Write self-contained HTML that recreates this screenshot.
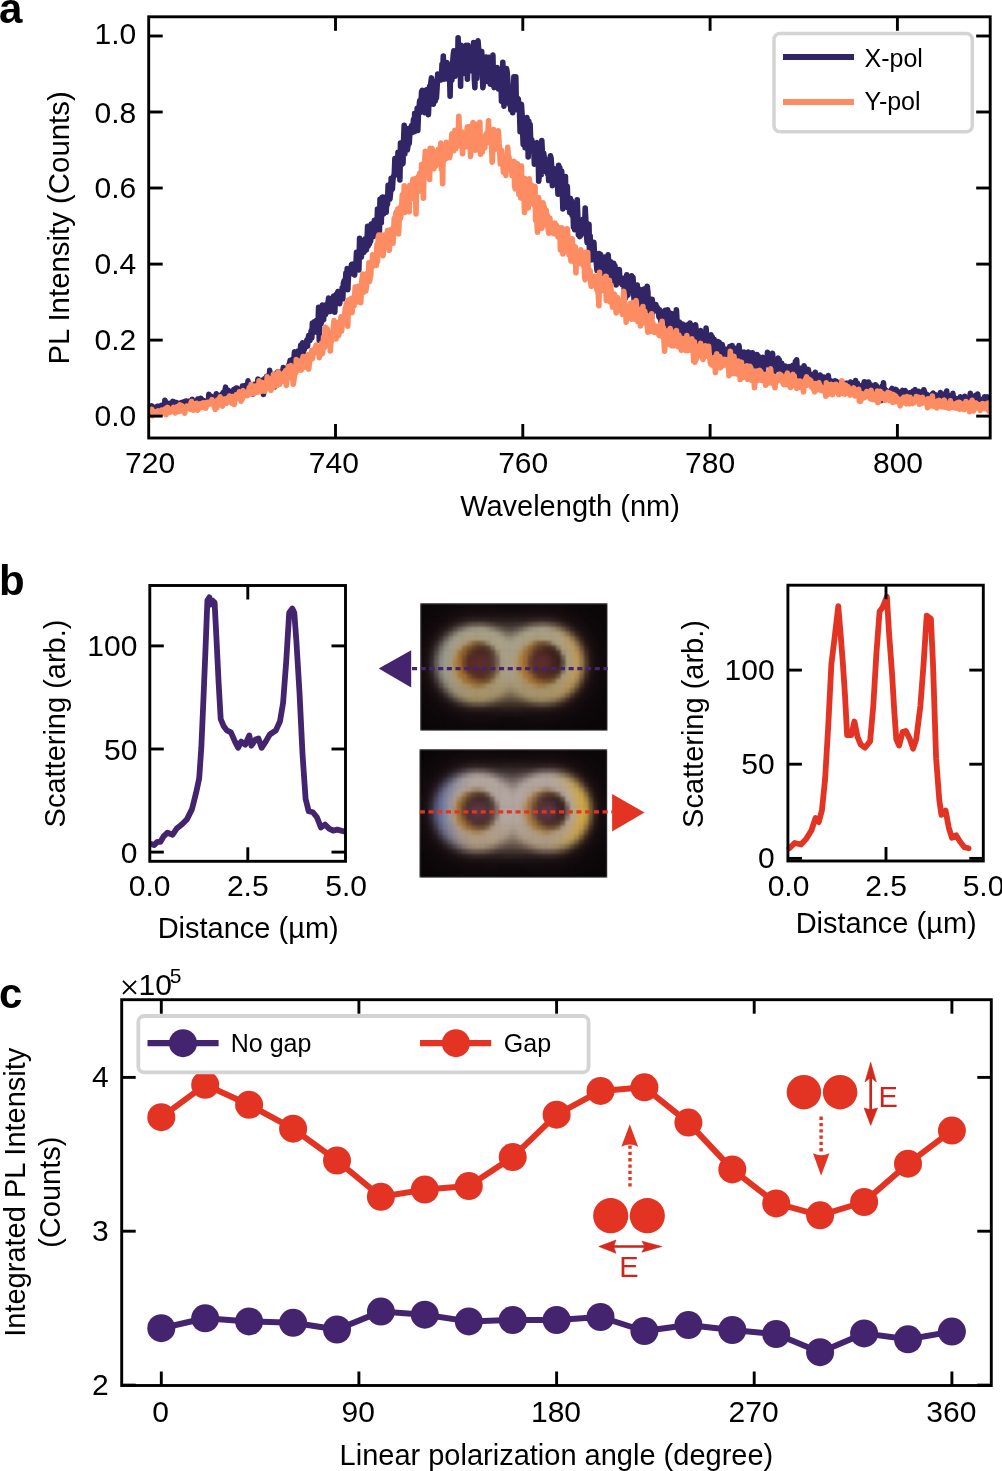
<!DOCTYPE html>
<html><head><meta charset="utf-8"><style>
html,body{margin:0;padding:0;background:#fff;}
svg{display:block;font-family:"Liberation Sans", sans-serif;will-change:transform;}
</style></head><body>
<svg width="1002" height="1471" viewBox="0 0 1002 1471">
<defs>
<clipPath id="clipA"><rect x="148.7" y="16.8" width="841.5" height="421.2"/></clipPath>
<filter id="blur8" x="-50%" y="-50%" width="200%" height="200%"><feGaussianBlur stdDeviation="7"/></filter>
<filter id="blur1" x="-5%" y="-5%" width="110%" height="110%" color-interpolation-filters="sRGB"><feGaussianBlur stdDeviation="1.3"/></filter>
<filter id="blur4" x="-50%" y="-50%" width="200%" height="200%"><feGaussianBlur stdDeviation="4"/></filter>
</defs>
<g clip-path="url(#clipA)">
<path d="M150 409.4 L150.6 410.4 L151.2 409.4 L151.9 405.9 L152.5 410.5 L153.1 409.4 L153.7 407.3 L154.3 409.6 L155 409.1 L155.6 408.8 L156.2 408.2 L156.8 409.2 L157.4 406.3 L158.1 407.4 L158.7 406.6 L159.3 408.9 L159.9 407.5 L160.5 406.7 L161.2 405.5 L161.8 406.5 L162.4 407 L163 406.2 L163.6 409.7 L164.3 408.9 L164.9 400.2 L165.5 402 L166.1 405.9 L166.7 405.2 L167.4 406.6 L168 406.5 L168.6 410.9 L169.2 403.2 L169.8 404.8 L170.5 410.5 L171.1 407.1 L171.7 407.1 L172.3 404.2 L172.9 401.4 L173.6 405.7 L174.2 405.5 L174.8 402.2 L175.4 403.4 L176 404.9 L176.7 402.7 L177.3 404.7 L177.9 405.1 L178.5 404.9 L179.1 403.5 L179.8 406.2 L180.4 406.9 L181 405.4 L181.6 402.5 L182.2 406.3 L182.9 403.2 L183.5 406.6 L184.1 401.7 L184.7 406.6 L185.3 404.2 L186 401.1 L186.6 403.4 L187.2 404.3 L187.8 404.8 L188.4 401.5 L189.1 401.1 L189.7 404.4 L190.3 402.6 L190.9 404.4 L191.5 405.7 L192.2 399.4 L192.8 404.2 L193.4 406.7 L194 402.7 L194.6 401.3 L195.3 405.3 L195.9 403.9 L196.5 405.5 L197.1 402.2 L197.7 399.1 L198.4 402.6 L199 401.7 L199.6 404.8 L200.2 403.2 L200.8 398.2 L201.5 399.3 L202.1 404.7 L202.7 404 L203.3 400.4 L203.9 401.9 L204.6 403 L205.2 402.9 L205.8 403.9 L206.4 402 L207 400.9 L207.7 400.3 L208.3 403.8 L208.9 394.4 L209.5 400.1 L210.1 400.4 L210.8 396.1 L211.4 400.8 L212 397.8 L212.6 402 L213.2 398.9 L213.9 401 L214.5 402.4 L215.1 399.8 L215.7 395.9 L216.3 393.8 L217 403.3 L217.6 397.5 L218.2 395.5 L218.8 397.8 L219.4 396.6 L220.1 399.6 L220.7 396.8 L221.3 396.6 L221.9 394.1 L222.5 397.5 L223.2 392.6 L223.8 397.7 L224.4 400.2 L225 390.4 L225.6 387.2 L226.3 396.8 L226.9 402.8 L227.5 391.2 L228.1 390.2 L228.7 395.9 L229.4 391.1 L230 392 L230.6 392.3 L231.2 395 L231.8 391.8 L232.5 393.8 L233.1 392.1 L233.7 389.7 L234.3 391.3 L234.9 389 L235.6 392 L236.2 388.1 L236.8 388 L237.4 396.4 L238 391.1 L238.7 390.9 L239.3 392.7 L239.9 389.3 L240.5 389.8 L241.1 391.9 L241.8 391.2 L242.4 386.1 L243 392.8 L243.6 387.7 L244.2 385.8 L244.9 386.2 L245.5 387.8 L246.1 394.8 L246.7 384.7 L247.3 389.2 L248 380.9 L248.6 388.3 L249.2 391.3 L249.8 387.1 L250.4 385.5 L251.1 388.4 L251.7 389.9 L252.3 389.6 L252.9 394.1 L253.5 387.5 L254.2 384.4 L254.8 385.9 L255.4 385.9 L256 386.4 L256.6 385.7 L257.3 386.2 L257.9 379.1 L258.5 388.2 L259.1 382.8 L259.7 380.3 L260.4 386.9 L261 389.3 L261.6 385.9 L262.2 384.5 L262.8 380.1 L263.5 394.4 L264.1 386.6 L264.7 378.6 L265.3 379.8 L265.9 382.9 L266.6 376.3 L267.2 382.7 L267.8 380 L268.4 386.4 L269 385.1 L269.7 370.4 L270.3 381 L270.9 374.1 L271.5 384.7 L272.1 380.7 L272.8 381.9 L273.4 375.1 L274 386.5 L274.6 386.9 L275.2 374.1 L275.9 379.6 L276.5 374.9 L277.1 377.2 L277.7 371.7 L278.3 384.2 L279 372 L279.6 374.4 L280.2 377.3 L280.8 371.9 L281.4 373.2 L282.1 371.3 L282.7 372.6 L283.3 367.6 L283.9 370.2 L284.5 370.7 L285.2 369.6 L285.8 370.8 L286.4 368.6 L287 372.7 L287.6 367.3 L288.3 367.6 L288.9 364.6 L289.5 364.6 L290.1 360.6 L290.7 368.2 L291.4 359.8 L292 360.9 L292.6 365.4 L293.2 364.9 L293.8 360.4 L294.5 351.9 L295.1 362.9 L295.7 361.3 L296.3 352.4 L296.9 362.3 L297.6 354.2 L298.2 351.2 L298.8 356.5 L299.4 354.2 L300 355.3 L300.7 345.2 L301.3 361.8 L301.9 348.5 L302.5 342.7 L303.1 353 L303.8 347 L304.4 349.6 L305 345.1 L305.6 345.6 L306.2 346.2 L306.9 339.7 L307.5 346.3 L308.1 338.9 L308.7 335.5 L309.3 339.6 L310 340.5 L310.6 335.5 L311.2 330.7 L311.8 338 L312.4 323.1 L313.1 326.1 L313.7 331.2 L314.3 321.8 L314.9 328.9 L315.5 327.3 L316.2 332 L316.8 320.1 L317.4 320.7 L318 325.5 L318.6 307.4 L319.3 340.4 L319.9 316 L320.5 314.8 L321.1 323.7 L321.7 317 L322.4 305.1 L323 319.3 L323.6 319.7 L324.2 310.5 L324.8 310.6 L325.5 314.6 L326.1 304.7 L326.7 312.5 L327.3 310.1 L327.9 303.5 L328.6 298 L329.2 304.9 L329.8 299.8 L330.4 311.5 L331 305.1 L331.7 308.7 L332.3 303.7 L332.9 303.8 L333.5 296.1 L334.1 305.2 L334.8 312.1 L335.4 297.2 L336 294.6 L336.6 296.8 L337.2 293.8 L337.9 291.5 L338.5 296.5 L339.1 292.7 L339.7 303.7 L340.3 292.8 L341 294.1 L341.6 297.5 L342.2 287.7 L342.8 298.9 L343.4 283.2 L344.1 280.8 L344.7 282.8 L345.3 283.4 L345.9 273 L346.5 281.7 L347.2 268.6 L347.8 289.6 L348.4 277.7 L349 272.4 L349.6 269.2 L350.3 271.8 L350.9 271.8 L351.5 264.5 L352.1 264.2 L352.7 268.5 L353.4 264.8 L354 274.6 L354.6 274.9 L355.2 265.2 L355.8 267.4 L356.5 252.3 L357.1 266.2 L357.7 259.8 L358.3 262.5 L358.9 270 L359.6 238.4 L360.2 257 L360.8 245.1 L361.4 257.2 L362 240.8 L362.7 246 L363.3 250.4 L363.9 252.4 L364.5 246.9 L365.1 238.7 L365.8 239.4 L366.4 249.9 L367 241.4 L367.6 226.4 L368.2 246 L368.9 241.3 L369.5 243.9 L370.1 232.6 L370.7 241.1 L371.3 224.1 L372 236.5 L372.6 226.3 L373.2 234.8 L373.8 236.4 L374.4 220.3 L375.1 224.8 L375.7 224.2 L376.3 232.7 L376.9 227.2 L377.5 209.1 L378.2 222.2 L378.8 223.3 L379.4 233.9 L380 199.2 L380.6 207.7 L381.3 222.6 L381.9 197.4 L382.5 197.2 L383.1 210.9 L383.7 213.9 L384.4 197.2 L385 206.5 L385.6 201.2 L386.2 212.3 L386.8 196.9 L387.5 204.3 L388.1 185.4 L388.7 190.3 L389.3 189.4 L389.9 199.2 L390.6 192.3 L391.2 178.2 L391.8 189.8 L392.4 188.9 L393 178.9 L393.7 175.7 L394.3 174.5 L394.9 158.5 L395.5 174.6 L396.1 173.3 L396.8 160.9 L397.4 174.7 L398 152.4 L398.6 158.6 L399.2 157.6 L399.9 179.9 L400.5 143.1 L401.1 162.5 L401.7 164.5 L402.3 157.2 L403 163.4 L403.6 139.9 L404.2 125.3 L404.8 154 L405.4 132.5 L406.1 139.5 L406.7 129.1 L407.3 150 L407.9 146.4 L408.5 128.5 L409.2 143.5 L409.8 133.8 L410.4 129.5 L411 129.9 L411.6 125.6 L412.3 132.5 L412.9 127.7 L413.5 119.3 L414.1 131.8 L414.7 113.3 L415.4 121.2 L416 121 L416.6 130.7 L417.2 108.2 L417.8 130.5 L418.5 112.4 L419.1 107 L419.7 100.5 L420.3 112.6 L420.9 105.5 L421.6 91.8 L422.2 90.3 L422.8 95.2 L423.4 92.7 L424 110.7 L424.7 112.6 L425.3 106 L425.9 99.4 L426.5 89.7 L427.1 93.9 L427.8 102 L428.4 114.6 L429 100.3 L429.6 86.2 L430.2 88.7 L430.9 82.1 L431.5 77.9 L432.1 83.6 L432.7 86.9 L433.3 104.2 L434 83.7 L434.6 97.4 L435.2 101.2 L435.8 81.7 L436.4 98 L437.1 87.4 L437.7 74.1 L438.3 81 L438.9 77.7 L439.5 74.2 L440.2 73.9 L440.8 77.1 L441.4 79.8 L442 64.4 L442.6 73.7 L443.3 56.1 L443.9 75.6 L444.5 79.1 L445.1 73.4 L445.7 74.3 L446.4 77.2 L447 62.5 L447.6 66.8 L448.2 74.7 L448.8 79.7 L449.5 72.3 L450.1 96.3 L450.7 65.8 L451.3 77.6 L451.9 80.2 L452.6 63.8 L453.2 55.5 L453.8 50.9 L454.4 65.8 L455 76.2 L455.7 66.3 L456.3 64.8 L456.9 58.2 L457.5 68.7 L458.1 37.7 L458.8 64.6 L459.4 62.1 L460 45.9 L460.6 86.3 L461.2 45.4 L461.9 48.8 L462.5 47.2 L463.1 73.5 L463.7 50.6 L464.3 68.2 L465 67.2 L465.6 63.4 L466.2 45.3 L466.8 53.2 L467.4 79.3 L468.1 45.3 L468.7 50.5 L469.3 58.2 L469.9 69.3 L470.5 62.9 L471.2 68.6 L471.8 48 L472.4 71.2 L473 67.1 L473.6 42.6 L474.3 78.7 L474.9 87.6 L475.5 53 L476.1 62.8 L476.7 78.5 L477.4 46.1 L478 40.7 L478.6 49 L479.2 57.8 L479.8 58.1 L480.5 71.9 L481.1 68.5 L481.7 51.6 L482.3 72.6 L482.9 87.7 L483.6 80.3 L484.2 78.3 L484.8 67.6 L485.4 78.8 L486 57.1 L486.7 76.8 L487.3 67.6 L487.9 81.7 L488.5 74.6 L489.1 57.3 L489.8 71.4 L490.4 84.1 L491 58 L491.6 64.8 L492.2 62.9 L492.9 55.1 L493.5 83.2 L494.1 87.6 L494.7 82.4 L495.3 76.7 L496 74 L496.6 77.8 L497.2 67.6 L497.8 86.5 L498.4 88.9 L499.1 88.4 L499.7 72.9 L500.3 80.5 L500.9 78.6 L501.5 101.2 L502.2 84.2 L502.8 62.3 L503.4 88.6 L504 106.1 L504.6 94 L505.3 97.3 L505.9 89.3 L506.5 68.5 L507.1 71.6 L507.7 79.2 L508.4 92.8 L509 98.9 L509.6 104.4 L510.2 94.5 L510.8 109.9 L511.5 97.9 L512.1 94.6 L512.7 112.7 L513.3 94.9 L513.9 76.7 L514.6 95.9 L515.2 109.5 L515.8 76.9 L516.4 107.2 L517 108.7 L517.7 98.3 L518.3 99 L518.9 111 L519.5 111.4 L520.1 131.6 L520.8 123.6 L521.4 104.3 L522 113.2 L522.6 130.7 L523.2 144.3 L523.9 129.8 L524.5 130.3 L525.1 147.6 L525.7 129.3 L526.3 127.7 L527 117.6 L527.6 128.2 L528.2 157 L528.8 121.4 L529.4 137.4 L530.1 124.2 L530.7 141.1 L531.3 150 L531.9 139.8 L532.5 150.8 L533.2 151.9 L533.8 150.3 L534.4 164.1 L535 155.8 L535.6 146.1 L536.3 143.4 L536.9 142.8 L537.5 156.9 L538.1 150 L538.7 181.2 L539.4 173.4 L540 154.1 L540.6 153.9 L541.2 174.7 L541.8 140.6 L542.5 155.6 L543.1 170.3 L543.7 153 L544.3 158.3 L544.9 160.5 L545.6 171.3 L546.2 167.2 L546.8 170.7 L547.4 173.6 L548 169.1 L548.7 180.5 L549.3 163.8 L549.9 158.1 L550.5 155.8 L551.1 158.4 L551.8 169.6 L552.4 185.6 L553 178.5 L553.6 172.1 L554.2 168.7 L554.9 174.8 L555.5 177 L556.1 176.5 L556.7 169.4 L557.3 179.3 L558 194.2 L558.6 165.4 L559.2 184.4 L559.8 167.9 L560.4 190.2 L561.1 182.5 L561.7 171.1 L562.3 192.2 L562.9 208.9 L563.5 194.2 L564.2 204.8 L564.8 194.5 L565.4 176.6 L566 201.7 L566.6 194.6 L567.3 186.3 L567.9 207.7 L568.5 204.5 L569.1 198.5 L569.7 212.4 L570.4 198.4 L571 213.4 L571.6 200.9 L572.2 215.5 L572.8 202.8 L573.5 227.1 L574.1 217.9 L574.7 229.7 L575.3 211.8 L575.9 216.3 L576.6 229.2 L577.2 199.9 L577.8 215.7 L578.4 234.8 L579 231.2 L579.7 236.7 L580.3 226.9 L580.9 235.3 L581.5 225.5 L582.1 221.2 L582.8 219.5 L583.4 230 L584 231 L584.6 231.3 L585.2 208.1 L585.9 221.9 L586.5 234.9 L587.1 242.6 L587.7 236.4 L588.3 235 L589 224.3 L589.6 260.4 L590.2 236.1 L590.8 259.7 L591.4 259.7 L592.1 250.4 L592.7 244.8 L593.3 251.5 L593.9 242.4 L594.5 254.7 L595.2 253.8 L595.8 259 L596.4 263.4 L597 270.5 L597.6 254.9 L598.3 267 L598.9 253.6 L599.5 253.7 L600.1 256.6 L600.7 254.5 L601.4 270.2 L602 270.4 L602.6 273.6 L603.2 264.2 L603.8 266.9 L604.5 260.9 L605.1 257 L605.7 269.6 L606.3 268.7 L606.9 258.7 L607.6 271.9 L608.2 254.8 L608.8 267 L609.4 264.1 L610 265.4 L610.7 261.7 L611.3 277.6 L611.9 275.2 L612.5 280.5 L613.1 273.3 L613.8 263.3 L614.4 270.9 L615 265.7 L615.6 278.6 L616.2 284.9 L616.9 279.2 L617.5 273.2 L618.1 275.7 L618.7 280.7 L619.3 269.5 L620 281.9 L620.6 282.9 L621.2 278.3 L621.8 279.9 L622.4 284.8 L623.1 278.2 L623.7 278.8 L624.3 290.8 L624.9 287.3 L625.5 298.2 L626.2 279.8 L626.8 274.7 L627.4 294.4 L628 295 L628.6 283.5 L629.3 278.8 L629.9 289.3 L630.5 277.8 L631.1 288.1 L631.7 275.7 L632.4 289.8 L633 277.2 L633.6 290.8 L634.2 303.4 L634.8 291.5 L635.5 299.2 L636.1 289.9 L636.7 288.7 L637.3 285 L637.9 303 L638.6 295.9 L639.2 307.9 L639.8 289.3 L640.4 296.3 L641 298.8 L641.7 308.3 L642.3 311.6 L642.9 295.4 L643.5 292.6 L644.1 289.1 L644.8 310.2 L645.4 301.1 L646 297.9 L646.6 302.4 L647.2 286.2 L647.9 292.2 L648.5 310.4 L649.1 307.3 L649.7 306.2 L650.3 299.1 L651 310.1 L651.6 318.4 L652.2 299.2 L652.8 307.8 L653.4 305.4 L654.1 311.1 L654.7 309.3 L655.3 308.8 L655.9 304.5 L656.5 310.6 L657.2 307.3 L657.8 310.9 L658.4 311.9 L659 317.1 L659.6 309.7 L660.3 311.9 L660.9 321.3 L661.5 313.7 L662.1 313.9 L662.7 321.6 L663.4 318.3 L664 317.6 L664.6 318.9 L665.2 310.2 L665.8 321.2 L666.5 326.9 L667.1 322.6 L667.7 309.7 L668.3 321.4 L668.9 314.3 L669.6 318.8 L670.2 321.2 L670.8 313.3 L671.4 329.1 L672 320.7 L672.7 326.2 L673.3 325.4 L673.9 330 L674.5 329.3 L675.1 313.2 L675.8 322.7 L676.4 309.7 L677 320.3 L677.6 327.6 L678.2 329.2 L678.9 331.8 L679.5 322 L680.1 326.6 L680.7 325.6 L681.3 333 L682 335.4 L682.6 324.1 L683.2 349.3 L683.8 327 L684.4 325.2 L685.1 331.4 L685.7 332.7 L686.3 331.8 L686.9 325.1 L687.5 338 L688.2 329.9 L688.8 339 L689.4 338.4 L690 323 L690.6 325 L691.3 325.1 L691.9 332.7 L692.5 331.8 L693.1 333.2 L693.7 327.1 L694.4 334.6 L695 340.5 L695.6 324.8 L696.2 331.7 L696.8 334.5 L697.5 332.6 L698.1 332.4 L698.7 344.1 L699.3 341.6 L699.9 339.4 L700.6 330.6 L701.2 348.2 L701.8 338 L702.4 333.1 L703 335.1 L703.7 334.8 L704.3 350.1 L704.9 339.9 L705.5 339.7 L706.1 328 L706.8 344.7 L707.4 335.4 L708 335.7 L708.6 345.8 L709.2 338.3 L709.9 348.1 L710.5 350.2 L711.1 334.9 L711.7 344.3 L712.3 336.9 L713 345.5 L713.6 351.1 L714.2 339.3 L714.8 356.6 L715.4 345.7 L716.1 341.5 L716.7 347.4 L717.3 352.6 L717.9 341.6 L718.5 349.2 L719.2 342.3 L719.8 356.1 L720.4 351 L721 348.3 L721.6 356.2 L722.3 344.5 L722.9 349.4 L723.5 361.2 L724.1 351.4 L724.7 359.2 L725.4 353.5 L726 349.2 L726.6 351.8 L727.2 353.6 L727.8 351.4 L728.5 349.5 L729.1 349.9 L729.7 346.5 L730.3 354.8 L730.9 356.4 L731.6 358.3 L732.2 345.6 L732.8 358.9 L733.4 354.9 L734 347.9 L734.7 355.7 L735.3 359.5 L735.9 358.1 L736.5 359.2 L737.1 360.4 L737.8 360.3 L738.4 355.7 L739 345.6 L739.6 352.3 L740.2 358 L740.9 354 L741.5 359.9 L742.1 360.5 L742.7 356.9 L743.3 366.1 L744 352 L744.6 361.6 L745.2 354.8 L745.8 353.4 L746.4 360.3 L747.1 354.5 L747.7 361.9 L748.3 352.1 L748.9 358.2 L749.5 354 L750.2 357.2 L750.8 356.6 L751.4 353.1 L752 362 L752.6 352.9 L753.3 354.4 L753.9 363.7 L754.5 364.3 L755.1 363 L755.7 361.6 L756.4 371.2 L757 354.5 L757.6 356.9 L758.2 355.9 L758.8 365.3 L759.5 362.5 L760.1 366.7 L760.7 366.2 L761.3 360.6 L761.9 358 L762.6 357.4 L763.2 372.8 L763.8 367.1 L764.4 365.5 L765 361.3 L765.7 362.1 L766.3 361.6 L766.9 361.9 L767.5 352.3 L768.1 363.5 L768.8 362.2 L769.4 365.6 L770 365.4 L770.6 368.6 L771.2 364.7 L771.9 368.7 L772.5 353.3 L773.1 360.2 L773.7 373.5 L774.3 360.1 L775 364.6 L775.6 369.3 L776.2 362.2 L776.8 369.8 L777.4 360.1 L778.1 358.1 L778.7 360.9 L779.3 359.7 L779.9 367.3 L780.5 366.1 L781.2 369.3 L781.8 363.3 L782.4 379.6 L783 367.9 L783.6 368.3 L784.3 370.8 L784.9 367.8 L785.5 366.2 L786.1 369.6 L786.7 373.6 L787.4 372.6 L788 374 L788.6 367.5 L789.2 366.8 L789.8 379.3 L790.5 369.5 L791.1 372.9 L791.7 374.2 L792.3 377.4 L792.9 365.4 L793.6 369.4 L794.2 369.8 L794.8 370.6 L795.4 361.6 L796 371.8 L796.7 359.9 L797.3 373.9 L797.9 375.1 L798.5 375.6 L799.1 368 L799.8 377.5 L800.4 369.9 L801 368.5 L801.6 369.7 L802.2 370.5 L802.9 375 L803.5 378 L804.1 365.8 L804.7 372.6 L805.3 378.9 L806 376.1 L806.6 377.6 L807.2 369.3 L807.8 379.8 L808.4 369.5 L809.1 377 L809.7 382.1 L810.3 384.4 L810.9 378.9 L811.5 380.6 L812.2 374.6 L812.8 375.3 L813.4 382.3 L814 377.7 L814.6 377.4 L815.3 372.3 L815.9 378.9 L816.5 381.1 L817.1 375.4 L817.7 376.8 L818.4 385.4 L819 379.9 L819.6 378.2 L820.2 375 L820.8 377.3 L821.5 378.9 L822.1 385.6 L822.7 377.9 L823.3 387.7 L823.9 377.1 L824.6 379.6 L825.2 384.5 L825.8 380.5 L826.4 378.4 L827 381.3 L827.7 383.8 L828.3 375.6 L828.9 381.5 L829.5 382.2 L830.1 381.3 L830.8 385.9 L831.4 381.1 L832 382 L832.6 383.8 L833.2 386.6 L833.9 383.1 L834.5 389.8 L835.1 380.8 L835.7 389.2 L836.3 381.3 L837 384 L837.6 386.1 L838.2 392.5 L838.8 388.2 L839.4 383.4 L840.1 389.9 L840.7 384.3 L841.3 382.2 L841.9 386.9 L842.5 385.6 L843.2 388.9 L843.8 383.4 L844.4 386.9 L845 387.9 L845.6 386.6 L846.3 385.5 L846.9 383.1 L847.5 389.1 L848.1 386.3 L848.7 387.6 L849.4 384.6 L850 386 L850.6 382.1 L851.2 386.3 L851.8 388.9 L852.5 386.5 L853.1 389.4 L853.7 387.4 L854.3 391.4 L854.9 385.7 L855.6 380.5 L856.2 388.2 L856.8 386.1 L857.4 383.2 L858 389.2 L858.7 387.9 L859.3 388.7 L859.9 386 L860.5 388 L861.1 388.4 L861.8 394 L862.4 385.2 L863 387.8 L863.6 389.2 L864.2 381.9 L864.9 382.5 L865.5 396.1 L866.1 382.2 L866.7 390.7 L867.3 385.7 L868 386.2 L868.6 382 L869.2 386 L869.8 392.1 L870.4 384.6 L871.1 391.7 L871.7 390.8 L872.3 396.9 L872.9 388.3 L873.5 394.5 L874.2 393.3 L874.8 389.4 L875.4 384.7 L876 395.8 L876.6 386.1 L877.3 389.3 L877.9 394.1 L878.5 395 L879.1 388.5 L879.7 391.4 L880.4 390.8 L881 395.8 L881.6 400.4 L882.2 386 L882.8 395.3 L883.5 382.9 L884.1 392.6 L884.7 389 L885.3 399.4 L885.9 393.5 L886.6 390.6 L887.2 391.5 L887.8 391.4 L888.4 394 L889 392.9 L889.7 395.7 L890.3 398.6 L890.9 395.9 L891.5 389.7 L892.1 388.5 L892.8 391.3 L893.4 397.2 L894 392.8 L894.6 391.7 L895.2 394.4 L895.9 389.4 L896.5 390.3 L897.1 395.7 L897.7 393.1 L898.3 392.6 L899 395.1 L899.6 392.2 L900.2 391.9 L900.8 392.7 L901.4 396.1 L902.1 394.4 L902.7 390.4 L903.3 393.3 L903.9 396.3 L904.5 400.3 L905.2 390.6 L905.8 395.4 L906.4 393.5 L907 397 L907.6 395.8 L908.3 399.2 L908.9 396.1 L909.5 392.8 L910.1 392.8 L910.7 395.9 L911.4 395.9 L912 402.3 L912.6 400.1 L913.2 391 L913.8 395.9 L914.5 390.6 L915.1 389.6 L915.7 397.3 L916.3 396.7 L916.9 391.7 L917.6 400.3 L918.2 392 L918.8 391.5 L919.4 397.3 L920 396 L920.7 394.9 L921.3 395.2 L921.9 396.2 L922.5 395.1 L923.1 395 L923.8 389.7 L924.4 391.5 L925 397.7 L925.6 393.6 L926.2 397.6 L926.9 399.8 L927.5 394.9 L928.1 396.9 L928.7 402.6 L929.3 398.3 L930 401.9 L930.6 401.1 L931.2 398.7 L931.8 396.1 L932.4 393.9 L933.1 393.2 L933.7 398.1 L934.3 398.1 L934.9 396.2 L935.5 399.4 L936.2 395.1 L936.8 400.4 L937.4 397.2 L938 397 L938.6 397.2 L939.3 397 L939.9 404.9 L940.5 392.6 L941.1 398 L941.7 401.3 L942.4 399.8 L943 396.8 L943.6 403 L944.2 394.7 L944.8 394 L945.5 399.7 L946.1 393.8 L946.7 391.1 L947.3 400.9 L947.9 400.6 L948.6 400.6 L949.2 397.1 L949.8 399.1 L950.4 395.8 L951 403.8 L951.7 401.2 L952.3 401.1 L952.9 393.4 L953.5 401.5 L954.1 403.5 L954.8 402.8 L955.4 401.7 L956 399.5 L956.6 398.6 L957.2 401.4 L957.9 400.8 L958.5 400.5 L959.1 399 L959.7 404.7 L960.3 396.7 L961 400 L961.6 398.4 L962.2 403.1 L962.8 404.2 L963.4 403.7 L964.1 402.4 L964.7 396.3 L965.3 406.2 L965.9 401.8 L966.5 400 L967.2 400.4 L967.8 399.4 L968.4 401.6 L969 401.3 L969.6 399.5 L970.3 393.3 L970.9 400.4 L971.5 401.9 L972.1 402.1 L972.7 400.2 L973.4 401.9 L974 403.5 L974.6 399.4 L975.2 404.8 L975.8 395.3 L976.5 397.2 L977.1 398.2 L977.7 394 L978.3 398 L978.9 404.3 L979.6 404.3 L980.2 401.1 L980.8 405.6 L981.4 401.5 L982 399.5 L982.7 401.6 L983.3 400.5 L983.9 403 L984.5 396.8 L985.1 403.7 L985.8 399.7 L986.4 403.3 L987 396.7 L987.6 399.8 L988.2 401.2 L988.9 403.5 L989.5 397.6" fill="none" stroke="#312565" stroke-width="5.6" stroke-linejoin="round" stroke-linecap="round" />
<path d="M150 413.5 L150.6 412.4 L151.2 412.5 L151.9 409.4 L152.5 415.8 L153.1 414.8 L153.7 412.4 L154.3 414.1 L155 413.2 L155.6 411.8 L156.2 414.2 L156.8 412 L157.4 411.9 L158.1 411 L158.7 413 L159.3 412 L159.9 412.9 L160.5 410.9 L161.2 412 L161.8 410.1 L162.4 413 L163 411.8 L163.6 411.9 L164.3 412 L164.9 409.2 L165.5 412.4 L166.1 414.7 L166.7 407.7 L167.4 407.4 L168 407.7 L168.6 412 L169.2 410.6 L169.8 412.3 L170.5 411.5 L171.1 410.4 L171.7 410.5 L172.3 409.5 L172.9 411.5 L173.6 407.4 L174.2 408.7 L174.8 410 L175.4 413 L176 407.8 L176.7 407 L177.3 408 L177.9 411 L178.5 408.5 L179.1 411.6 L179.8 404.9 L180.4 411.1 L181 410.8 L181.6 405.5 L182.2 408.7 L182.9 410.9 L183.5 408.4 L184.1 410.3 L184.7 413.2 L185.3 408.6 L186 407.3 L186.6 406.1 L187.2 409.1 L187.8 407.2 L188.4 407.1 L189.1 407.2 L189.7 408.8 L190.3 404.8 L190.9 403.7 L191.5 401.5 L192.2 409.7 L192.8 407 L193.4 410.2 L194 406.6 L194.6 404.9 L195.3 407.6 L195.9 406.2 L196.5 403.3 L197.1 404.1 L197.7 410.2 L198.4 406.8 L199 406.8 L199.6 405.1 L200.2 404 L200.8 407.7 L201.5 405.2 L202.1 403.5 L202.7 404.9 L203.3 402.9 L203.9 405.5 L204.6 407.7 L205.2 402.7 L205.8 408.2 L206.4 402.9 L207 404.9 L207.7 402.3 L208.3 403.7 L208.9 404.3 L209.5 402.9 L210.1 402.1 L210.8 402.1 L211.4 401.6 L212 399.6 L212.6 402.8 L213.2 404.4 L213.9 405.6 L214.5 404.8 L215.1 409.4 L215.7 403.7 L216.3 401.6 L217 407.6 L217.6 399.7 L218.2 405 L218.8 399.7 L219.4 403.1 L220.1 396.7 L220.7 404.3 L221.3 401.3 L221.9 399 L222.5 406.1 L223.2 403.4 L223.8 401.3 L224.4 399 L225 400.8 L225.6 400.3 L226.3 402.6 L226.9 402.7 L227.5 398.4 L228.1 398.6 L228.7 398.5 L229.4 396 L230 398 L230.6 399.2 L231.2 401.3 L231.8 403 L232.5 396.6 L233.1 400.4 L233.7 397.2 L234.3 404.5 L234.9 398 L235.6 399.4 L236.2 394.9 L236.8 395 L237.4 397.9 L238 395.9 L238.7 397.9 L239.3 391.8 L239.9 398.4 L240.5 393.3 L241.1 401.2 L241.8 394.7 L242.4 398.8 L243 390.6 L243.6 396.2 L244.2 391.7 L244.9 392.7 L245.5 394.1 L246.1 392.7 L246.7 394.4 L247.3 395.7 L248 395.1 L248.6 392.4 L249.2 387.9 L249.8 389.4 L250.4 391.2 L251.1 384.4 L251.7 393.9 L252.3 390.2 L252.9 389.9 L253.5 393.7 L254.2 392.5 L254.8 390.7 L255.4 386.1 L256 390.4 L256.6 390.3 L257.3 385.7 L257.9 392.2 L258.5 390.1 L259.1 380.9 L259.7 388.2 L260.4 382.9 L261 391.3 L261.6 389.9 L262.2 382.6 L262.8 383.2 L263.5 386.5 L264.1 385 L264.7 391.3 L265.3 388.1 L265.9 384 L266.6 387 L267.2 376.9 L267.8 385.5 L268.4 387.3 L269 383.1 L269.7 380.8 L270.3 385.4 L270.9 390.5 L271.5 383.5 L272.1 378.1 L272.8 387.8 L273.4 374.6 L274 383.6 L274.6 379.1 L275.2 384.8 L275.9 377.5 L276.5 385.8 L277.1 381.5 L277.7 373.1 L278.3 371.8 L279 378.1 L279.6 384.3 L280.2 379.3 L280.8 378.8 L281.4 377.3 L282.1 380.9 L282.7 379.2 L283.3 378.5 L283.9 372.9 L284.5 381.6 L285.2 382 L285.8 370.6 L286.4 385.4 L287 378.4 L287.6 373 L288.3 366.6 L288.9 377.1 L289.5 376.4 L290.1 371.1 L290.7 365.6 L291.4 377.8 L292 370 L292.6 370.1 L293.2 384.2 L293.8 380.7 L294.5 375.2 L295.1 368.6 L295.7 373.1 L296.3 359.6 L296.9 369.8 L297.6 365.5 L298.2 362.7 L298.8 360.9 L299.4 370 L300 367.5 L300.7 367.4 L301.3 370.1 L301.9 361.8 L302.5 359.5 L303.1 356.5 L303.8 362.7 L304.4 367.3 L305 362.6 L305.6 365.8 L306.2 356.6 L306.9 359.5 L307.5 357.5 L308.1 354.6 L308.7 369.1 L309.3 363.7 L310 355.3 L310.6 354.7 L311.2 357.6 L311.8 350.2 L312.4 358.9 L313.1 349.7 L313.7 353.7 L314.3 349.8 L314.9 351.9 L315.5 347 L316.2 345.1 L316.8 347.5 L317.4 348.3 L318 349.6 L318.6 350.8 L319.3 357.7 L319.9 353.2 L320.5 346.9 L321.1 351.3 L321.7 343 L322.4 353.7 L323 348.1 L323.6 337 L324.2 347.6 L324.8 347.2 L325.5 327.2 L326.1 337 L326.7 337.8 L327.3 328.9 L327.9 332.9 L328.6 332.8 L329.2 340.3 L329.8 338.4 L330.4 351 L331 333 L331.7 341.2 L332.3 334.3 L332.9 334.7 L333.5 325.7 L334.1 320.6 L334.8 326.5 L335.4 334.7 L336 338.9 L336.6 332.3 L337.2 330.9 L337.9 322.2 L338.5 335.6 L339.1 333.6 L339.7 321.5 L340.3 323.5 L341 316.8 L341.6 331 L342.2 323.6 L342.8 319.5 L343.4 321.7 L344.1 320.9 L344.7 314.6 L345.3 308.3 L345.9 307 L346.5 303 L347.2 316 L347.8 326.2 L348.4 300 L349 310.8 L349.6 311.5 L350.3 301.3 L350.9 308.1 L351.5 298.4 L352.1 312.6 L352.7 299.6 L353.4 303.2 L354 306 L354.6 297.5 L355.2 287.1 L355.8 294.6 L356.5 302.3 L357.1 295.4 L357.7 296.5 L358.3 286.3 L358.9 293.7 L359.6 296.6 L360.2 290.6 L360.8 302.7 L361.4 286.6 L362 279.5 L362.7 274.1 L363.3 292.7 L363.9 282.8 L364.5 289.2 L365.1 283.9 L365.8 291 L366.4 287 L367 273.6 L367.6 276.9 L368.2 281.5 L368.9 262.8 L369.5 281.4 L370.1 278.2 L370.7 275.1 L371.3 264.7 L372 267.2 L372.6 254.9 L373.2 262.6 L373.8 256.3 L374.4 260.3 L375.1 254.6 L375.7 259.6 L376.3 265.5 L376.9 244.9 L377.5 261.4 L378.2 237.4 L378.8 235 L379.4 250.2 L380 250.3 L380.6 252.8 L381.3 235.1 L381.9 246.9 L382.5 247.5 L383.1 255.7 L383.7 243.8 L384.4 247.9 L385 234.7 L385.6 240.2 L386.2 237.1 L386.8 245.4 L387.5 230.5 L388.1 230.7 L388.7 241.2 L389.3 250.2 L389.9 237.5 L390.6 235.7 L391.2 229.2 L391.8 240.1 L392.4 234.4 L393 243.3 L393.7 230.4 L394.3 218.4 L394.9 220.4 L395.5 215.7 L396.1 212.3 L396.8 232.7 L397.4 227.7 L398 208.9 L398.6 233.9 L399.2 219.5 L399.9 207.9 L400.5 218.5 L401.1 213.5 L401.7 206.2 L402.3 194.8 L403 211.1 L403.6 212.2 L404.2 185.7 L404.8 212.4 L405.4 211.8 L406.1 201 L406.7 205.1 L407.3 200.5 L407.9 194.3 L408.5 197.5 L409.2 211.8 L409.8 185.3 L410.4 199.4 L411 197.8 L411.6 188.4 L412.3 189.6 L412.9 179.4 L413.5 183.1 L414.1 189.7 L414.7 191.3 L415.4 178.5 L416 214 L416.6 178.8 L417.2 184 L417.8 179.3 L418.5 176.4 L419.1 191.2 L419.7 173.2 L420.3 189.2 L420.9 186.3 L421.6 164.5 L422.2 183.4 L422.8 166.5 L423.4 198.1 L424 167.4 L424.7 161.4 L425.3 151.3 L425.9 156.6 L426.5 162.8 L427.1 158.2 L427.8 155.3 L428.4 159.9 L429 164 L429.6 179.5 L430.2 148.4 L430.9 159 L431.5 154.6 L432.1 148.6 L432.7 150.4 L433.3 153.3 L434 168.6 L434.6 159.1 L435.2 155.2 L435.8 165.8 L436.4 162 L437.1 156.4 L437.7 161.8 L438.3 149.3 L438.9 163 L439.5 160.9 L440.2 151.6 L440.8 143.1 L441.4 169.5 L442 154.9 L442.6 183.6 L443.3 146.3 L443.9 160.7 L444.5 147.4 L445.1 153.7 L445.7 158.9 L446.4 142.2 L447 148.6 L447.6 150.7 L448.2 149.7 L448.8 153.9 L449.5 157.7 L450.1 155.2 L450.7 149 L451.3 142.3 L451.9 133.9 L452.6 137.3 L453.2 138.9 L453.8 150.6 L454.4 139.6 L455 130.3 L455.7 148.8 L456.3 133.9 L456.9 133.9 L457.5 139.1 L458.1 145.9 L458.8 116.4 L459.4 129.3 L460 142.2 L460.6 136.5 L461.2 131.2 L461.9 134.2 L462.5 153.6 L463.1 134.7 L463.7 146.3 L464.3 147 L465 134.2 L465.6 143.1 L466.2 133.9 L466.8 132.1 L467.4 126.8 L468.1 147 L468.7 134 L469.3 132.4 L469.9 126.5 L470.5 156.4 L471.2 145.6 L471.8 136.7 L472.4 131 L473 122.5 L473.6 141.1 L474.3 141.1 L474.9 124 L475.5 150.2 L476.1 146.3 L476.7 128.7 L477.4 132.9 L478 134.3 L478.6 140.4 L479.2 137.4 L479.8 122.3 L480.5 154.1 L481.1 142.4 L481.7 152.1 L482.3 152.2 L482.9 137.5 L483.6 143.2 L484.2 147.3 L484.8 147.8 L485.4 138.5 L486 134.1 L486.7 141 L487.3 132.7 L487.9 135.4 L488.5 120.8 L489.1 142.4 L489.8 131.5 L490.4 136.5 L491 141.9 L491.6 146 L492.2 162.2 L492.9 145.6 L493.5 129.6 L494.1 145.6 L494.7 138.7 L495.3 149.3 L496 139.1 L496.6 139.5 L497.2 142.3 L497.8 142 L498.4 130.9 L499.1 143.4 L499.7 150.8 L500.3 163.8 L500.9 149.9 L501.5 150.1 L502.2 160.4 L502.8 160.9 L503.4 172.2 L504 163.2 L504.6 158.2 L505.3 172.5 L505.9 175.4 L506.5 156.9 L507.1 164.1 L507.7 147.2 L508.4 161.1 L509 157.1 L509.6 164.7 L510.2 163.1 L510.8 167.2 L511.5 168.8 L512.1 175.5 L512.7 173.9 L513.3 167.3 L513.9 161.2 L514.6 186.2 L515.2 188.8 L515.8 171.9 L516.4 182.4 L517 163.5 L517.7 164 L518.3 177.1 L518.9 194.3 L519.5 171.5 L520.1 174.3 L520.8 198 L521.4 166.1 L522 190.7 L522.6 190.1 L523.2 184.5 L523.9 189 L524.5 212.4 L525.1 178.6 L525.7 186.9 L526.3 188.5 L527 185.2 L527.6 180.1 L528.2 207.9 L528.8 196.1 L529.4 178.9 L530.1 189.5 L530.7 200.4 L531.3 201.3 L531.9 185.4 L532.5 198.5 L533.2 202.6 L533.8 204.6 L534.4 205.5 L535 186.5 L535.6 220.3 L536.3 206.6 L536.9 221.7 L537.5 232.1 L538.1 206.1 L538.7 197.6 L539.4 217.1 L540 208.8 L540.6 207.4 L541.2 203.3 L541.8 228.1 L542.5 210.3 L543.1 202.9 L543.7 212.1 L544.3 206.8 L544.9 219.1 L545.6 214.9 L546.2 210.2 L546.8 225.3 L547.4 215.3 L548 227.8 L548.7 233.1 L549.3 219.9 L549.9 218.2 L550.5 226.1 L551.1 232.6 L551.8 225.7 L552.4 227.5 L553 226.8 L553.6 230.3 L554.2 233.7 L554.9 223.1 L555.5 225.6 L556.1 230.8 L556.7 225.5 L557.3 233 L558 237 L558.6 233.1 L559.2 229 L559.8 228.3 L560.4 250 L561.1 243.5 L561.7 227.7 L562.3 230.8 L562.9 253.9 L563.5 251.7 L564.2 241 L564.8 250.2 L565.4 229.4 L566 242.3 L566.6 249 L567.3 228.7 L567.9 238.2 L568.5 251.6 L569.1 255.1 L569.7 241.9 L570.4 249.7 L571 260.9 L571.6 245.8 L572.2 238.9 L572.8 249.7 L573.5 247.8 L574.1 262 L574.7 253.7 L575.3 246.8 L575.9 272.8 L576.6 250.7 L577.2 259.2 L577.8 261.6 L578.4 263.2 L579 259.3 L579.7 263.4 L580.3 259.2 L580.9 249.7 L581.5 260 L582.1 261.2 L582.8 262.4 L583.4 265.8 L584 261.1 L584.6 276.9 L585.2 279.8 L585.9 252.4 L586.5 270.1 L587.1 265.7 L587.7 252.6 L588.3 276 L589 269.3 L589.6 272 L590.2 270.8 L590.8 284.5 L591.4 286.4 L592.1 280.2 L592.7 284 L593.3 279 L593.9 281.6 L594.5 276 L595.2 282.4 L595.8 277.8 L596.4 286.3 L597 290.3 L597.6 287.3 L598.3 294.2 L598.9 305.6 L599.5 272.2 L600.1 287.8 L600.7 284.3 L601.4 285.7 L602 279.9 L602.6 290.4 L603.2 288.8 L603.8 286.7 L604.5 289.8 L605.1 287.9 L605.7 276.3 L606.3 300.5 L606.9 291.4 L607.6 287.4 L608.2 296.5 L608.8 290.3 L609.4 280.4 L610 301.9 L610.7 284.8 L611.3 295.3 L611.9 298.1 L612.5 307 L613.1 306.4 L613.8 299.9 L614.4 294.1 L615 297 L615.6 307.7 L616.2 312.9 L616.9 305 L617.5 297.6 L618.1 309.3 L618.7 300.4 L619.3 300.7 L620 302 L620.6 308.3 L621.2 306.7 L621.8 311.8 L622.4 314.3 L623.1 309.5 L623.7 291.2 L624.3 295.8 L624.9 308.4 L625.5 307.3 L626.2 322.2 L626.8 308.2 L627.4 307.8 L628 315.3 L628.6 316.4 L629.3 308.3 L629.9 313.2 L630.5 303.2 L631.1 304.8 L631.7 319.2 L632.4 302.6 L633 317.9 L633.6 316.8 L634.2 317.8 L634.8 319.1 L635.5 317.3 L636.1 300.6 L636.7 308.3 L637.3 311.4 L637.9 321.5 L638.6 309.1 L639.2 312.3 L639.8 314.9 L640.4 325.9 L641 309.2 L641.7 310.3 L642.3 323.1 L642.9 306.5 L643.5 322.2 L644.1 317.8 L644.8 311.3 L645.4 318.9 L646 315.7 L646.6 323.3 L647.2 324.9 L647.9 332.2 L648.5 323.4 L649.1 324.5 L649.7 320.8 L650.3 324.6 L651 331.4 L651.6 313.9 L652.2 329.8 L652.8 323 L653.4 327.1 L654.1 329 L654.7 332.5 L655.3 329.2 L655.9 325.9 L656.5 330.5 L657.2 329.1 L657.8 328.2 L658.4 331 L659 335.4 L659.6 331.4 L660.3 331.9 L660.9 323.9 L661.5 331.1 L662.1 321.4 L662.7 336.8 L663.4 327.6 L664 340.9 L664.6 351.1 L665.2 331.9 L665.8 342.2 L666.5 337.2 L667.1 332.1 L667.7 330.8 L668.3 339.2 L668.9 344.3 L669.6 338.7 L670.2 328.5 L670.8 331.5 L671.4 336.5 L672 345.7 L672.7 340 L673.3 340.6 L673.9 345.9 L674.5 338.3 L675.1 339.3 L675.8 339.1 L676.4 330.5 L677 343.3 L677.6 343.3 L678.2 346.7 L678.9 335.1 L679.5 337.4 L680.1 347.3 L680.7 344.3 L681.3 350.3 L682 338.3 L682.6 344.4 L683.2 339.9 L683.8 345.6 L684.4 341.5 L685.1 347.3 L685.7 350.5 L686.3 348.6 L686.9 335.5 L687.5 350.6 L688.2 348.2 L688.8 340.5 L689.4 341.6 L690 346.7 L690.6 350 L691.3 344.8 L691.9 338.9 L692.5 349.2 L693.1 348.9 L693.7 361.2 L694.4 341.8 L695 362.1 L695.6 358.3 L696.2 351 L696.8 358.4 L697.5 350.5 L698.1 355.4 L698.7 346.8 L699.3 351.3 L699.9 346 L700.6 343.4 L701.2 350.5 L701.8 348.8 L702.4 355.5 L703 359.4 L703.7 352.4 L704.3 353.9 L704.9 354.9 L705.5 345.8 L706.1 356.1 L706.8 355.1 L707.4 355.2 L708 350.3 L708.6 346.2 L709.2 355.2 L709.9 358.4 L710.5 363.8 L711.1 363 L711.7 364.9 L712.3 359.8 L713 364 L713.6 357.6 L714.2 361.9 L714.8 363.7 L715.4 372.5 L716.1 360.8 L716.7 353.7 L717.3 366.8 L717.9 356.6 L718.5 360.4 L719.2 359.5 L719.8 356.8 L720.4 367.8 L721 364.5 L721.6 358.9 L722.3 362.4 L722.9 360.3 L723.5 365.5 L724.1 361 L724.7 359.4 L725.4 360.2 L726 361.4 L726.6 365.1 L727.2 359.7 L727.8 363.8 L728.5 366.5 L729.1 375.6 L729.7 368.9 L730.3 351.3 L730.9 363.1 L731.6 363.9 L732.2 367.4 L732.8 373.5 L733.4 369.9 L734 356.2 L734.7 368.4 L735.3 367.8 L735.9 369.4 L736.5 374 L737.1 363.1 L737.8 373.3 L738.4 361.1 L739 369 L739.6 370.8 L740.2 379.5 L740.9 366.4 L741.5 362.3 L742.1 373.1 L742.7 367.4 L743.3 377.5 L744 367.7 L744.6 367.2 L745.2 376.7 L745.8 371.9 L746.4 376.1 L747.1 365.7 L747.7 379.3 L748.3 369.8 L748.9 376.1 L749.5 368.4 L750.2 366.3 L750.8 372.1 L751.4 374.2 L752 380.4 L752.6 375.3 L753.3 377.1 L753.9 377 L754.5 387.6 L755.1 371.1 L755.7 380.1 L756.4 374.4 L757 376.3 L757.6 373.1 L758.2 380.4 L758.8 370.5 L759.5 370.4 L760.1 375.2 L760.7 371.4 L761.3 379.4 L761.9 380.4 L762.6 373.7 L763.2 380.2 L763.8 374.4 L764.4 377.1 L765 377.4 L765.7 385.3 L766.3 377.7 L766.9 374.1 L767.5 374.3 L768.1 383.1 L768.8 371.5 L769.4 376.5 L770 377 L770.6 368.8 L771.2 377 L771.9 383.1 L772.5 380.1 L773.1 375.7 L773.7 382.2 L774.3 381.6 L775 387.8 L775.6 376.8 L776.2 378.4 L776.8 380.2 L777.4 379.6 L778.1 380.6 L778.7 380 L779.3 377.8 L779.9 374.3 L780.5 378.5 L781.2 375.3 L781.8 376.8 L782.4 378.9 L783 383.1 L783.6 384.5 L784.3 377.2 L784.9 382.5 L785.5 384.5 L786.1 381.3 L786.7 375.1 L787.4 373.1 L788 384.7 L788.6 385.2 L789.2 382.8 L789.8 377.6 L790.5 387.5 L791.1 386.6 L791.7 381.7 L792.3 381.1 L792.9 374.4 L793.6 385 L794.2 375.8 L794.8 384.8 L795.4 385 L796 382.6 L796.7 388.4 L797.3 381.1 L797.9 384.7 L798.5 385.6 L799.1 383.5 L799.8 381 L800.4 387.5 L801 384.4 L801.6 382.2 L802.2 382.4 L802.9 383.6 L803.5 392 L804.1 383.8 L804.7 382.6 L805.3 379.7 L806 379.3 L806.6 376.9 L807.2 385.2 L807.8 384.6 L808.4 380.9 L809.1 379.4 L809.7 384 L810.3 383.5 L810.9 380.7 L811.5 387 L812.2 386.6 L812.8 386.1 L813.4 389.3 L814 384.3 L814.6 391.9 L815.3 383.5 L815.9 389.2 L816.5 389.8 L817.1 386.7 L817.7 389.1 L818.4 383.3 L819 382.7 L819.6 387.5 L820.2 385.7 L820.8 390.5 L821.5 388.5 L822.1 390.7 L822.7 389.7 L823.3 389.4 L823.9 389 L824.6 387.5 L825.2 387.2 L825.8 396.1 L826.4 382.7 L827 388.3 L827.7 392.6 L828.3 390.6 L828.9 394.1 L829.5 391.1 L830.1 384.8 L830.8 388.1 L831.4 384.4 L832 392.8 L832.6 394.5 L833.2 388 L833.9 391.4 L834.5 388.2 L835.1 384.7 L835.7 388.2 L836.3 384.3 L837 387.9 L837.6 390.7 L838.2 392.6 L838.8 394.6 L839.4 389.1 L840.1 391.1 L840.7 391.9 L841.3 392.4 L841.9 380.9 L842.5 388.1 L843.2 393.6 L843.8 387.2 L844.4 392 L845 394.1 L845.6 385 L846.3 390.9 L846.9 392.4 L847.5 391.8 L848.1 386.8 L848.7 393.2 L849.4 390.3 L850 395.1 L850.6 393.9 L851.2 390.8 L851.8 393.3 L852.5 390.6 L853.1 390.7 L853.7 387.9 L854.3 392.4 L854.9 396 L855.6 393.8 L856.2 393.5 L856.8 391.7 L857.4 392.1 L858 396.3 L858.7 389.3 L859.3 400.8 L859.9 394.1 L860.5 401.4 L861.1 398.3 L861.8 393.4 L862.4 397.2 L863 395.8 L863.6 396.6 L864.2 397.8 L864.9 393.7 L865.5 393.6 L866.1 394.3 L866.7 391.5 L867.3 395.1 L868 396.7 L868.6 396.9 L869.2 396.8 L869.8 395.1 L870.4 398.9 L871.1 390.3 L871.7 395.4 L872.3 395.7 L872.9 399.5 L873.5 398.9 L874.2 399.4 L874.8 397.1 L875.4 400 L876 394.2 L876.6 397.5 L877.3 391 L877.9 402.5 L878.5 402.2 L879.1 395.7 L879.7 395 L880.4 391.4 L881 393.1 L881.6 398.1 L882.2 397.3 L882.8 393.5 L883.5 396.4 L884.1 396 L884.7 399.4 L885.3 400.2 L885.9 397.5 L886.6 398.5 L887.2 398.2 L887.8 392.2 L888.4 398.9 L889 398.2 L889.7 400.7 L890.3 393.2 L890.9 400.8 L891.5 396.8 L892.1 399.5 L892.8 402.3 L893.4 394.6 L894 395.1 L894.6 401.9 L895.2 395.8 L895.9 396.4 L896.5 400.9 L897.1 398.7 L897.7 401.5 L898.3 400.2 L899 399.4 L899.6 402.3 L900.2 405.8 L900.8 399.4 L901.4 403.9 L902.1 403 L902.7 400.1 L903.3 401.2 L903.9 397.3 L904.5 398.3 L905.2 400.9 L905.8 400 L906.4 403.8 L907 396.6 L907.6 399.5 L908.3 398.6 L908.9 400 L909.5 403.8 L910.1 397.2 L910.7 403 L911.4 399.1 L912 399.9 L912.6 403.6 L913.2 400.1 L913.8 402.8 L914.5 401.3 L915.1 400.6 L915.7 400.2 L916.3 396.5 L916.9 399.3 L917.6 401.8 L918.2 402 L918.8 397.4 L919.4 404.3 L920 403.2 L920.7 398.2 L921.3 398.9 L921.9 403.2 L922.5 397.2 L923.1 400 L923.8 401.9 L924.4 401.7 L925 402 L925.6 403.2 L926.2 400.1 L926.9 401 L927.5 407.8 L928.1 398.8 L928.7 401.3 L929.3 402.9 L930 401 L930.6 405.9 L931.2 403 L931.8 404.8 L932.4 396.1 L933.1 406.1 L933.7 406 L934.3 401.2 L934.9 406.5 L935.5 403.9 L936.2 405.7 L936.8 408 L937.4 403.7 L938 400.9 L938.6 403.5 L939.3 400.4 L939.9 401.7 L940.5 401.8 L941.1 402 L941.7 406.8 L942.4 406.1 L943 401.8 L943.6 406.9 L944.2 400 L944.8 402.6 L945.5 403.9 L946.1 407.3 L946.7 406.2 L947.3 405.6 L947.9 407.8 L948.6 406.4 L949.2 408.1 L949.8 402.9 L950.4 400.8 L951 404 L951.7 407.1 L952.3 405.8 L952.9 407.4 L953.5 407 L954.1 406.6 L954.8 407.4 L955.4 403.8 L956 408.2 L956.6 403.3 L957.2 405.5 L957.9 402.5 L958.5 407.1 L959.1 402.3 L959.7 409.3 L960.3 402.9 L961 406.7 L961.6 405.8 L962.2 404.1 L962.8 409.1 L963.4 405.1 L964.1 409.6 L964.7 403.8 L965.3 404.3 L965.9 401.5 L966.5 407.5 L967.2 408.3 L967.8 406.7 L968.4 405.8 L969 404.1 L969.6 411.7 L970.3 408 L970.9 402 L971.5 405.5 L972.1 400.2 L972.7 409.9 L973.4 410.9 L974 409.7 L974.6 406.2 L975.2 404.9 L975.8 403 L976.5 407.5 L977.1 404.6 L977.7 405.4 L978.3 404.8 L978.9 405.6 L979.6 408.4 L980.2 410.3 L980.8 406.7 L981.4 406.4 L982 403.8 L982.7 403.5 L983.3 403.9 L983.9 408.4 L984.5 406.9 L985.1 408.6 L985.8 407.4 L986.4 405.4 L987 403.5 L987.6 405.5 L988.2 403.1 L988.9 411 L989.5 407" fill="none" stroke="#fd8c62" stroke-width="5.6" stroke-linejoin="round" stroke-linecap="round" />
</g>
<rect x="148.7" y="16.8" width="841.5" height="421.2" fill="none" stroke="#000" stroke-width="2.9"/>
<line x1="335.5" y1="16.8" x2="335.5" y2="30.8" stroke="#000" stroke-width="2.9"/>
<line x1="335.5" y1="438.0" x2="335.5" y2="424.0" stroke="#000" stroke-width="2.9"/>
<line x1="522.8" y1="16.8" x2="522.8" y2="30.8" stroke="#000" stroke-width="2.9"/>
<line x1="522.8" y1="438.0" x2="522.8" y2="424.0" stroke="#000" stroke-width="2.9"/>
<line x1="710.1" y1="16.8" x2="710.1" y2="30.8" stroke="#000" stroke-width="2.9"/>
<line x1="710.1" y1="438.0" x2="710.1" y2="424.0" stroke="#000" stroke-width="2.9"/>
<line x1="897.4" y1="16.8" x2="897.4" y2="30.8" stroke="#000" stroke-width="2.9"/>
<line x1="897.4" y1="438.0" x2="897.4" y2="424.0" stroke="#000" stroke-width="2.9"/>
<line x1="148.7" y1="416.1" x2="162.7" y2="416.1" stroke="#000" stroke-width="2.9"/>
<line x1="990.2" y1="416.1" x2="976.2" y2="416.1" stroke="#000" stroke-width="2.9"/>
<line x1="148.7" y1="340.1" x2="162.7" y2="340.1" stroke="#000" stroke-width="2.9"/>
<line x1="990.2" y1="340.1" x2="976.2" y2="340.1" stroke="#000" stroke-width="2.9"/>
<line x1="148.7" y1="264.1" x2="162.7" y2="264.1" stroke="#000" stroke-width="2.9"/>
<line x1="990.2" y1="264.1" x2="976.2" y2="264.1" stroke="#000" stroke-width="2.9"/>
<line x1="148.7" y1="188" x2="162.7" y2="188" stroke="#000" stroke-width="2.9"/>
<line x1="990.2" y1="188" x2="976.2" y2="188" stroke="#000" stroke-width="2.9"/>
<line x1="148.7" y1="112" x2="162.7" y2="112" stroke="#000" stroke-width="2.9"/>
<line x1="990.2" y1="112" x2="976.2" y2="112" stroke="#000" stroke-width="2.9"/>
<line x1="148.7" y1="36" x2="162.7" y2="36" stroke="#000" stroke-width="2.9"/>
<line x1="990.2" y1="36" x2="976.2" y2="36" stroke="#000" stroke-width="2.9"/>
<text x="150.1" y="473.2" font-size="30" text-anchor="middle" font-weight="normal" fill="#000" >720</text>
<text x="333.8" y="473.2" font-size="30" text-anchor="middle" font-weight="normal" fill="#000" >740</text>
<text x="523.2" y="473.2" font-size="30" text-anchor="middle" font-weight="normal" fill="#000" >760</text>
<text x="710.1" y="473.2" font-size="30" text-anchor="middle" font-weight="normal" fill="#000" >780</text>
<text x="898" y="473.2" font-size="30" text-anchor="middle" font-weight="normal" fill="#000" >800</text>
<text x="136.2" y="426.4" font-size="30" text-anchor="end" font-weight="normal" fill="#000" >0.0</text>
<text x="136.2" y="349.9" font-size="30" text-anchor="end" font-weight="normal" fill="#000" >0.2</text>
<text x="136.2" y="274.4" font-size="30" text-anchor="end" font-weight="normal" fill="#000" >0.4</text>
<text x="136.2" y="198" font-size="30" text-anchor="end" font-weight="normal" fill="#000" >0.6</text>
<text x="136.2" y="122.5" font-size="30" text-anchor="end" font-weight="normal" fill="#000" >0.8</text>
<text x="136.2" y="44.4" font-size="30" text-anchor="end" font-weight="normal" fill="#000" >1.0</text>
<text x="570" y="515.5" font-size="29" text-anchor="middle" font-weight="normal" fill="#000" >Wavelength (nm)</text>
<text x="0" y="0" font-size="29.4" text-anchor="middle" transform="translate(68.8,227.9) rotate(-90)">PL Intensity (Counts)</text>
<rect x="774" y="33.4" width="198.3" height="98.4" rx="6" fill="#fff" fill-opacity="0.85" stroke="#d4d4d4" stroke-width="3.5"/>
<line x1="783" y1="57" x2="854" y2="57" stroke="#312565" stroke-width="6"/>
<line x1="783" y1="101.9" x2="854" y2="101.9" stroke="#fd8c62" stroke-width="6"/>
<text x="864.5" y="67.2" font-size="25" text-anchor="start" font-weight="normal" fill="#000" >X-pol</text>
<text x="864.5" y="109.6" font-size="25" text-anchor="start" font-weight="normal" fill="#000" >Y-pol</text>
<text x="-1" y="22.5" font-size="42" text-anchor="start" font-weight="bold" fill="#000" >a</text>
<text x="-1" y="594.5" font-size="42" text-anchor="start" font-weight="bold" fill="#000" >b</text>
<clipPath id="clipBL"><rect x="149.8" y="585.5" width="195.7" height="275.8"/></clipPath>
<g clip-path="url(#clipBL)">
<path d="M151.1 843.9 L154.2 845 L157.3 841.9 L160.3 841.9 L163.4 836.7 L167.5 832.7 L172.6 834.7 L176.7 828.6 L181.8 824.5 L186.9 819.4 L192 809.1 L196.1 792.8 L199.2 778.4 L201.3 747.8 L203.3 702.7 L205.4 651.6 L207.4 600.5 L209.4 597.4 L210.9 604.5 L212.5 600.5 L214.6 602.5 L216.6 641.4 L218.6 682.3 L220.7 719.1 L223.8 726.3 L226.8 730.4 L230.9 732.4 L235 741.6 L238.1 747.8 L241.2 741.6 L245.2 744.7 L249.3 735.5 L251.4 745.7 L255.5 739.6 L258.5 738.6 L261.6 747.8 L265.7 741.6 L269.8 734.5 L275.9 730.4 L280 721.2 L283.1 702.7 L286.2 661.8 L289.2 612.7 L292.3 608.6 L294.3 612.7 L296.4 641.4 L299.5 692.5 L302.5 753.9 L305.6 798.9 L308.7 811.2 L312.8 812.2 L316.9 817.3 L320.9 827.5 L325 824.5 L329.1 828.6 L333.2 830.6 L337.3 829.6 L343.4 831.2" fill="none" stroke="#44246e" stroke-width="5.8" stroke-linejoin="round" stroke-linecap="round" />
</g>
<rect x="149.8" y="585.5" width="195.7" height="275.79999999999995" fill="none" stroke="#000" stroke-width="2.9"/>
<line x1="247.8" y1="585.5" x2="247.8" y2="599.5" stroke="#000" stroke-width="2.9"/>
<line x1="247.8" y1="861.3" x2="247.8" y2="847.3" stroke="#000" stroke-width="2.9"/>
<line x1="149.8" y1="852.1" x2="163.8" y2="852.1" stroke="#000" stroke-width="2.9"/>
<line x1="345.5" y1="852.1" x2="331.5" y2="852.1" stroke="#000" stroke-width="2.9"/>
<line x1="149.8" y1="749" x2="163.8" y2="749" stroke="#000" stroke-width="2.9"/>
<line x1="345.5" y1="749" x2="331.5" y2="749" stroke="#000" stroke-width="2.9"/>
<line x1="149.8" y1="645.9" x2="163.8" y2="645.9" stroke="#000" stroke-width="2.9"/>
<line x1="345.5" y1="645.9" x2="331.5" y2="645.9" stroke="#000" stroke-width="2.9"/>
<text x="149.6" y="896.2" font-size="30" text-anchor="middle" font-weight="normal" fill="#000" >0.0</text>
<text x="247.8" y="896.2" font-size="30" text-anchor="middle" font-weight="normal" fill="#000" >2.5</text>
<text x="346.1" y="896.2" font-size="30" text-anchor="middle" font-weight="normal" fill="#000" >5.0</text>
<text x="137.4" y="862.6" font-size="30" text-anchor="end" font-weight="normal" fill="#000" >0</text>
<text x="137.4" y="759.5" font-size="30" text-anchor="end" font-weight="normal" fill="#000" >50</text>
<text x="137.4" y="656.4" font-size="30" text-anchor="end" font-weight="normal" fill="#000" >100</text>
<text x="248.2" y="937.8" font-size="29" text-anchor="middle" font-weight="normal" fill="#000" >Distance (µm)</text>
<text x="0" y="0" font-size="29" text-anchor="middle" transform="translate(64.8,723.5) rotate(-90)">Scattering (arb.)</text>
<path d="M789.4 848.3 L794.7 843 L801 844.5 L806.2 838.9 L811.4 830.5 L815.6 817.9 L818.8 822.1 L821.9 810.6 L825.1 779.1 L828.2 726.7 L831.4 663.8 L834.5 638.7 L838.3 606.2 L840.8 636.6 L842.9 663.8 L845 695.3 L847.1 735.1 L851.3 735.1 L854.4 721.5 L857.6 737.2 L860.7 744.5 L864.9 747.7 L870.1 741.4 L873.3 705.8 L876.4 653.4 L879.6 611.4 L882.7 607.2 L886.9 596.8 L889 632.4 L892.1 674.3 L894.2 710 L896.3 739.3 L899.1 745.6 L902.6 732 L905.8 730.9 L910 739.3 L913.1 748.7 L916.2 739.3 L920.4 705.8 L923.6 663.8 L926.7 615.6 L930.9 618.8 L933 663.8 L936.1 758.2 L939.3 800.1 L941.4 814.8 L945.6 810.6 L948.7 827.3 L951.9 837.8 L956.1 835.3 L960.3 842 L964.4 847.2 L968.6 848.3" fill="none" stroke="#e33423" stroke-width="5.8" stroke-linejoin="round" stroke-linecap="round" />
<rect x="787.9" y="585.2" width="195.39999999999998" height="275.79999999999995" fill="none" stroke="#000" stroke-width="2.9"/>
<line x1="886" y1="585.2" x2="886" y2="599.2" stroke="#000" stroke-width="2.9"/>
<line x1="886" y1="861.0" x2="886" y2="847.0" stroke="#000" stroke-width="2.9"/>
<line x1="787.9" y1="858.4" x2="801.9" y2="858.4" stroke="#000" stroke-width="2.9"/>
<line x1="983.3" y1="858.4" x2="969.3" y2="858.4" stroke="#000" stroke-width="2.9"/>
<line x1="787.9" y1="764.2" x2="801.9" y2="764.2" stroke="#000" stroke-width="2.9"/>
<line x1="983.3" y1="764.2" x2="969.3" y2="764.2" stroke="#000" stroke-width="2.9"/>
<line x1="787.9" y1="670.1" x2="801.9" y2="670.1" stroke="#000" stroke-width="2.9"/>
<line x1="983.3" y1="670.1" x2="969.3" y2="670.1" stroke="#000" stroke-width="2.9"/>
<text x="788.5" y="895.8" font-size="30" text-anchor="middle" font-weight="normal" fill="#000" >0.0</text>
<text x="886" y="895.8" font-size="30" text-anchor="middle" font-weight="normal" fill="#000" >2.5</text>
<text x="983.5" y="895.8" font-size="30" text-anchor="middle" font-weight="normal" fill="#000" >5.0</text>
<text x="774.6" y="867.9" font-size="30" text-anchor="end" font-weight="normal" fill="#000" >0</text>
<text x="774.6" y="773.8" font-size="30" text-anchor="end" font-weight="normal" fill="#000" >50</text>
<text x="774.6" y="679.6" font-size="30" text-anchor="end" font-weight="normal" fill="#000" >100</text>
<text x="886.2" y="932.5" font-size="29" text-anchor="middle" font-weight="normal" fill="#000" >Distance (µm)</text>
<text x="0" y="0" font-size="29" text-anchor="middle" transform="translate(702.5,724) rotate(-90)">Scattering (arb.)</text>
<clipPath id="clipT"><rect x="420" y="603" width="187.6" height="127.7"/></clipPath>
<clipPath id="clipB"><rect x="419.3" y="749.1" width="188" height="128.6"/></clipPath>
<g clip-path="url(#clipT)"><g filter="url(#blur1)">
<rect x="420" y="603" width="187.6" height="127.7" fill="#1a0f12"/>
<rect x="420.00" y="603.00" width="5.19" height="5.23" fill="#0a0608"/>
<rect x="424.69" y="603.00" width="5.19" height="5.23" fill="#0a0608"/>
<rect x="429.38" y="603.00" width="5.19" height="5.23" fill="#0b0608"/>
<rect x="434.07" y="603.00" width="5.19" height="5.23" fill="#0b0709"/>
<rect x="438.76" y="603.00" width="5.19" height="5.23" fill="#0c0709"/>
<rect x="443.45" y="603.00" width="5.19" height="5.23" fill="#0c0709"/>
<rect x="448.14" y="603.00" width="5.19" height="5.23" fill="#0d080a"/>
<rect x="452.83" y="603.00" width="5.19" height="5.23" fill="#0e080a"/>
<rect x="457.52" y="603.00" width="5.19" height="5.23" fill="#0f090b"/>
<rect x="462.21" y="603.00" width="5.19" height="5.23" fill="#10090b"/>
<rect x="466.90" y="603.00" width="5.19" height="5.23" fill="#10090b"/>
<rect x="471.59" y="603.00" width="5.19" height="5.23" fill="#110a0c"/>
<rect x="476.28" y="603.00" width="5.19" height="5.23" fill="#110a0c"/>
<rect x="480.97" y="603.00" width="5.19" height="5.23" fill="#110a0c"/>
<rect x="485.66" y="603.00" width="5.19" height="5.23" fill="#10090b"/>
<rect x="490.35" y="603.00" width="5.19" height="5.23" fill="#10090b"/>
<rect x="495.04" y="603.00" width="5.19" height="5.23" fill="#0f090b"/>
<rect x="499.73" y="603.00" width="5.19" height="5.23" fill="#0e080a"/>
<rect x="504.42" y="603.00" width="5.19" height="5.23" fill="#0e080a"/>
<rect x="509.11" y="603.00" width="5.19" height="5.23" fill="#0d080a"/>
<rect x="513.80" y="603.00" width="5.19" height="5.23" fill="#0e080a"/>
<rect x="518.49" y="603.00" width="5.19" height="5.23" fill="#0f090b"/>
<rect x="523.18" y="603.00" width="5.19" height="5.23" fill="#10090b"/>
<rect x="527.87" y="603.00" width="5.19" height="5.23" fill="#10090b"/>
<rect x="532.56" y="603.00" width="5.19" height="5.23" fill="#110a0c"/>
<rect x="537.25" y="603.00" width="5.19" height="5.23" fill="#110a0c"/>
<rect x="541.94" y="603.00" width="5.19" height="5.23" fill="#110a0c"/>
<rect x="546.63" y="603.00" width="5.19" height="5.23" fill="#110a0c"/>
<rect x="551.32" y="603.00" width="5.19" height="5.23" fill="#10090b"/>
<rect x="556.01" y="603.00" width="5.19" height="5.23" fill="#10090b"/>
<rect x="560.70" y="603.00" width="5.19" height="5.23" fill="#0f090b"/>
<rect x="565.39" y="603.00" width="5.19" height="5.23" fill="#0e080a"/>
<rect x="570.08" y="603.00" width="5.19" height="5.23" fill="#0d080a"/>
<rect x="574.77" y="603.00" width="5.19" height="5.23" fill="#0c0709"/>
<rect x="579.46" y="603.00" width="5.19" height="5.23" fill="#0c0709"/>
<rect x="584.15" y="603.00" width="5.19" height="5.23" fill="#0b0709"/>
<rect x="588.84" y="603.00" width="5.19" height="5.23" fill="#0b0608"/>
<rect x="593.53" y="603.00" width="5.19" height="5.23" fill="#0a0608"/>
<rect x="598.22" y="603.00" width="5.19" height="5.23" fill="#0a0608"/>
<rect x="602.91" y="603.00" width="5.19" height="5.23" fill="#0a0608"/>
<rect x="420.00" y="607.73" width="5.19" height="5.23" fill="#0a0608"/>
<rect x="424.69" y="607.73" width="5.19" height="5.23" fill="#0b0608"/>
<rect x="429.38" y="607.73" width="5.19" height="5.23" fill="#0b0709"/>
<rect x="434.07" y="607.73" width="5.19" height="5.23" fill="#0c0709"/>
<rect x="438.76" y="607.73" width="5.19" height="5.23" fill="#0d080a"/>
<rect x="443.45" y="607.73" width="5.19" height="5.23" fill="#0e080a"/>
<rect x="448.14" y="607.73" width="5.19" height="5.23" fill="#10090b"/>
<rect x="452.83" y="607.73" width="5.19" height="5.23" fill="#110a0c"/>
<rect x="457.52" y="607.73" width="5.19" height="5.23" fill="#120a0c"/>
<rect x="462.21" y="607.73" width="5.19" height="5.23" fill="#130b0d"/>
<rect x="466.90" y="607.73" width="5.19" height="5.23" fill="#140c0d"/>
<rect x="471.59" y="607.73" width="5.19" height="5.23" fill="#150c0e"/>
<rect x="476.28" y="607.73" width="5.19" height="5.23" fill="#150c0e"/>
<rect x="480.97" y="607.73" width="5.19" height="5.23" fill="#150c0e"/>
<rect x="485.66" y="607.73" width="5.19" height="5.23" fill="#140c0e"/>
<rect x="490.35" y="607.73" width="5.19" height="5.23" fill="#140c0e"/>
<rect x="495.04" y="607.73" width="5.19" height="5.23" fill="#130b0d"/>
<rect x="499.73" y="607.73" width="5.19" height="5.23" fill="#120b0d"/>
<rect x="504.42" y="607.73" width="5.19" height="5.23" fill="#110b0c"/>
<rect x="509.11" y="607.73" width="5.19" height="5.23" fill="#110b0c"/>
<rect x="513.80" y="607.73" width="5.19" height="5.23" fill="#120b0d"/>
<rect x="518.49" y="607.73" width="5.19" height="5.23" fill="#130c0d"/>
<rect x="523.18" y="607.73" width="5.19" height="5.23" fill="#140c0e"/>
<rect x="527.87" y="607.73" width="5.19" height="5.23" fill="#150c0e"/>
<rect x="532.56" y="607.73" width="5.19" height="5.23" fill="#150c0e"/>
<rect x="537.25" y="607.73" width="5.19" height="5.23" fill="#150c0e"/>
<rect x="541.94" y="607.73" width="5.19" height="5.23" fill="#150c0e"/>
<rect x="546.63" y="607.73" width="5.19" height="5.23" fill="#150c0e"/>
<rect x="551.32" y="607.73" width="5.19" height="5.23" fill="#140b0d"/>
<rect x="556.01" y="607.73" width="5.19" height="5.23" fill="#130b0d"/>
<rect x="560.70" y="607.73" width="5.19" height="5.23" fill="#120a0c"/>
<rect x="565.39" y="607.73" width="5.19" height="5.23" fill="#10090b"/>
<rect x="570.08" y="607.73" width="5.19" height="5.23" fill="#0f090b"/>
<rect x="574.77" y="607.73" width="5.19" height="5.23" fill="#0e080a"/>
<rect x="579.46" y="607.73" width="5.19" height="5.23" fill="#0d0709"/>
<rect x="584.15" y="607.73" width="5.19" height="5.23" fill="#0c0709"/>
<rect x="588.84" y="607.73" width="5.19" height="5.23" fill="#0b0709"/>
<rect x="593.53" y="607.73" width="5.19" height="5.23" fill="#0b0608"/>
<rect x="598.22" y="607.73" width="5.19" height="5.23" fill="#0a0608"/>
<rect x="602.91" y="607.73" width="5.19" height="5.23" fill="#0a0608"/>
<rect x="420.00" y="612.46" width="5.19" height="5.23" fill="#0b0608"/>
<rect x="424.69" y="612.46" width="5.19" height="5.23" fill="#0b0709"/>
<rect x="429.38" y="612.46" width="5.19" height="5.23" fill="#0c0709"/>
<rect x="434.07" y="612.46" width="5.19" height="5.23" fill="#0e080a"/>
<rect x="438.76" y="612.46" width="5.19" height="5.23" fill="#0f090b"/>
<rect x="443.45" y="612.46" width="5.19" height="5.23" fill="#110a0c"/>
<rect x="448.14" y="612.46" width="5.19" height="5.23" fill="#130b0d"/>
<rect x="452.83" y="612.46" width="5.19" height="5.23" fill="#150c0e"/>
<rect x="457.52" y="612.46" width="5.19" height="5.23" fill="#170d0f"/>
<rect x="462.21" y="612.46" width="5.19" height="5.23" fill="#190f11"/>
<rect x="466.90" y="612.46" width="5.19" height="5.23" fill="#1a1011"/>
<rect x="471.59" y="612.46" width="5.19" height="5.23" fill="#1b1012"/>
<rect x="476.28" y="612.46" width="5.19" height="5.23" fill="#1b1012"/>
<rect x="480.97" y="612.46" width="5.19" height="5.23" fill="#1b1012"/>
<rect x="485.66" y="612.46" width="5.19" height="5.23" fill="#1b1012"/>
<rect x="490.35" y="612.46" width="5.19" height="5.23" fill="#1b1012"/>
<rect x="495.04" y="612.46" width="5.19" height="5.23" fill="#1a1112"/>
<rect x="499.73" y="612.46" width="5.19" height="5.23" fill="#1a1112"/>
<rect x="504.42" y="612.46" width="5.19" height="5.23" fill="#191112"/>
<rect x="509.11" y="612.46" width="5.19" height="5.23" fill="#181111"/>
<rect x="513.80" y="612.46" width="5.19" height="5.23" fill="#1a1112"/>
<rect x="518.49" y="612.46" width="5.19" height="5.23" fill="#1b1112"/>
<rect x="523.18" y="612.46" width="5.19" height="5.23" fill="#1b1112"/>
<rect x="527.87" y="612.46" width="5.19" height="5.23" fill="#1c1112"/>
<rect x="532.56" y="612.46" width="5.19" height="5.23" fill="#1c1112"/>
<rect x="537.25" y="612.46" width="5.19" height="5.23" fill="#1d1113"/>
<rect x="541.94" y="612.46" width="5.19" height="5.23" fill="#1d1113"/>
<rect x="546.63" y="612.46" width="5.19" height="5.23" fill="#1c1012"/>
<rect x="551.32" y="612.46" width="5.19" height="5.23" fill="#1a0f11"/>
<rect x="556.01" y="612.46" width="5.19" height="5.23" fill="#180e10"/>
<rect x="560.70" y="612.46" width="5.19" height="5.23" fill="#160d0f"/>
<rect x="565.39" y="612.46" width="5.19" height="5.23" fill="#140b0d"/>
<rect x="570.08" y="612.46" width="5.19" height="5.23" fill="#120a0c"/>
<rect x="574.77" y="612.46" width="5.19" height="5.23" fill="#10090b"/>
<rect x="579.46" y="612.46" width="5.19" height="5.23" fill="#0e080a"/>
<rect x="584.15" y="612.46" width="5.19" height="5.23" fill="#0d080a"/>
<rect x="588.84" y="612.46" width="5.19" height="5.23" fill="#0c0709"/>
<rect x="593.53" y="612.46" width="5.19" height="5.23" fill="#0b0709"/>
<rect x="598.22" y="612.46" width="5.19" height="5.23" fill="#0b0608"/>
<rect x="602.91" y="612.46" width="5.19" height="5.23" fill="#0a0608"/>
<rect x="420.00" y="617.19" width="5.19" height="5.23" fill="#0b0709"/>
<rect x="424.69" y="617.19" width="5.19" height="5.23" fill="#0c0709"/>
<rect x="429.38" y="617.19" width="5.19" height="5.23" fill="#0e080a"/>
<rect x="434.07" y="617.19" width="5.19" height="5.23" fill="#0f090b"/>
<rect x="438.76" y="617.19" width="5.19" height="5.23" fill="#120a0c"/>
<rect x="443.45" y="617.19" width="5.19" height="5.23" fill="#140c0e"/>
<rect x="448.14" y="617.19" width="5.19" height="5.23" fill="#180e10"/>
<rect x="452.83" y="617.19" width="5.19" height="5.23" fill="#1c1113"/>
<rect x="457.52" y="617.19" width="5.19" height="5.23" fill="#211617"/>
<rect x="462.21" y="617.19" width="5.19" height="5.23" fill="#261a1b"/>
<rect x="466.90" y="617.19" width="5.19" height="5.23" fill="#2b1e1e"/>
<rect x="471.59" y="617.19" width="5.19" height="5.23" fill="#2e2120"/>
<rect x="476.28" y="617.19" width="5.19" height="5.23" fill="#2e2120"/>
<rect x="480.97" y="617.19" width="5.19" height="5.23" fill="#2d2020"/>
<rect x="485.66" y="617.19" width="5.19" height="5.23" fill="#2b1e1e"/>
<rect x="490.35" y="617.19" width="5.19" height="5.23" fill="#291d1c"/>
<rect x="495.04" y="617.19" width="5.19" height="5.23" fill="#281c1c"/>
<rect x="499.73" y="617.19" width="5.19" height="5.23" fill="#271c1c"/>
<rect x="504.42" y="617.19" width="5.19" height="5.23" fill="#261c1b"/>
<rect x="509.11" y="617.19" width="5.19" height="5.23" fill="#251c1b"/>
<rect x="513.80" y="617.19" width="5.19" height="5.23" fill="#271d1c"/>
<rect x="518.49" y="617.19" width="5.19" height="5.23" fill="#281d1c"/>
<rect x="523.18" y="617.19" width="5.19" height="5.23" fill="#2a1e1d"/>
<rect x="527.87" y="617.19" width="5.19" height="5.23" fill="#2c201f"/>
<rect x="532.56" y="617.19" width="5.19" height="5.23" fill="#302221"/>
<rect x="537.25" y="617.19" width="5.19" height="5.23" fill="#322423"/>
<rect x="541.94" y="617.19" width="5.19" height="5.23" fill="#322423"/>
<rect x="546.63" y="617.19" width="5.19" height="5.23" fill="#302220"/>
<rect x="551.32" y="617.19" width="5.19" height="5.23" fill="#2b1e1c"/>
<rect x="556.01" y="617.19" width="5.19" height="5.23" fill="#251817"/>
<rect x="560.70" y="617.19" width="5.19" height="5.23" fill="#1f1313"/>
<rect x="565.39" y="617.19" width="5.19" height="5.23" fill="#1a0f10"/>
<rect x="570.08" y="617.19" width="5.19" height="5.23" fill="#160d0e"/>
<rect x="574.77" y="617.19" width="5.19" height="5.23" fill="#130b0d"/>
<rect x="579.46" y="617.19" width="5.19" height="5.23" fill="#110a0c"/>
<rect x="584.15" y="617.19" width="5.19" height="5.23" fill="#0f080a"/>
<rect x="588.84" y="617.19" width="5.19" height="5.23" fill="#0d080a"/>
<rect x="593.53" y="617.19" width="5.19" height="5.23" fill="#0c0709"/>
<rect x="598.22" y="617.19" width="5.19" height="5.23" fill="#0b0709"/>
<rect x="602.91" y="617.19" width="5.19" height="5.23" fill="#0b0608"/>
<rect x="420.00" y="621.92" width="5.19" height="5.23" fill="#0c0709"/>
<rect x="424.69" y="621.92" width="5.19" height="5.23" fill="#0e080a"/>
<rect x="429.38" y="621.92" width="5.19" height="5.23" fill="#0f090b"/>
<rect x="434.07" y="621.92" width="5.19" height="5.23" fill="#120a0c"/>
<rect x="438.76" y="621.92" width="5.19" height="5.23" fill="#150d0f"/>
<rect x="443.45" y="621.92" width="5.19" height="5.23" fill="#1b1012"/>
<rect x="448.14" y="621.92" width="5.19" height="5.23" fill="#221719"/>
<rect x="452.83" y="621.92" width="5.19" height="5.23" fill="#2d2122"/>
<rect x="457.52" y="621.92" width="5.19" height="5.23" fill="#3b2f2d"/>
<rect x="462.21" y="621.92" width="5.19" height="5.23" fill="#493d39"/>
<rect x="466.90" y="621.92" width="5.19" height="5.23" fill="#564a43"/>
<rect x="471.59" y="621.92" width="5.19" height="5.23" fill="#5f534a"/>
<rect x="476.28" y="621.92" width="5.19" height="5.23" fill="#62564b"/>
<rect x="480.97" y="621.92" width="5.19" height="5.23" fill="#5f5249"/>
<rect x="485.66" y="621.92" width="5.19" height="5.23" fill="#574a42"/>
<rect x="490.35" y="621.92" width="5.19" height="5.23" fill="#4c3f39"/>
<rect x="495.04" y="621.92" width="5.19" height="5.23" fill="#433632"/>
<rect x="499.73" y="621.92" width="5.19" height="5.23" fill="#3d312d"/>
<rect x="504.42" y="621.92" width="5.19" height="5.23" fill="#3a2f2b"/>
<rect x="509.11" y="621.92" width="5.19" height="5.23" fill="#392f2b"/>
<rect x="513.80" y="621.92" width="5.19" height="5.23" fill="#3d312d"/>
<rect x="518.49" y="621.92" width="5.19" height="5.23" fill="#423631"/>
<rect x="523.18" y="621.92" width="5.19" height="5.23" fill="#4c3f39"/>
<rect x="527.87" y="621.92" width="5.19" height="5.23" fill="#574b42"/>
<rect x="532.56" y="621.92" width="5.19" height="5.23" fill="#62564c"/>
<rect x="537.25" y="621.92" width="5.19" height="5.23" fill="#685c51"/>
<rect x="541.94" y="621.92" width="5.19" height="5.23" fill="#695d51"/>
<rect x="546.63" y="621.92" width="5.19" height="5.23" fill="#64564a"/>
<rect x="551.32" y="621.92" width="5.19" height="5.23" fill="#594a3e"/>
<rect x="556.01" y="621.92" width="5.19" height="5.23" fill="#4a3a30"/>
<rect x="560.70" y="621.92" width="5.19" height="5.23" fill="#382922"/>
<rect x="565.39" y="621.92" width="5.19" height="5.23" fill="#291b18"/>
<rect x="570.08" y="621.92" width="5.19" height="5.23" fill="#1e1212"/>
<rect x="574.77" y="621.92" width="5.19" height="5.23" fill="#180e0f"/>
<rect x="579.46" y="621.92" width="5.19" height="5.23" fill="#140b0d"/>
<rect x="584.15" y="621.92" width="5.19" height="5.23" fill="#110a0c"/>
<rect x="588.84" y="621.92" width="5.19" height="5.23" fill="#0f080a"/>
<rect x="593.53" y="621.92" width="5.19" height="5.23" fill="#0d080a"/>
<rect x="598.22" y="621.92" width="5.19" height="5.23" fill="#0c0709"/>
<rect x="602.91" y="621.92" width="5.19" height="5.23" fill="#0b0608"/>
<rect x="420.00" y="626.65" width="5.19" height="5.23" fill="#0d080a"/>
<rect x="424.69" y="626.65" width="5.19" height="5.23" fill="#0f090b"/>
<rect x="429.38" y="626.65" width="5.19" height="5.23" fill="#120a0c"/>
<rect x="434.07" y="626.65" width="5.19" height="5.23" fill="#160d0f"/>
<rect x="438.76" y="626.65" width="5.19" height="5.23" fill="#1c1214"/>
<rect x="443.45" y="626.65" width="5.19" height="5.23" fill="#271c1d"/>
<rect x="448.14" y="626.65" width="5.19" height="5.23" fill="#392e2d"/>
<rect x="452.83" y="626.65" width="5.19" height="5.23" fill="#514742"/>
<rect x="457.52" y="626.65" width="5.19" height="5.23" fill="#6b6259"/>
<rect x="462.21" y="626.65" width="5.19" height="5.23" fill="#837a6b"/>
<rect x="466.90" y="626.65" width="5.19" height="5.23" fill="#948b78"/>
<rect x="471.59" y="626.65" width="5.19" height="5.23" fill="#9d947f"/>
<rect x="476.28" y="626.65" width="5.19" height="5.23" fill="#a09781"/>
<rect x="480.97" y="626.65" width="5.19" height="5.23" fill="#9d947e"/>
<rect x="485.66" y="626.65" width="5.19" height="5.23" fill="#958c77"/>
<rect x="490.35" y="626.65" width="5.19" height="5.23" fill="#867c6a"/>
<rect x="495.04" y="626.65" width="5.19" height="5.23" fill="#73685a"/>
<rect x="499.73" y="626.65" width="5.19" height="5.23" fill="#62564c"/>
<rect x="504.42" y="626.65" width="5.19" height="5.23" fill="#574c43"/>
<rect x="509.11" y="626.65" width="5.19" height="5.23" fill="#554a42"/>
<rect x="513.80" y="626.65" width="5.19" height="5.23" fill="#5e5349"/>
<rect x="518.49" y="626.65" width="5.19" height="5.23" fill="#6e6356"/>
<rect x="523.18" y="626.65" width="5.19" height="5.23" fill="#827867"/>
<rect x="527.87" y="626.65" width="5.19" height="5.23" fill="#948a76"/>
<rect x="532.56" y="626.65" width="5.19" height="5.23" fill="#9e9680"/>
<rect x="537.25" y="626.65" width="5.19" height="5.23" fill="#a39a83"/>
<rect x="541.94" y="626.65" width="5.19" height="5.23" fill="#a39a83"/>
<rect x="546.63" y="626.65" width="5.19" height="5.23" fill="#a1967c"/>
<rect x="551.32" y="626.65" width="5.19" height="5.23" fill="#988a6f"/>
<rect x="556.01" y="626.65" width="5.19" height="5.23" fill="#87755b"/>
<rect x="560.70" y="626.65" width="5.19" height="5.23" fill="#6d5a44"/>
<rect x="565.39" y="626.65" width="5.19" height="5.23" fill="#4e3b2d"/>
<rect x="570.08" y="626.65" width="5.19" height="5.23" fill="#32221d"/>
<rect x="574.77" y="626.65" width="5.19" height="5.23" fill="#201413"/>
<rect x="579.46" y="626.65" width="5.19" height="5.23" fill="#180e0f"/>
<rect x="584.15" y="626.65" width="5.19" height="5.23" fill="#130b0d"/>
<rect x="588.84" y="626.65" width="5.19" height="5.23" fill="#10090b"/>
<rect x="593.53" y="626.65" width="5.19" height="5.23" fill="#0e080a"/>
<rect x="598.22" y="626.65" width="5.19" height="5.23" fill="#0c0709"/>
<rect x="602.91" y="626.65" width="5.19" height="5.23" fill="#0b0709"/>
<rect x="420.00" y="631.38" width="5.19" height="5.23" fill="#0e080a"/>
<rect x="424.69" y="631.38" width="5.19" height="5.23" fill="#110a0c"/>
<rect x="429.38" y="631.38" width="5.19" height="5.23" fill="#140c0e"/>
<rect x="434.07" y="631.38" width="5.19" height="5.23" fill="#1b1113"/>
<rect x="438.76" y="631.38" width="5.19" height="5.23" fill="#281d1e"/>
<rect x="443.45" y="631.38" width="5.19" height="5.23" fill="#3f3534"/>
<rect x="448.14" y="631.38" width="5.19" height="5.23" fill="#5f5751"/>
<rect x="452.83" y="631.38" width="5.19" height="5.23" fill="#80796d"/>
<rect x="457.52" y="631.38" width="5.19" height="5.23" fill="#9a9382"/>
<rect x="462.21" y="631.38" width="5.19" height="5.23" fill="#a59e89"/>
<rect x="466.90" y="631.38" width="5.19" height="5.23" fill="#a79f88"/>
<rect x="471.59" y="631.38" width="5.19" height="5.23" fill="#a89f87"/>
<rect x="476.28" y="631.38" width="5.19" height="5.23" fill="#a89f86"/>
<rect x="480.97" y="631.38" width="5.19" height="5.23" fill="#a8a087"/>
<rect x="485.66" y="631.38" width="5.19" height="5.23" fill="#a8a088"/>
<rect x="490.35" y="631.38" width="5.19" height="5.23" fill="#a8a088"/>
<rect x="495.04" y="631.38" width="5.19" height="5.23" fill="#9f9780"/>
<rect x="499.73" y="631.38" width="5.19" height="5.23" fill="#8d8370"/>
<rect x="504.42" y="631.38" width="5.19" height="5.23" fill="#7b7162"/>
<rect x="509.11" y="631.38" width="5.19" height="5.23" fill="#786e5f"/>
<rect x="513.80" y="631.38" width="5.19" height="5.23" fill="#867c6b"/>
<rect x="518.49" y="631.38" width="5.19" height="5.23" fill="#9a917c"/>
<rect x="523.18" y="631.38" width="5.19" height="5.23" fill="#a79f87"/>
<rect x="527.87" y="631.38" width="5.19" height="5.23" fill="#a8a087"/>
<rect x="532.56" y="631.38" width="5.19" height="5.23" fill="#a89f86"/>
<rect x="537.25" y="631.38" width="5.19" height="5.23" fill="#a89f86"/>
<rect x="541.94" y="631.38" width="5.19" height="5.23" fill="#a99f86"/>
<rect x="546.63" y="631.38" width="5.19" height="5.23" fill="#aa9f84"/>
<rect x="551.32" y="631.38" width="5.19" height="5.23" fill="#ac9f80"/>
<rect x="556.01" y="631.38" width="5.19" height="5.23" fill="#ad9d79"/>
<rect x="560.70" y="631.38" width="5.19" height="5.23" fill="#a28d67"/>
<rect x="565.39" y="631.38" width="5.19" height="5.23" fill="#846e4d"/>
<rect x="570.08" y="631.38" width="5.19" height="5.23" fill="#5b4632"/>
<rect x="574.77" y="631.38" width="5.19" height="5.23" fill="#35251d"/>
<rect x="579.46" y="631.38" width="5.19" height="5.23" fill="#201313"/>
<rect x="584.15" y="631.38" width="5.19" height="5.23" fill="#170d0f"/>
<rect x="588.84" y="631.38" width="5.19" height="5.23" fill="#120a0c"/>
<rect x="593.53" y="631.38" width="5.19" height="5.23" fill="#0f090b"/>
<rect x="598.22" y="631.38" width="5.19" height="5.23" fill="#0d080a"/>
<rect x="602.91" y="631.38" width="5.19" height="5.23" fill="#0c0709"/>
<rect x="420.00" y="636.11" width="5.19" height="5.23" fill="#0f090b"/>
<rect x="424.69" y="636.11" width="5.19" height="5.23" fill="#130b0d"/>
<rect x="429.38" y="636.11" width="5.19" height="5.23" fill="#180f11"/>
<rect x="434.07" y="636.11" width="5.19" height="5.23" fill="#24191b"/>
<rect x="438.76" y="636.11" width="5.19" height="5.23" fill="#3c3232"/>
<rect x="443.45" y="636.11" width="5.19" height="5.23" fill="#615954"/>
<rect x="448.14" y="636.11" width="5.19" height="5.23" fill="#868075"/>
<rect x="452.83" y="636.11" width="5.19" height="5.23" fill="#9e9a88"/>
<rect x="457.52" y="636.11" width="5.19" height="5.23" fill="#a49d88"/>
<rect x="462.21" y="636.11" width="5.19" height="5.23" fill="#a79d84"/>
<rect x="466.90" y="636.11" width="5.19" height="5.23" fill="#a99c80"/>
<rect x="471.59" y="636.11" width="5.19" height="5.23" fill="#aa9c7d"/>
<rect x="476.28" y="636.11" width="5.19" height="5.23" fill="#aa9c7d"/>
<rect x="480.97" y="636.11" width="5.19" height="5.23" fill="#a99d80"/>
<rect x="485.66" y="636.11" width="5.19" height="5.23" fill="#a99e84"/>
<rect x="490.35" y="636.11" width="5.19" height="5.23" fill="#a89f87"/>
<rect x="495.04" y="636.11" width="5.19" height="5.23" fill="#a8a088"/>
<rect x="499.73" y="636.11" width="5.19" height="5.23" fill="#a69e86"/>
<rect x="504.42" y="636.11" width="5.19" height="5.23" fill="#9a917c"/>
<rect x="509.11" y="636.11" width="5.19" height="5.23" fill="#978e79"/>
<rect x="513.80" y="636.11" width="5.19" height="5.23" fill="#a29a83"/>
<rect x="518.49" y="636.11" width="5.19" height="5.23" fill="#a8a087"/>
<rect x="523.18" y="636.11" width="5.19" height="5.23" fill="#a99f85"/>
<rect x="527.87" y="636.11" width="5.19" height="5.23" fill="#aa9d80"/>
<rect x="532.56" y="636.11" width="5.19" height="5.23" fill="#aa9b7c"/>
<rect x="537.25" y="636.11" width="5.19" height="5.23" fill="#aa9b7a"/>
<rect x="541.94" y="636.11" width="5.19" height="5.23" fill="#aa9c7c"/>
<rect x="546.63" y="636.11" width="5.19" height="5.23" fill="#aa9d80"/>
<rect x="551.32" y="636.11" width="5.19" height="5.23" fill="#aa9e81"/>
<rect x="556.01" y="636.11" width="5.19" height="5.23" fill="#ad9e7d"/>
<rect x="560.70" y="636.11" width="5.19" height="5.23" fill="#b19e75"/>
<rect x="565.39" y="636.11" width="5.19" height="5.23" fill="#ac9366"/>
<rect x="570.08" y="636.11" width="5.19" height="5.23" fill="#8c724c"/>
<rect x="574.77" y="636.11" width="5.19" height="5.23" fill="#59442f"/>
<rect x="579.46" y="636.11" width="5.19" height="5.23" fill="#2f201a"/>
<rect x="584.15" y="636.11" width="5.19" height="5.23" fill="#1c1011"/>
<rect x="588.84" y="636.11" width="5.19" height="5.23" fill="#150c0e"/>
<rect x="593.53" y="636.11" width="5.19" height="5.23" fill="#110a0c"/>
<rect x="598.22" y="636.11" width="5.19" height="5.23" fill="#0e080a"/>
<rect x="602.91" y="636.11" width="5.19" height="5.23" fill="#0c0709"/>
<rect x="420.00" y="640.84" width="5.19" height="5.23" fill="#110a0c"/>
<rect x="424.69" y="640.84" width="5.19" height="5.23" fill="#150c0e"/>
<rect x="429.38" y="640.84" width="5.19" height="5.23" fill="#1e1315"/>
<rect x="434.07" y="640.84" width="5.19" height="5.23" fill="#322728"/>
<rect x="438.76" y="640.84" width="5.19" height="5.23" fill="#574f4b"/>
<rect x="443.45" y="640.84" width="5.19" height="5.23" fill="#807b72"/>
<rect x="448.14" y="640.84" width="5.19" height="5.23" fill="#9c9889"/>
<rect x="452.83" y="640.84" width="5.19" height="5.23" fill="#a39c88"/>
<rect x="457.52" y="640.84" width="5.19" height="5.23" fill="#a79b80"/>
<rect x="462.21" y="640.84" width="5.19" height="5.23" fill="#ab9773"/>
<rect x="466.90" y="640.84" width="5.19" height="5.23" fill="#9b8058"/>
<rect x="471.59" y="640.84" width="5.19" height="5.23" fill="#846642"/>
<rect x="476.28" y="640.84" width="5.19" height="5.23" fill="#775b3d"/>
<rect x="480.97" y="640.84" width="5.19" height="5.23" fill="#7b6449"/>
<rect x="485.66" y="640.84" width="5.19" height="5.23" fill="#968569"/>
<rect x="490.35" y="640.84" width="5.19" height="5.23" fill="#a99d82"/>
<rect x="495.04" y="640.84" width="5.19" height="5.23" fill="#a89f86"/>
<rect x="499.73" y="640.84" width="5.19" height="5.23" fill="#a8a088"/>
<rect x="504.42" y="640.84" width="5.19" height="5.23" fill="#a79f87"/>
<rect x="509.11" y="640.84" width="5.19" height="5.23" fill="#a59d86"/>
<rect x="513.80" y="640.84" width="5.19" height="5.23" fill="#a8a087"/>
<rect x="518.49" y="640.84" width="5.19" height="5.23" fill="#a99e83"/>
<rect x="523.18" y="640.84" width="5.19" height="5.23" fill="#ab9a78"/>
<rect x="527.87" y="640.84" width="5.19" height="5.23" fill="#a68c63"/>
<rect x="532.56" y="640.84" width="5.19" height="5.23" fill="#8c6d46"/>
<rect x="537.25" y="640.84" width="5.19" height="5.23" fill="#775837"/>
<rect x="541.94" y="640.84" width="5.19" height="5.23" fill="#6f5338"/>
<rect x="546.63" y="640.84" width="5.19" height="5.23" fill="#79634a"/>
<rect x="551.32" y="640.84" width="5.19" height="5.23" fill="#9d8d70"/>
<rect x="556.01" y="640.84" width="5.19" height="5.23" fill="#ab9e7f"/>
<rect x="560.70" y="640.84" width="5.19" height="5.23" fill="#ae9e7a"/>
<rect x="565.39" y="640.84" width="5.19" height="5.23" fill="#b49d6e"/>
<rect x="570.08" y="640.84" width="5.19" height="5.23" fill="#ad905d"/>
<rect x="574.77" y="640.84" width="5.19" height="5.23" fill="#826843"/>
<rect x="579.46" y="640.84" width="5.19" height="5.23" fill="#483526"/>
<rect x="584.15" y="640.84" width="5.19" height="5.23" fill="#241715"/>
<rect x="588.84" y="640.84" width="5.19" height="5.23" fill="#180e0f"/>
<rect x="593.53" y="640.84" width="5.19" height="5.23" fill="#120b0c"/>
<rect x="598.22" y="640.84" width="5.19" height="5.23" fill="#0f090b"/>
<rect x="602.91" y="640.84" width="5.19" height="5.23" fill="#0d080a"/>
<rect x="420.00" y="645.57" width="5.19" height="5.23" fill="#120a0c"/>
<rect x="424.69" y="645.57" width="5.19" height="5.23" fill="#180e10"/>
<rect x="429.38" y="645.57" width="5.19" height="5.23" fill="#241a1b"/>
<rect x="434.07" y="645.57" width="5.19" height="5.23" fill="#423938"/>
<rect x="438.76" y="645.57" width="5.19" height="5.23" fill="#6f6963"/>
<rect x="443.45" y="645.57" width="5.19" height="5.23" fill="#939084"/>
<rect x="448.14" y="645.57" width="5.19" height="5.23" fill="#a09b8a"/>
<rect x="452.83" y="645.57" width="5.19" height="5.23" fill="#a69b80"/>
<rect x="457.52" y="645.57" width="5.19" height="5.23" fill="#ac936a"/>
<rect x="462.21" y="645.57" width="5.19" height="5.23" fill="#906a3c"/>
<rect x="466.90" y="645.57" width="5.19" height="5.23" fill="#7b532a"/>
<rect x="471.59" y="645.57" width="5.19" height="5.23" fill="#654024"/>
<rect x="476.28" y="645.57" width="5.19" height="5.23" fill="#563521"/>
<rect x="480.97" y="645.57" width="5.19" height="5.23" fill="#513322"/>
<rect x="485.66" y="645.57" width="5.19" height="5.23" fill="#59402f"/>
<rect x="490.35" y="645.57" width="5.19" height="5.23" fill="#7f6d57"/>
<rect x="495.04" y="645.57" width="5.19" height="5.23" fill="#a89d83"/>
<rect x="499.73" y="645.57" width="5.19" height="5.23" fill="#a8a087"/>
<rect x="504.42" y="645.57" width="5.19" height="5.23" fill="#a8a088"/>
<rect x="509.11" y="645.57" width="5.19" height="5.23" fill="#a8a088"/>
<rect x="513.80" y="645.57" width="5.19" height="5.23" fill="#a99f84"/>
<rect x="518.49" y="645.57" width="5.19" height="5.23" fill="#ac9975"/>
<rect x="523.18" y="645.57" width="5.19" height="5.23" fill="#a48353"/>
<rect x="527.87" y="645.57" width="5.19" height="5.23" fill="#8e6535"/>
<rect x="532.56" y="645.57" width="5.19" height="5.23" fill="#734c29"/>
<rect x="537.25" y="645.57" width="5.19" height="5.23" fill="#5c3922"/>
<rect x="541.94" y="645.57" width="5.19" height="5.23" fill="#503020"/>
<rect x="546.63" y="645.57" width="5.19" height="5.23" fill="#492d1f"/>
<rect x="551.32" y="645.57" width="5.19" height="5.23" fill="#51392b"/>
<rect x="556.01" y="645.57" width="5.19" height="5.23" fill="#887860"/>
<rect x="560.70" y="645.57" width="5.19" height="5.23" fill="#ac9e7e"/>
<rect x="565.39" y="645.57" width="5.19" height="5.23" fill="#b29d73"/>
<rect x="570.08" y="645.57" width="5.19" height="5.23" fill="#b89b64"/>
<rect x="574.77" y="645.57" width="5.19" height="5.23" fill="#a28351"/>
<rect x="579.46" y="645.57" width="5.19" height="5.23" fill="#664e34"/>
<rect x="584.15" y="645.57" width="5.19" height="5.23" fill="#31211b"/>
<rect x="588.84" y="645.57" width="5.19" height="5.23" fill="#1b1011"/>
<rect x="593.53" y="645.57" width="5.19" height="5.23" fill="#140b0d"/>
<rect x="598.22" y="645.57" width="5.19" height="5.23" fill="#10090b"/>
<rect x="602.91" y="645.57" width="5.19" height="5.23" fill="#0e080a"/>
<rect x="420.00" y="650.30" width="5.19" height="5.23" fill="#130b0d"/>
<rect x="424.69" y="650.30" width="5.19" height="5.23" fill="#1a1012"/>
<rect x="429.38" y="650.30" width="5.19" height="5.23" fill="#2c2223"/>
<rect x="434.07" y="650.30" width="5.19" height="5.23" fill="#524b48"/>
<rect x="438.76" y="650.30" width="5.19" height="5.23" fill="#807c74"/>
<rect x="443.45" y="650.30" width="5.19" height="5.23" fill="#9b998b"/>
<rect x="448.14" y="650.30" width="5.19" height="5.23" fill="#a29b86"/>
<rect x="452.83" y="650.30" width="5.19" height="5.23" fill="#ab9671"/>
<rect x="457.52" y="650.30" width="5.19" height="5.23" fill="#9a723e"/>
<rect x="462.21" y="650.30" width="5.19" height="5.23" fill="#885b2a"/>
<rect x="466.90" y="650.30" width="5.19" height="5.23" fill="#653d24"/>
<rect x="471.59" y="650.30" width="5.19" height="5.23" fill="#522d23"/>
<rect x="476.28" y="650.30" width="5.19" height="5.23" fill="#4d2822"/>
<rect x="480.97" y="650.30" width="5.19" height="5.23" fill="#4a2823"/>
<rect x="485.66" y="650.30" width="5.19" height="5.23" fill="#4d3128"/>
<rect x="490.35" y="650.30" width="5.19" height="5.23" fill="#5d4739"/>
<rect x="495.04" y="650.30" width="5.19" height="5.23" fill="#8f8069"/>
<rect x="499.73" y="650.30" width="5.19" height="5.23" fill="#a89f85"/>
<rect x="504.42" y="650.30" width="5.19" height="5.23" fill="#a8a088"/>
<rect x="509.11" y="650.30" width="5.19" height="5.23" fill="#a89f87"/>
<rect x="513.80" y="650.30" width="5.19" height="5.23" fill="#aa9c7d"/>
<rect x="518.49" y="650.30" width="5.19" height="5.23" fill="#ad8d5d"/>
<rect x="523.18" y="650.30" width="5.19" height="5.23" fill="#9e7138"/>
<rect x="527.87" y="650.30" width="5.19" height="5.23" fill="#80552f"/>
<rect x="532.56" y="650.30" width="5.19" height="5.23" fill="#5d3727"/>
<rect x="537.25" y="650.30" width="5.19" height="5.23" fill="#502a24"/>
<rect x="541.94" y="650.30" width="5.19" height="5.23" fill="#4b2722"/>
<rect x="546.63" y="650.30" width="5.19" height="5.23" fill="#44241f"/>
<rect x="551.32" y="650.30" width="5.19" height="5.23" fill="#3d231c"/>
<rect x="556.01" y="650.30" width="5.19" height="5.23" fill="#4a352a"/>
<rect x="560.70" y="650.30" width="5.19" height="5.23" fill="#9c8e73"/>
<rect x="565.39" y="650.30" width="5.19" height="5.23" fill="#af9e79"/>
<rect x="570.08" y="650.30" width="5.19" height="5.23" fill="#b79c67"/>
<rect x="574.77" y="650.30" width="5.19" height="5.23" fill="#b29157"/>
<rect x="579.46" y="650.30" width="5.19" height="5.23" fill="#80643f"/>
<rect x="584.15" y="650.30" width="5.19" height="5.23" fill="#3e2c21"/>
<rect x="588.84" y="650.30" width="5.19" height="5.23" fill="#1f1312"/>
<rect x="593.53" y="650.30" width="5.19" height="5.23" fill="#150c0e"/>
<rect x="598.22" y="650.30" width="5.19" height="5.23" fill="#110a0c"/>
<rect x="602.91" y="650.30" width="5.19" height="5.23" fill="#0e080a"/>
<rect x="420.00" y="655.03" width="5.19" height="5.23" fill="#140c0e"/>
<rect x="424.69" y="655.03" width="5.19" height="5.23" fill="#1c1214"/>
<rect x="429.38" y="655.03" width="5.19" height="5.23" fill="#322829"/>
<rect x="434.07" y="655.03" width="5.19" height="5.23" fill="#5e5754"/>
<rect x="438.76" y="655.03" width="5.19" height="5.23" fill="#89877e"/>
<rect x="443.45" y="655.03" width="5.19" height="5.23" fill="#9d9a8b"/>
<rect x="448.14" y="655.03" width="5.19" height="5.23" fill="#a59a81"/>
<rect x="452.83" y="655.03" width="5.19" height="5.23" fill="#ab8d5e"/>
<rect x="457.52" y="655.03" width="5.19" height="5.23" fill="#9b6a2f"/>
<rect x="462.21" y="655.03" width="5.19" height="5.23" fill="#784c28"/>
<rect x="466.90" y="655.03" width="5.19" height="5.23" fill="#562e24"/>
<rect x="471.59" y="655.03" width="5.19" height="5.23" fill="#552a27"/>
<rect x="476.28" y="655.03" width="5.19" height="5.23" fill="#572b28"/>
<rect x="480.97" y="655.03" width="5.19" height="5.23" fill="#552b28"/>
<rect x="485.66" y="655.03" width="5.19" height="5.23" fill="#502e2a"/>
<rect x="490.35" y="655.03" width="5.19" height="5.23" fill="#583f35"/>
<rect x="495.04" y="655.03" width="5.19" height="5.23" fill="#7b6956"/>
<rect x="499.73" y="655.03" width="5.19" height="5.23" fill="#a89d83"/>
<rect x="504.42" y="655.03" width="5.19" height="5.23" fill="#a8a087"/>
<rect x="509.11" y="655.03" width="5.19" height="5.23" fill="#a99f85"/>
<rect x="513.80" y="655.03" width="5.19" height="5.23" fill="#ac9873"/>
<rect x="518.49" y="655.03" width="5.19" height="5.23" fill="#ab8147"/>
<rect x="523.18" y="655.03" width="5.19" height="5.23" fill="#9c6b34"/>
<rect x="527.87" y="655.03" width="5.19" height="5.23" fill="#6d452f"/>
<rect x="532.56" y="655.03" width="5.19" height="5.23" fill="#582f29"/>
<rect x="537.25" y="655.03" width="5.19" height="5.23" fill="#582b28"/>
<rect x="541.94" y="655.03" width="5.19" height="5.23" fill="#572b28"/>
<rect x="546.63" y="655.03" width="5.19" height="5.23" fill="#4f2725"/>
<rect x="551.32" y="655.03" width="5.19" height="5.23" fill="#40211e"/>
<rect x="556.01" y="655.03" width="5.19" height="5.23" fill="#3a231d"/>
<rect x="560.70" y="655.03" width="5.19" height="5.23" fill="#73614f"/>
<rect x="565.39" y="655.03" width="5.19" height="5.23" fill="#ad9e7c"/>
<rect x="570.08" y="655.03" width="5.19" height="5.23" fill="#b69c6b"/>
<rect x="574.77" y="655.03" width="5.19" height="5.23" fill="#b9975a"/>
<rect x="579.46" y="655.03" width="5.19" height="5.23" fill="#907245"/>
<rect x="584.15" y="655.03" width="5.19" height="5.23" fill="#4a3626"/>
<rect x="588.84" y="655.03" width="5.19" height="5.23" fill="#221514"/>
<rect x="593.53" y="655.03" width="5.19" height="5.23" fill="#160d0e"/>
<rect x="598.22" y="655.03" width="5.19" height="5.23" fill="#110a0c"/>
<rect x="602.91" y="655.03" width="5.19" height="5.23" fill="#0e080a"/>
<rect x="420.00" y="659.76" width="5.19" height="5.23" fill="#140c0e"/>
<rect x="424.69" y="659.76" width="5.19" height="5.23" fill="#1d1315"/>
<rect x="429.38" y="659.76" width="5.19" height="5.23" fill="#362c2c"/>
<rect x="434.07" y="659.76" width="5.19" height="5.23" fill="#645e5a"/>
<rect x="438.76" y="659.76" width="5.19" height="5.23" fill="#8d8b81"/>
<rect x="443.45" y="659.76" width="5.19" height="5.23" fill="#9d9a8b"/>
<rect x="448.14" y="659.76" width="5.19" height="5.23" fill="#a6997d"/>
<rect x="452.83" y="659.76" width="5.19" height="5.23" fill="#a7824e"/>
<rect x="457.52" y="659.76" width="5.19" height="5.23" fill="#9f6b2e"/>
<rect x="462.21" y="659.76" width="5.19" height="5.23" fill="#6d4227"/>
<rect x="466.90" y="659.76" width="5.19" height="5.23" fill="#552b26"/>
<rect x="471.59" y="659.76" width="5.19" height="5.23" fill="#5b2c29"/>
<rect x="476.28" y="659.76" width="5.19" height="5.23" fill="#5d2d2a"/>
<rect x="480.97" y="659.76" width="5.19" height="5.23" fill="#5b2d2a"/>
<rect x="485.66" y="659.76" width="5.19" height="5.23" fill="#552f2b"/>
<rect x="490.35" y="659.76" width="5.19" height="5.23" fill="#583d34"/>
<rect x="495.04" y="659.76" width="5.19" height="5.23" fill="#766351"/>
<rect x="499.73" y="659.76" width="5.19" height="5.23" fill="#a5997f"/>
<rect x="504.42" y="659.76" width="5.19" height="5.23" fill="#a89f87"/>
<rect x="509.11" y="659.76" width="5.19" height="5.23" fill="#a99e84"/>
<rect x="513.80" y="659.76" width="5.19" height="5.23" fill="#ad966d"/>
<rect x="518.49" y="659.76" width="5.19" height="5.23" fill="#ad7e3f"/>
<rect x="523.18" y="659.76" width="5.19" height="5.23" fill="#986734"/>
<rect x="527.87" y="659.76" width="5.19" height="5.23" fill="#663e2f"/>
<rect x="532.56" y="659.76" width="5.19" height="5.23" fill="#5b2f2b"/>
<rect x="537.25" y="659.76" width="5.19" height="5.23" fill="#5d2d2a"/>
<rect x="541.94" y="659.76" width="5.19" height="5.23" fill="#5c2d2a"/>
<rect x="546.63" y="659.76" width="5.19" height="5.23" fill="#562a28"/>
<rect x="551.32" y="659.76" width="5.19" height="5.23" fill="#452321"/>
<rect x="556.01" y="659.76" width="5.19" height="5.23" fill="#3a211c"/>
<rect x="560.70" y="659.76" width="5.19" height="5.23" fill="#604d3e"/>
<rect x="565.39" y="659.76" width="5.19" height="5.23" fill="#ac9d7c"/>
<rect x="570.08" y="659.76" width="5.19" height="5.23" fill="#b59c6c"/>
<rect x="574.77" y="659.76" width="5.19" height="5.23" fill="#bb985b"/>
<rect x="579.46" y="659.76" width="5.19" height="5.23" fill="#977848"/>
<rect x="584.15" y="659.76" width="5.19" height="5.23" fill="#503b29"/>
<rect x="588.84" y="659.76" width="5.19" height="5.23" fill="#241715"/>
<rect x="593.53" y="659.76" width="5.19" height="5.23" fill="#170d0f"/>
<rect x="598.22" y="659.76" width="5.19" height="5.23" fill="#120a0c"/>
<rect x="602.91" y="659.76" width="5.19" height="5.23" fill="#0f080a"/>
<rect x="420.00" y="664.49" width="5.19" height="5.23" fill="#140c0e"/>
<rect x="424.69" y="664.49" width="5.19" height="5.23" fill="#1d1315"/>
<rect x="429.38" y="664.49" width="5.19" height="5.23" fill="#352b2c"/>
<rect x="434.07" y="664.49" width="5.19" height="5.23" fill="#635d59"/>
<rect x="438.76" y="664.49" width="5.19" height="5.23" fill="#8c8a81"/>
<rect x="443.45" y="664.49" width="5.19" height="5.23" fill="#9d9a8b"/>
<rect x="448.14" y="664.49" width="5.19" height="5.23" fill="#a6997d"/>
<rect x="452.83" y="664.49" width="5.19" height="5.23" fill="#a8834f"/>
<rect x="457.52" y="664.49" width="5.19" height="5.23" fill="#a36e2e"/>
<rect x="462.21" y="664.49" width="5.19" height="5.23" fill="#714627"/>
<rect x="466.90" y="664.49" width="5.19" height="5.23" fill="#552c26"/>
<rect x="471.59" y="664.49" width="5.19" height="5.23" fill="#5a2c29"/>
<rect x="476.28" y="664.49" width="5.19" height="5.23" fill="#5c2d2a"/>
<rect x="480.97" y="664.49" width="5.19" height="5.23" fill="#5b2d2a"/>
<rect x="485.66" y="664.49" width="5.19" height="5.23" fill="#562f2b"/>
<rect x="490.35" y="664.49" width="5.19" height="5.23" fill="#5b3e34"/>
<rect x="495.04" y="664.49" width="5.19" height="5.23" fill="#796450"/>
<rect x="499.73" y="664.49" width="5.19" height="5.23" fill="#a6997e"/>
<rect x="504.42" y="664.49" width="5.19" height="5.23" fill="#a89f86"/>
<rect x="509.11" y="664.49" width="5.19" height="5.23" fill="#a99f84"/>
<rect x="513.80" y="664.49" width="5.19" height="5.23" fill="#ad966e"/>
<rect x="518.49" y="664.49" width="5.19" height="5.23" fill="#ae7e3f"/>
<rect x="523.18" y="664.49" width="5.19" height="5.23" fill="#9c6a34"/>
<rect x="527.87" y="664.49" width="5.19" height="5.23" fill="#69412f"/>
<rect x="532.56" y="664.49" width="5.19" height="5.23" fill="#5a2f2a"/>
<rect x="537.25" y="664.49" width="5.19" height="5.23" fill="#5c2d2a"/>
<rect x="541.94" y="664.49" width="5.19" height="5.23" fill="#5c2d2a"/>
<rect x="546.63" y="664.49" width="5.19" height="5.23" fill="#542927"/>
<rect x="551.32" y="664.49" width="5.19" height="5.23" fill="#462421"/>
<rect x="556.01" y="664.49" width="5.19" height="5.23" fill="#3f251d"/>
<rect x="560.70" y="664.49" width="5.19" height="5.23" fill="#685442"/>
<rect x="565.39" y="664.49" width="5.19" height="5.23" fill="#ad9d7b"/>
<rect x="570.08" y="664.49" width="5.19" height="5.23" fill="#b59c6c"/>
<rect x="574.77" y="664.49" width="5.19" height="5.23" fill="#ba985b"/>
<rect x="579.46" y="664.49" width="5.19" height="5.23" fill="#957647"/>
<rect x="584.15" y="664.49" width="5.19" height="5.23" fill="#4e3a28"/>
<rect x="588.84" y="664.49" width="5.19" height="5.23" fill="#241615"/>
<rect x="593.53" y="664.49" width="5.19" height="5.23" fill="#170d0f"/>
<rect x="598.22" y="664.49" width="5.19" height="5.23" fill="#120a0c"/>
<rect x="602.91" y="664.49" width="5.19" height="5.23" fill="#0f080a"/>
<rect x="420.00" y="669.21" width="5.19" height="5.23" fill="#140c0e"/>
<rect x="424.69" y="669.21" width="5.19" height="5.23" fill="#1c1214"/>
<rect x="429.38" y="669.21" width="5.19" height="5.23" fill="#312728"/>
<rect x="434.07" y="669.21" width="5.19" height="5.23" fill="#5c5552"/>
<rect x="438.76" y="669.21" width="5.19" height="5.23" fill="#88857c"/>
<rect x="443.45" y="669.21" width="5.19" height="5.23" fill="#9d9a8b"/>
<rect x="448.14" y="669.21" width="5.19" height="5.23" fill="#a49a81"/>
<rect x="452.83" y="669.21" width="5.19" height="5.23" fill="#ad8f5f"/>
<rect x="457.52" y="669.21" width="5.19" height="5.23" fill="#a57130"/>
<rect x="462.21" y="669.21" width="5.19" height="5.23" fill="#88572a"/>
<rect x="466.90" y="669.21" width="5.19" height="5.23" fill="#5c3325"/>
<rect x="471.59" y="669.21" width="5.19" height="5.23" fill="#552b26"/>
<rect x="476.28" y="669.21" width="5.19" height="5.23" fill="#562a27"/>
<rect x="480.97" y="669.21" width="5.19" height="5.23" fill="#542b27"/>
<rect x="485.66" y="669.21" width="5.19" height="5.23" fill="#53312a"/>
<rect x="490.35" y="669.21" width="5.19" height="5.23" fill="#614535"/>
<rect x="495.04" y="669.21" width="5.19" height="5.23" fill="#826d55"/>
<rect x="499.73" y="669.21" width="5.19" height="5.23" fill="#a99c80"/>
<rect x="504.42" y="669.21" width="5.19" height="5.23" fill="#a89f87"/>
<rect x="509.11" y="669.21" width="5.19" height="5.23" fill="#a99f86"/>
<rect x="513.80" y="669.21" width="5.19" height="5.23" fill="#ac9975"/>
<rect x="518.49" y="669.21" width="5.19" height="5.23" fill="#ad844a"/>
<rect x="523.18" y="669.21" width="5.19" height="5.23" fill="#a77233"/>
<rect x="527.87" y="669.21" width="5.19" height="5.23" fill="#7b502f"/>
<rect x="532.56" y="669.21" width="5.19" height="5.23" fill="#5b3229"/>
<rect x="537.25" y="669.21" width="5.19" height="5.23" fill="#552b27"/>
<rect x="541.94" y="669.21" width="5.19" height="5.23" fill="#542a26"/>
<rect x="546.63" y="669.21" width="5.19" height="5.23" fill="#4d2723"/>
<rect x="551.32" y="669.21" width="5.19" height="5.23" fill="#47281f"/>
<rect x="556.01" y="669.21" width="5.19" height="5.23" fill="#4b3022"/>
<rect x="560.70" y="669.21" width="5.19" height="5.23" fill="#86735a"/>
<rect x="565.39" y="669.21" width="5.19" height="5.23" fill="#ae9d79"/>
<rect x="570.08" y="669.21" width="5.19" height="5.23" fill="#b69c69"/>
<rect x="574.77" y="669.21" width="5.19" height="5.23" fill="#b79559"/>
<rect x="579.46" y="669.21" width="5.19" height="5.23" fill="#8a6d43"/>
<rect x="584.15" y="669.21" width="5.19" height="5.23" fill="#463224"/>
<rect x="588.84" y="669.21" width="5.19" height="5.23" fill="#211413"/>
<rect x="593.53" y="669.21" width="5.19" height="5.23" fill="#160d0e"/>
<rect x="598.22" y="669.21" width="5.19" height="5.23" fill="#110a0c"/>
<rect x="602.91" y="669.21" width="5.19" height="5.23" fill="#0e080a"/>
<rect x="420.00" y="673.94" width="5.19" height="5.23" fill="#130b0d"/>
<rect x="424.69" y="673.94" width="5.19" height="5.23" fill="#1a1012"/>
<rect x="429.38" y="673.94" width="5.19" height="5.23" fill="#2b2021"/>
<rect x="434.07" y="673.94" width="5.19" height="5.23" fill="#504845"/>
<rect x="438.76" y="673.94" width="5.19" height="5.23" fill="#7e7a71"/>
<rect x="443.45" y="673.94" width="5.19" height="5.23" fill="#9a9687"/>
<rect x="448.14" y="673.94" width="5.19" height="5.23" fill="#a19983"/>
<rect x="452.83" y="673.94" width="5.19" height="5.23" fill="#aa956e"/>
<rect x="457.52" y="673.94" width="5.19" height="5.23" fill="#a47940"/>
<rect x="462.21" y="673.94" width="5.19" height="5.23" fill="#9f6b2e"/>
<rect x="466.90" y="673.94" width="5.19" height="5.23" fill="#7d4f28"/>
<rect x="471.59" y="673.94" width="5.19" height="5.23" fill="#603825"/>
<rect x="476.28" y="673.94" width="5.19" height="5.23" fill="#563023"/>
<rect x="480.97" y="673.94" width="5.19" height="5.23" fill="#553124"/>
<rect x="485.66" y="673.94" width="5.19" height="5.23" fill="#5f3e2a"/>
<rect x="490.35" y="673.94" width="5.19" height="5.23" fill="#71553a"/>
<rect x="495.04" y="673.94" width="5.19" height="5.23" fill="#9a8565"/>
<rect x="499.73" y="673.94" width="5.19" height="5.23" fill="#a89c7e"/>
<rect x="504.42" y="673.94" width="5.19" height="5.23" fill="#a89d82"/>
<rect x="509.11" y="673.94" width="5.19" height="5.23" fill="#a89d82"/>
<rect x="513.80" y="673.94" width="5.19" height="5.23" fill="#a99a7a"/>
<rect x="518.49" y="673.94" width="5.19" height="5.23" fill="#ae9160"/>
<rect x="523.18" y="673.94" width="5.19" height="5.23" fill="#a87839"/>
<rect x="527.87" y="673.94" width="5.19" height="5.23" fill="#9a6830"/>
<rect x="532.56" y="673.94" width="5.19" height="5.23" fill="#754a2a"/>
<rect x="537.25" y="673.94" width="5.19" height="5.23" fill="#5d3624"/>
<rect x="541.94" y="673.94" width="5.19" height="5.23" fill="#563123"/>
<rect x="546.63" y="673.94" width="5.19" height="5.23" fill="#553221"/>
<rect x="551.32" y="673.94" width="5.19" height="5.23" fill="#573722"/>
<rect x="556.01" y="673.94" width="5.19" height="5.23" fill="#6d5339"/>
<rect x="560.70" y="673.94" width="5.19" height="5.23" fill="#aa9874"/>
<rect x="565.39" y="673.94" width="5.19" height="5.23" fill="#b09b72"/>
<rect x="570.08" y="673.94" width="5.19" height="5.23" fill="#b89a63"/>
<rect x="574.77" y="673.94" width="5.19" height="5.23" fill="#ad8c54"/>
<rect x="579.46" y="673.94" width="5.19" height="5.23" fill="#775d3b"/>
<rect x="584.15" y="673.94" width="5.19" height="5.23" fill="#39281e"/>
<rect x="588.84" y="673.94" width="5.19" height="5.23" fill="#1d1212"/>
<rect x="593.53" y="673.94" width="5.19" height="5.23" fill="#150c0e"/>
<rect x="598.22" y="673.94" width="5.19" height="5.23" fill="#110a0c"/>
<rect x="602.91" y="673.94" width="5.19" height="5.23" fill="#0e080a"/>
<rect x="420.00" y="678.67" width="5.19" height="5.23" fill="#120a0c"/>
<rect x="424.69" y="678.67" width="5.19" height="5.23" fill="#170e10"/>
<rect x="429.38" y="678.67" width="5.19" height="5.23" fill="#23191a"/>
<rect x="434.07" y="678.67" width="5.19" height="5.23" fill="#403735"/>
<rect x="438.76" y="678.67" width="5.19" height="5.23" fill="#6d665f"/>
<rect x="443.45" y="678.67" width="5.19" height="5.23" fill="#918c7d"/>
<rect x="448.14" y="678.67" width="5.19" height="5.23" fill="#9f9882"/>
<rect x="452.83" y="678.67" width="5.19" height="5.23" fill="#a59778"/>
<rect x="457.52" y="678.67" width="5.19" height="5.23" fill="#ac9163"/>
<rect x="462.21" y="678.67" width="5.19" height="5.23" fill="#a1773e"/>
<rect x="466.90" y="678.67" width="5.19" height="5.23" fill="#98682f"/>
<rect x="471.59" y="678.67" width="5.19" height="5.23" fill="#885a2a"/>
<rect x="476.28" y="678.67" width="5.19" height="5.23" fill="#784e27"/>
<rect x="480.97" y="678.67" width="5.19" height="5.23" fill="#724c28"/>
<rect x="485.66" y="678.67" width="5.19" height="5.23" fill="#795734"/>
<rect x="490.35" y="678.67" width="5.19" height="5.23" fill="#957b57"/>
<rect x="495.04" y="678.67" width="5.19" height="5.23" fill="#a99774"/>
<rect x="499.73" y="678.67" width="5.19" height="5.23" fill="#a79a7b"/>
<rect x="504.42" y="678.67" width="5.19" height="5.23" fill="#a79a7c"/>
<rect x="509.11" y="678.67" width="5.19" height="5.23" fill="#a79a7c"/>
<rect x="513.80" y="678.67" width="5.19" height="5.23" fill="#a79a7a"/>
<rect x="518.49" y="678.67" width="5.19" height="5.23" fill="#aa9670"/>
<rect x="523.18" y="678.67" width="5.19" height="5.23" fill="#ad8c59"/>
<rect x="527.87" y="678.67" width="5.19" height="5.23" fill="#a2753a"/>
<rect x="532.56" y="678.67" width="5.19" height="5.23" fill="#96662f"/>
<rect x="537.25" y="678.67" width="5.19" height="5.23" fill="#84572a"/>
<rect x="541.94" y="678.67" width="5.19" height="5.23" fill="#774e28"/>
<rect x="546.63" y="678.67" width="5.19" height="5.23" fill="#724d2a"/>
<rect x="551.32" y="678.67" width="5.19" height="5.23" fill="#7e603e"/>
<rect x="556.01" y="678.67" width="5.19" height="5.23" fill="#a69069"/>
<rect x="560.70" y="678.67" width="5.19" height="5.23" fill="#ac9871"/>
<rect x="565.39" y="678.67" width="5.19" height="5.23" fill="#b29968"/>
<rect x="570.08" y="678.67" width="5.19" height="5.23" fill="#b5965d"/>
<rect x="574.77" y="678.67" width="5.19" height="5.23" fill="#997b4b"/>
<rect x="579.46" y="678.67" width="5.19" height="5.23" fill="#5c462f"/>
<rect x="584.15" y="678.67" width="5.19" height="5.23" fill="#2c1d18"/>
<rect x="588.84" y="678.67" width="5.19" height="5.23" fill="#1a0f10"/>
<rect x="593.53" y="678.67" width="5.19" height="5.23" fill="#130b0d"/>
<rect x="598.22" y="678.67" width="5.19" height="5.23" fill="#10090b"/>
<rect x="602.91" y="678.67" width="5.19" height="5.23" fill="#0d080a"/>
<rect x="420.00" y="683.40" width="5.19" height="5.23" fill="#10090b"/>
<rect x="424.69" y="683.40" width="5.19" height="5.23" fill="#150c0e"/>
<rect x="429.38" y="683.40" width="5.19" height="5.23" fill="#1d1214"/>
<rect x="434.07" y="683.40" width="5.19" height="5.23" fill="#302525"/>
<rect x="438.76" y="683.40" width="5.19" height="5.23" fill="#554b46"/>
<rect x="443.45" y="683.40" width="5.19" height="5.23" fill="#7e776a"/>
<rect x="448.14" y="683.40" width="5.19" height="5.23" fill="#99917d"/>
<rect x="452.83" y="683.40" width="5.19" height="5.23" fill="#a1967b"/>
<rect x="457.52" y="683.40" width="5.19" height="5.23" fill="#a59573"/>
<rect x="462.21" y="683.40" width="5.19" height="5.23" fill="#aa9165"/>
<rect x="466.90" y="683.40" width="5.19" height="5.23" fill="#a98855"/>
<rect x="471.59" y="683.40" width="5.19" height="5.23" fill="#9e7946"/>
<rect x="476.28" y="683.40" width="5.19" height="5.23" fill="#977343"/>
<rect x="480.97" y="683.40" width="5.19" height="5.23" fill="#9a7a4d"/>
<rect x="485.66" y="683.40" width="5.19" height="5.23" fill="#a68d61"/>
<rect x="490.35" y="683.40" width="5.19" height="5.23" fill="#a8956e"/>
<rect x="495.04" y="683.40" width="5.19" height="5.23" fill="#a79774"/>
<rect x="499.73" y="683.40" width="5.19" height="5.23" fill="#a69876"/>
<rect x="504.42" y="683.40" width="5.19" height="5.23" fill="#a49675"/>
<rect x="509.11" y="683.40" width="5.19" height="5.23" fill="#a29373"/>
<rect x="513.80" y="683.40" width="5.19" height="5.23" fill="#a69776"/>
<rect x="518.49" y="683.40" width="5.19" height="5.23" fill="#a79774"/>
<rect x="523.18" y="683.40" width="5.19" height="5.23" fill="#a9946d"/>
<rect x="527.87" y="683.40" width="5.19" height="5.23" fill="#ac9061"/>
<rect x="532.56" y="683.40" width="5.19" height="5.23" fill="#a88754"/>
<rect x="537.25" y="683.40" width="5.19" height="5.23" fill="#9f7b4a"/>
<rect x="541.94" y="683.40" width="5.19" height="5.23" fill="#9c7b4c"/>
<rect x="546.63" y="683.40" width="5.19" height="5.23" fill="#a3875b"/>
<rect x="551.32" y="683.40" width="5.19" height="5.23" fill="#aa9369"/>
<rect x="556.01" y="683.40" width="5.19" height="5.23" fill="#aa966d"/>
<rect x="560.70" y="683.40" width="5.19" height="5.23" fill="#ae9769"/>
<rect x="565.39" y="683.40" width="5.19" height="5.23" fill="#b39761"/>
<rect x="570.08" y="683.40" width="5.19" height="5.23" fill="#a48653"/>
<rect x="574.77" y="683.40" width="5.19" height="5.23" fill="#765d3b"/>
<rect x="579.46" y="683.40" width="5.19" height="5.23" fill="#3f2d21"/>
<rect x="584.15" y="683.40" width="5.19" height="5.23" fill="#211413"/>
<rect x="588.84" y="683.40" width="5.19" height="5.23" fill="#160d0e"/>
<rect x="593.53" y="683.40" width="5.19" height="5.23" fill="#120a0c"/>
<rect x="598.22" y="683.40" width="5.19" height="5.23" fill="#0f090b"/>
<rect x="602.91" y="683.40" width="5.19" height="5.23" fill="#0d0709"/>
<rect x="420.00" y="688.13" width="5.19" height="5.23" fill="#0f090b"/>
<rect x="424.69" y="688.13" width="5.19" height="5.23" fill="#120b0d"/>
<rect x="429.38" y="688.13" width="5.19" height="5.23" fill="#170e10"/>
<rect x="434.07" y="688.13" width="5.19" height="5.23" fill="#221819"/>
<rect x="438.76" y="688.13" width="5.19" height="5.23" fill="#3a2f2e"/>
<rect x="443.45" y="688.13" width="5.19" height="5.23" fill="#60564e"/>
<rect x="448.14" y="688.13" width="5.19" height="5.23" fill="#847b6a"/>
<rect x="452.83" y="688.13" width="5.19" height="5.23" fill="#9b9076"/>
<rect x="457.52" y="688.13" width="5.19" height="5.23" fill="#a29475"/>
<rect x="462.21" y="688.13" width="5.19" height="5.23" fill="#a49470"/>
<rect x="466.90" y="688.13" width="5.19" height="5.23" fill="#a7936b"/>
<rect x="471.59" y="688.13" width="5.19" height="5.23" fill="#a89268"/>
<rect x="476.28" y="688.13" width="5.19" height="5.23" fill="#a89267"/>
<rect x="480.97" y="688.13" width="5.19" height="5.23" fill="#a89269"/>
<rect x="485.66" y="688.13" width="5.19" height="5.23" fill="#a7946c"/>
<rect x="490.35" y="688.13" width="5.19" height="5.23" fill="#a6946f"/>
<rect x="495.04" y="688.13" width="5.19" height="5.23" fill="#a69570"/>
<rect x="499.73" y="688.13" width="5.19" height="5.23" fill="#a2926e"/>
<rect x="504.42" y="688.13" width="5.19" height="5.23" fill="#978767"/>
<rect x="509.11" y="688.13" width="5.19" height="5.23" fill="#938365"/>
<rect x="513.80" y="688.13" width="5.19" height="5.23" fill="#9c8b6a"/>
<rect x="518.49" y="688.13" width="5.19" height="5.23" fill="#a59470"/>
<rect x="523.18" y="688.13" width="5.19" height="5.23" fill="#a6946f"/>
<rect x="527.87" y="688.13" width="5.19" height="5.23" fill="#a7946d"/>
<rect x="532.56" y="688.13" width="5.19" height="5.23" fill="#a8936a"/>
<rect x="537.25" y="688.13" width="5.19" height="5.23" fill="#a89268"/>
<rect x="541.94" y="688.13" width="5.19" height="5.23" fill="#a89269"/>
<rect x="546.63" y="688.13" width="5.19" height="5.23" fill="#a8936a"/>
<rect x="551.32" y="688.13" width="5.19" height="5.23" fill="#a9946b"/>
<rect x="556.01" y="688.13" width="5.19" height="5.23" fill="#ac9567"/>
<rect x="560.70" y="688.13" width="5.19" height="5.23" fill="#af9462"/>
<rect x="565.39" y="688.13" width="5.19" height="5.23" fill="#a38655"/>
<rect x="570.08" y="688.13" width="5.19" height="5.23" fill="#7f6541"/>
<rect x="574.77" y="688.13" width="5.19" height="5.23" fill="#4c3828"/>
<rect x="579.46" y="688.13" width="5.19" height="5.23" fill="#281a17"/>
<rect x="584.15" y="688.13" width="5.19" height="5.23" fill="#1a0f10"/>
<rect x="588.84" y="688.13" width="5.19" height="5.23" fill="#140b0d"/>
<rect x="593.53" y="688.13" width="5.19" height="5.23" fill="#10090b"/>
<rect x="598.22" y="688.13" width="5.19" height="5.23" fill="#0e080a"/>
<rect x="602.91" y="688.13" width="5.19" height="5.23" fill="#0c0709"/>
<rect x="420.00" y="692.86" width="5.19" height="5.23" fill="#0e080a"/>
<rect x="424.69" y="692.86" width="5.19" height="5.23" fill="#10090b"/>
<rect x="429.38" y="692.86" width="5.19" height="5.23" fill="#140c0e"/>
<rect x="434.07" y="692.86" width="5.19" height="5.23" fill="#1a1012"/>
<rect x="438.76" y="692.86" width="5.19" height="5.23" fill="#261b1c"/>
<rect x="443.45" y="692.86" width="5.19" height="5.23" fill="#3d322f"/>
<rect x="448.14" y="692.86" width="5.19" height="5.23" fill="#5e5349"/>
<rect x="452.83" y="692.86" width="5.19" height="5.23" fill="#7f7360"/>
<rect x="457.52" y="692.86" width="5.19" height="5.23" fill="#96886c"/>
<rect x="462.21" y="692.86" width="5.19" height="5.23" fill="#a1916e"/>
<rect x="466.90" y="692.86" width="5.19" height="5.23" fill="#a4926c"/>
<rect x="471.59" y="692.86" width="5.19" height="5.23" fill="#a5926a"/>
<rect x="476.28" y="692.86" width="5.19" height="5.23" fill="#a5926a"/>
<rect x="480.97" y="692.86" width="5.19" height="5.23" fill="#a5926a"/>
<rect x="485.66" y="692.86" width="5.19" height="5.23" fill="#a5926a"/>
<rect x="490.35" y="692.86" width="5.19" height="5.23" fill="#a3916a"/>
<rect x="495.04" y="692.86" width="5.19" height="5.23" fill="#9b8965"/>
<rect x="499.73" y="692.86" width="5.19" height="5.23" fill="#8c7b5c"/>
<rect x="504.42" y="692.86" width="5.19" height="5.23" fill="#7e6d53"/>
<rect x="509.11" y="692.86" width="5.19" height="5.23" fill="#796850"/>
<rect x="513.80" y="692.86" width="5.19" height="5.23" fill="#827156"/>
<rect x="518.49" y="692.86" width="5.19" height="5.23" fill="#918060"/>
<rect x="523.18" y="692.86" width="5.19" height="5.23" fill="#9e8c67"/>
<rect x="527.87" y="692.86" width="5.19" height="5.23" fill="#a4916a"/>
<rect x="532.56" y="692.86" width="5.19" height="5.23" fill="#a5926a"/>
<rect x="537.25" y="692.86" width="5.19" height="5.23" fill="#a5926a"/>
<rect x="541.94" y="692.86" width="5.19" height="5.23" fill="#a59269"/>
<rect x="546.63" y="692.86" width="5.19" height="5.23" fill="#a79268"/>
<rect x="551.32" y="692.86" width="5.19" height="5.23" fill="#a99265"/>
<rect x="556.01" y="692.86" width="5.19" height="5.23" fill="#a58c5e"/>
<rect x="560.70" y="692.86" width="5.19" height="5.23" fill="#967c52"/>
<rect x="565.39" y="692.86" width="5.19" height="5.23" fill="#765e3f"/>
<rect x="570.08" y="692.86" width="5.19" height="5.23" fill="#4d3929"/>
<rect x="574.77" y="692.86" width="5.19" height="5.23" fill="#2c1d19"/>
<rect x="579.46" y="692.86" width="5.19" height="5.23" fill="#1c1111"/>
<rect x="584.15" y="692.86" width="5.19" height="5.23" fill="#150c0e"/>
<rect x="588.84" y="692.86" width="5.19" height="5.23" fill="#110a0c"/>
<rect x="593.53" y="692.86" width="5.19" height="5.23" fill="#0f090b"/>
<rect x="598.22" y="692.86" width="5.19" height="5.23" fill="#0d080a"/>
<rect x="602.91" y="692.86" width="5.19" height="5.23" fill="#0c0709"/>
<rect x="420.00" y="697.59" width="5.19" height="5.23" fill="#0d080a"/>
<rect x="424.69" y="697.59" width="5.19" height="5.23" fill="#0f080a"/>
<rect x="429.38" y="697.59" width="5.19" height="5.23" fill="#110a0c"/>
<rect x="434.07" y="697.59" width="5.19" height="5.23" fill="#150c0e"/>
<rect x="438.76" y="697.59" width="5.19" height="5.23" fill="#1a1012"/>
<rect x="443.45" y="697.59" width="5.19" height="5.23" fill="#251a1b"/>
<rect x="448.14" y="697.59" width="5.19" height="5.23" fill="#372b29"/>
<rect x="452.83" y="697.59" width="5.19" height="5.23" fill="#51443c"/>
<rect x="457.52" y="697.59" width="5.19" height="5.23" fill="#6c5e4d"/>
<rect x="462.21" y="697.59" width="5.19" height="5.23" fill="#827259"/>
<rect x="466.90" y="697.59" width="5.19" height="5.23" fill="#907f5f"/>
<rect x="471.59" y="697.59" width="5.19" height="5.23" fill="#988560"/>
<rect x="476.28" y="697.59" width="5.19" height="5.23" fill="#9a8660"/>
<rect x="480.97" y="697.59" width="5.19" height="5.23" fill="#98845f"/>
<rect x="485.66" y="697.59" width="5.19" height="5.23" fill="#927e5c"/>
<rect x="490.35" y="697.59" width="5.19" height="5.23" fill="#857355"/>
<rect x="495.04" y="697.59" width="5.19" height="5.23" fill="#76644c"/>
<rect x="499.73" y="697.59" width="5.19" height="5.23" fill="#675643"/>
<rect x="504.42" y="697.59" width="5.19" height="5.23" fill="#5e4e3d"/>
<rect x="509.11" y="697.59" width="5.19" height="5.23" fill="#5a4c3b"/>
<rect x="513.80" y="697.59" width="5.19" height="5.23" fill="#5f503e"/>
<rect x="518.49" y="697.59" width="5.19" height="5.23" fill="#6a5945"/>
<rect x="523.18" y="697.59" width="5.19" height="5.23" fill="#79674e"/>
<rect x="527.87" y="697.59" width="5.19" height="5.23" fill="#877556"/>
<rect x="532.56" y="697.59" width="5.19" height="5.23" fill="#917e5c"/>
<rect x="537.25" y="697.59" width="5.19" height="5.23" fill="#96825e"/>
<rect x="541.94" y="697.59" width="5.19" height="5.23" fill="#96825e"/>
<rect x="546.63" y="697.59" width="5.19" height="5.23" fill="#937e5a"/>
<rect x="551.32" y="697.59" width="5.19" height="5.23" fill="#8a7552"/>
<rect x="556.01" y="697.59" width="5.19" height="5.23" fill="#796345"/>
<rect x="560.70" y="697.59" width="5.19" height="5.23" fill="#5e4a35"/>
<rect x="565.39" y="697.59" width="5.19" height="5.23" fill="#412f24"/>
<rect x="570.08" y="697.59" width="5.19" height="5.23" fill="#291b18"/>
<rect x="574.77" y="697.59" width="5.19" height="5.23" fill="#1c1111"/>
<rect x="579.46" y="697.59" width="5.19" height="5.23" fill="#160d0e"/>
<rect x="584.15" y="697.59" width="5.19" height="5.23" fill="#120a0c"/>
<rect x="588.84" y="697.59" width="5.19" height="5.23" fill="#10090b"/>
<rect x="593.53" y="697.59" width="5.19" height="5.23" fill="#0e080a"/>
<rect x="598.22" y="697.59" width="5.19" height="5.23" fill="#0c0709"/>
<rect x="602.91" y="697.59" width="5.19" height="5.23" fill="#0b0709"/>
<rect x="420.00" y="702.32" width="5.19" height="5.23" fill="#0c0709"/>
<rect x="424.69" y="702.32" width="5.19" height="5.23" fill="#0d080a"/>
<rect x="429.38" y="702.32" width="5.19" height="5.23" fill="#0f090b"/>
<rect x="434.07" y="702.32" width="5.19" height="5.23" fill="#110a0c"/>
<rect x="438.76" y="702.32" width="5.19" height="5.23" fill="#150c0e"/>
<rect x="443.45" y="702.32" width="5.19" height="5.23" fill="#190f11"/>
<rect x="448.14" y="702.32" width="5.19" height="5.23" fill="#201516"/>
<rect x="452.83" y="702.32" width="5.19" height="5.23" fill="#2b1f1e"/>
<rect x="457.52" y="702.32" width="5.19" height="5.23" fill="#392c28"/>
<rect x="462.21" y="702.32" width="5.19" height="5.23" fill="#493a32"/>
<rect x="466.90" y="702.32" width="5.19" height="5.23" fill="#56473a"/>
<rect x="471.59" y="702.32" width="5.19" height="5.23" fill="#604f3e"/>
<rect x="476.28" y="702.32" width="5.19" height="5.23" fill="#62513f"/>
<rect x="480.97" y="702.32" width="5.19" height="5.23" fill="#5f4f3d"/>
<rect x="485.66" y="702.32" width="5.19" height="5.23" fill="#584739"/>
<rect x="490.35" y="702.32" width="5.19" height="5.23" fill="#4e3f33"/>
<rect x="495.04" y="702.32" width="5.19" height="5.23" fill="#46372d"/>
<rect x="499.73" y="702.32" width="5.19" height="5.23" fill="#42342b"/>
<rect x="504.42" y="702.32" width="5.19" height="5.23" fill="#3f3229"/>
<rect x="509.11" y="702.32" width="5.19" height="5.23" fill="#3e3229"/>
<rect x="513.80" y="702.32" width="5.19" height="5.23" fill="#3f3229"/>
<rect x="518.49" y="702.32" width="5.19" height="5.23" fill="#41332a"/>
<rect x="523.18" y="702.32" width="5.19" height="5.23" fill="#46372d"/>
<rect x="527.87" y="702.32" width="5.19" height="5.23" fill="#4e3e32"/>
<rect x="532.56" y="702.32" width="5.19" height="5.23" fill="#564537"/>
<rect x="537.25" y="702.32" width="5.19" height="5.23" fill="#5b4a3a"/>
<rect x="541.94" y="702.32" width="5.19" height="5.23" fill="#5b4a3a"/>
<rect x="546.63" y="702.32" width="5.19" height="5.23" fill="#564536"/>
<rect x="551.32" y="702.32" width="5.19" height="5.23" fill="#4c3b2e"/>
<rect x="556.01" y="702.32" width="5.19" height="5.23" fill="#3d2d24"/>
<rect x="560.70" y="702.32" width="5.19" height="5.23" fill="#2e1f1b"/>
<rect x="565.39" y="702.32" width="5.19" height="5.23" fill="#221514"/>
<rect x="570.08" y="702.32" width="5.19" height="5.23" fill="#1a0f10"/>
<rect x="574.77" y="702.32" width="5.19" height="5.23" fill="#150c0e"/>
<rect x="579.46" y="702.32" width="5.19" height="5.23" fill="#120a0c"/>
<rect x="584.15" y="702.32" width="5.19" height="5.23" fill="#10090b"/>
<rect x="588.84" y="702.32" width="5.19" height="5.23" fill="#0e080a"/>
<rect x="593.53" y="702.32" width="5.19" height="5.23" fill="#0c0709"/>
<rect x="598.22" y="702.32" width="5.19" height="5.23" fill="#0b0709"/>
<rect x="602.91" y="702.32" width="5.19" height="5.23" fill="#0b0608"/>
<rect x="420.00" y="707.05" width="5.19" height="5.23" fill="#0b0709"/>
<rect x="424.69" y="707.05" width="5.19" height="5.23" fill="#0c0709"/>
<rect x="429.38" y="707.05" width="5.19" height="5.23" fill="#0d080a"/>
<rect x="434.07" y="707.05" width="5.19" height="5.23" fill="#0f090b"/>
<rect x="438.76" y="707.05" width="5.19" height="5.23" fill="#110a0c"/>
<rect x="443.45" y="707.05" width="5.19" height="5.23" fill="#140b0d"/>
<rect x="448.14" y="707.05" width="5.19" height="5.23" fill="#170d0f"/>
<rect x="452.83" y="707.05" width="5.19" height="5.23" fill="#1a1012"/>
<rect x="457.52" y="707.05" width="5.19" height="5.23" fill="#1f1415"/>
<rect x="462.21" y="707.05" width="5.19" height="5.23" fill="#241818"/>
<rect x="466.90" y="707.05" width="5.19" height="5.23" fill="#291c1b"/>
<rect x="471.59" y="707.05" width="5.19" height="5.23" fill="#2c1e1c"/>
<rect x="476.28" y="707.05" width="5.19" height="5.23" fill="#2d1f1d"/>
<rect x="480.97" y="707.05" width="5.19" height="5.23" fill="#2c1e1c"/>
<rect x="485.66" y="707.05" width="5.19" height="5.23" fill="#2a1d1b"/>
<rect x="490.35" y="707.05" width="5.19" height="5.23" fill="#291c1a"/>
<rect x="495.04" y="707.05" width="5.19" height="5.23" fill="#281c1a"/>
<rect x="499.73" y="707.05" width="5.19" height="5.23" fill="#291d1b"/>
<rect x="504.42" y="707.05" width="5.19" height="5.23" fill="#281e1b"/>
<rect x="509.11" y="707.05" width="5.19" height="5.23" fill="#271d1a"/>
<rect x="513.80" y="707.05" width="5.19" height="5.23" fill="#281d1a"/>
<rect x="518.49" y="707.05" width="5.19" height="5.23" fill="#281c1a"/>
<rect x="523.18" y="707.05" width="5.19" height="5.23" fill="#271b19"/>
<rect x="527.87" y="707.05" width="5.19" height="5.23" fill="#281b19"/>
<rect x="532.56" y="707.05" width="5.19" height="5.23" fill="#291b1a"/>
<rect x="537.25" y="707.05" width="5.19" height="5.23" fill="#291c1a"/>
<rect x="541.94" y="707.05" width="5.19" height="5.23" fill="#291c1a"/>
<rect x="546.63" y="707.05" width="5.19" height="5.23" fill="#281a19"/>
<rect x="551.32" y="707.05" width="5.19" height="5.23" fill="#241716"/>
<rect x="556.01" y="707.05" width="5.19" height="5.23" fill="#1f1313"/>
<rect x="560.70" y="707.05" width="5.19" height="5.23" fill="#1b1011"/>
<rect x="565.39" y="707.05" width="5.19" height="5.23" fill="#170d0f"/>
<rect x="570.08" y="707.05" width="5.19" height="5.23" fill="#140b0d"/>
<rect x="574.77" y="707.05" width="5.19" height="5.23" fill="#120a0c"/>
<rect x="579.46" y="707.05" width="5.19" height="5.23" fill="#10090b"/>
<rect x="584.15" y="707.05" width="5.19" height="5.23" fill="#0e080a"/>
<rect x="588.84" y="707.05" width="5.19" height="5.23" fill="#0d0709"/>
<rect x="593.53" y="707.05" width="5.19" height="5.23" fill="#0c0709"/>
<rect x="598.22" y="707.05" width="5.19" height="5.23" fill="#0b0608"/>
<rect x="602.91" y="707.05" width="5.19" height="5.23" fill="#0a0608"/>
<rect x="420.00" y="711.78" width="5.19" height="5.23" fill="#0b0608"/>
<rect x="424.69" y="711.78" width="5.19" height="5.23" fill="#0b0709"/>
<rect x="429.38" y="711.78" width="5.19" height="5.23" fill="#0c0709"/>
<rect x="434.07" y="711.78" width="5.19" height="5.23" fill="#0d080a"/>
<rect x="438.76" y="711.78" width="5.19" height="5.23" fill="#0f080a"/>
<rect x="443.45" y="711.78" width="5.19" height="5.23" fill="#10090b"/>
<rect x="448.14" y="711.78" width="5.19" height="5.23" fill="#120a0c"/>
<rect x="452.83" y="711.78" width="5.19" height="5.23" fill="#140b0d"/>
<rect x="457.52" y="711.78" width="5.19" height="5.23" fill="#160d0f"/>
<rect x="462.21" y="711.78" width="5.19" height="5.23" fill="#180e10"/>
<rect x="466.90" y="711.78" width="5.19" height="5.23" fill="#190f10"/>
<rect x="471.59" y="711.78" width="5.19" height="5.23" fill="#1a0f11"/>
<rect x="476.28" y="711.78" width="5.19" height="5.23" fill="#1a0f11"/>
<rect x="480.97" y="711.78" width="5.19" height="5.23" fill="#1a0f11"/>
<rect x="485.66" y="711.78" width="5.19" height="5.23" fill="#1a1011"/>
<rect x="490.35" y="711.78" width="5.19" height="5.23" fill="#1a1011"/>
<rect x="495.04" y="711.78" width="5.19" height="5.23" fill="#1a1111"/>
<rect x="499.73" y="711.78" width="5.19" height="5.23" fill="#1a1111"/>
<rect x="504.42" y="711.78" width="5.19" height="5.23" fill="#191111"/>
<rect x="509.11" y="711.78" width="5.19" height="5.23" fill="#181010"/>
<rect x="513.80" y="711.78" width="5.19" height="5.23" fill="#191111"/>
<rect x="518.49" y="711.78" width="5.19" height="5.23" fill="#1a1111"/>
<rect x="523.18" y="711.78" width="5.19" height="5.23" fill="#1a1011"/>
<rect x="527.87" y="711.78" width="5.19" height="5.23" fill="#190f11"/>
<rect x="532.56" y="711.78" width="5.19" height="5.23" fill="#190f10"/>
<rect x="537.25" y="711.78" width="5.19" height="5.23" fill="#190f10"/>
<rect x="541.94" y="711.78" width="5.19" height="5.23" fill="#190f10"/>
<rect x="546.63" y="711.78" width="5.19" height="5.23" fill="#190e10"/>
<rect x="551.32" y="711.78" width="5.19" height="5.23" fill="#170d0f"/>
<rect x="556.01" y="711.78" width="5.19" height="5.23" fill="#160d0e"/>
<rect x="560.70" y="711.78" width="5.19" height="5.23" fill="#140b0d"/>
<rect x="565.39" y="711.78" width="5.19" height="5.23" fill="#120b0c"/>
<rect x="570.08" y="711.78" width="5.19" height="5.23" fill="#110a0c"/>
<rect x="574.77" y="711.78" width="5.19" height="5.23" fill="#0f090b"/>
<rect x="579.46" y="711.78" width="5.19" height="5.23" fill="#0e080a"/>
<rect x="584.15" y="711.78" width="5.19" height="5.23" fill="#0c0709"/>
<rect x="588.84" y="711.78" width="5.19" height="5.23" fill="#0c0709"/>
<rect x="593.53" y="711.78" width="5.19" height="5.23" fill="#0b0709"/>
<rect x="598.22" y="711.78" width="5.19" height="5.23" fill="#0b0608"/>
<rect x="602.91" y="711.78" width="5.19" height="5.23" fill="#0a0608"/>
<rect x="420.00" y="716.51" width="5.19" height="5.23" fill="#0a0608"/>
<rect x="424.69" y="716.51" width="5.19" height="5.23" fill="#0b0608"/>
<rect x="429.38" y="716.51" width="5.19" height="5.23" fill="#0b0709"/>
<rect x="434.07" y="716.51" width="5.19" height="5.23" fill="#0c0709"/>
<rect x="438.76" y="716.51" width="5.19" height="5.23" fill="#0d0709"/>
<rect x="443.45" y="716.51" width="5.19" height="5.23" fill="#0e080a"/>
<rect x="448.14" y="716.51" width="5.19" height="5.23" fill="#0f090b"/>
<rect x="452.83" y="716.51" width="5.19" height="5.23" fill="#10090b"/>
<rect x="457.52" y="716.51" width="5.19" height="5.23" fill="#110a0c"/>
<rect x="462.21" y="716.51" width="5.19" height="5.23" fill="#120b0d"/>
<rect x="466.90" y="716.51" width="5.19" height="5.23" fill="#130b0d"/>
<rect x="471.59" y="716.51" width="5.19" height="5.23" fill="#140b0d"/>
<rect x="476.28" y="716.51" width="5.19" height="5.23" fill="#140b0d"/>
<rect x="480.97" y="716.51" width="5.19" height="5.23" fill="#140b0d"/>
<rect x="485.66" y="716.51" width="5.19" height="5.23" fill="#140b0d"/>
<rect x="490.35" y="716.51" width="5.19" height="5.23" fill="#130b0d"/>
<rect x="495.04" y="716.51" width="5.19" height="5.23" fill="#130b0d"/>
<rect x="499.73" y="716.51" width="5.19" height="5.23" fill="#120b0c"/>
<rect x="504.42" y="716.51" width="5.19" height="5.23" fill="#110a0c"/>
<rect x="509.11" y="716.51" width="5.19" height="5.23" fill="#100a0c"/>
<rect x="513.80" y="716.51" width="5.19" height="5.23" fill="#110b0c"/>
<rect x="518.49" y="716.51" width="5.19" height="5.23" fill="#120b0c"/>
<rect x="523.18" y="716.51" width="5.19" height="5.23" fill="#130b0d"/>
<rect x="527.87" y="716.51" width="5.19" height="5.23" fill="#130b0d"/>
<rect x="532.56" y="716.51" width="5.19" height="5.23" fill="#130b0d"/>
<rect x="537.25" y="716.51" width="5.19" height="5.23" fill="#130b0d"/>
<rect x="541.94" y="716.51" width="5.19" height="5.23" fill="#130b0d"/>
<rect x="546.63" y="716.51" width="5.19" height="5.23" fill="#130b0d"/>
<rect x="551.32" y="716.51" width="5.19" height="5.23" fill="#120a0c"/>
<rect x="556.01" y="716.51" width="5.19" height="5.23" fill="#120a0c"/>
<rect x="560.70" y="716.51" width="5.19" height="5.23" fill="#10090b"/>
<rect x="565.39" y="716.51" width="5.19" height="5.23" fill="#0f090b"/>
<rect x="570.08" y="716.51" width="5.19" height="5.23" fill="#0e080a"/>
<rect x="574.77" y="716.51" width="5.19" height="5.23" fill="#0d080a"/>
<rect x="579.46" y="716.51" width="5.19" height="5.23" fill="#0c0709"/>
<rect x="584.15" y="716.51" width="5.19" height="5.23" fill="#0b0709"/>
<rect x="588.84" y="716.51" width="5.19" height="5.23" fill="#0b0608"/>
<rect x="593.53" y="716.51" width="5.19" height="5.23" fill="#0b0608"/>
<rect x="598.22" y="716.51" width="5.19" height="5.23" fill="#0a0608"/>
<rect x="602.91" y="716.51" width="5.19" height="5.23" fill="#0a0608"/>
<rect x="420.00" y="721.24" width="5.19" height="5.23" fill="#0a0608"/>
<rect x="424.69" y="721.24" width="5.19" height="5.23" fill="#0a0608"/>
<rect x="429.38" y="721.24" width="5.19" height="5.23" fill="#0b0608"/>
<rect x="434.07" y="721.24" width="5.19" height="5.23" fill="#0b0709"/>
<rect x="438.76" y="721.24" width="5.19" height="5.23" fill="#0c0709"/>
<rect x="443.45" y="721.24" width="5.19" height="5.23" fill="#0c0709"/>
<rect x="448.14" y="721.24" width="5.19" height="5.23" fill="#0d080a"/>
<rect x="452.83" y="721.24" width="5.19" height="5.23" fill="#0e080a"/>
<rect x="457.52" y="721.24" width="5.19" height="5.23" fill="#0e080a"/>
<rect x="462.21" y="721.24" width="5.19" height="5.23" fill="#0f090b"/>
<rect x="466.90" y="721.24" width="5.19" height="5.23" fill="#10090b"/>
<rect x="471.59" y="721.24" width="5.19" height="5.23" fill="#10090b"/>
<rect x="476.28" y="721.24" width="5.19" height="5.23" fill="#10090b"/>
<rect x="480.97" y="721.24" width="5.19" height="5.23" fill="#10090b"/>
<rect x="485.66" y="721.24" width="5.19" height="5.23" fill="#10090b"/>
<rect x="490.35" y="721.24" width="5.19" height="5.23" fill="#0f090b"/>
<rect x="495.04" y="721.24" width="5.19" height="5.23" fill="#0f090a"/>
<rect x="499.73" y="721.24" width="5.19" height="5.23" fill="#0e080a"/>
<rect x="504.42" y="721.24" width="5.19" height="5.23" fill="#0d080a"/>
<rect x="509.11" y="721.24" width="5.19" height="5.23" fill="#0d0809"/>
<rect x="513.80" y="721.24" width="5.19" height="5.23" fill="#0d080a"/>
<rect x="518.49" y="721.24" width="5.19" height="5.23" fill="#0e080a"/>
<rect x="523.18" y="721.24" width="5.19" height="5.23" fill="#0f090b"/>
<rect x="527.87" y="721.24" width="5.19" height="5.23" fill="#0f090b"/>
<rect x="532.56" y="721.24" width="5.19" height="5.23" fill="#10090b"/>
<rect x="537.25" y="721.24" width="5.19" height="5.23" fill="#10090b"/>
<rect x="541.94" y="721.24" width="5.19" height="5.23" fill="#10090b"/>
<rect x="546.63" y="721.24" width="5.19" height="5.23" fill="#0f090b"/>
<rect x="551.32" y="721.24" width="5.19" height="5.23" fill="#0f090b"/>
<rect x="556.01" y="721.24" width="5.19" height="5.23" fill="#0e080a"/>
<rect x="560.70" y="721.24" width="5.19" height="5.23" fill="#0e080a"/>
<rect x="565.39" y="721.24" width="5.19" height="5.23" fill="#0d080a"/>
<rect x="570.08" y="721.24" width="5.19" height="5.23" fill="#0c0709"/>
<rect x="574.77" y="721.24" width="5.19" height="5.23" fill="#0c0709"/>
<rect x="579.46" y="721.24" width="5.19" height="5.23" fill="#0b0709"/>
<rect x="584.15" y="721.24" width="5.19" height="5.23" fill="#0b0608"/>
<rect x="588.84" y="721.24" width="5.19" height="5.23" fill="#0a0608"/>
<rect x="593.53" y="721.24" width="5.19" height="5.23" fill="#0a0608"/>
<rect x="598.22" y="721.24" width="5.19" height="5.23" fill="#0a0608"/>
<rect x="602.91" y="721.24" width="5.19" height="5.23" fill="#0a0608"/>
<rect x="420.00" y="725.97" width="5.19" height="5.23" fill="#0a0608"/>
<rect x="424.69" y="725.97" width="5.19" height="5.23" fill="#0a0608"/>
<rect x="429.38" y="725.97" width="5.19" height="5.23" fill="#0a0608"/>
<rect x="434.07" y="725.97" width="5.19" height="5.23" fill="#0b0608"/>
<rect x="438.76" y="725.97" width="5.19" height="5.23" fill="#0b0608"/>
<rect x="443.45" y="725.97" width="5.19" height="5.23" fill="#0b0709"/>
<rect x="448.14" y="725.97" width="5.19" height="5.23" fill="#0c0709"/>
<rect x="452.83" y="725.97" width="5.19" height="5.23" fill="#0c0709"/>
<rect x="457.52" y="725.97" width="5.19" height="5.23" fill="#0c0709"/>
<rect x="462.21" y="725.97" width="5.19" height="5.23" fill="#0d080a"/>
<rect x="466.90" y="725.97" width="5.19" height="5.23" fill="#0d080a"/>
<rect x="471.59" y="725.97" width="5.19" height="5.23" fill="#0d080a"/>
<rect x="476.28" y="725.97" width="5.19" height="5.23" fill="#0d080a"/>
<rect x="480.97" y="725.97" width="5.19" height="5.23" fill="#0d080a"/>
<rect x="485.66" y="725.97" width="5.19" height="5.23" fill="#0d080a"/>
<rect x="490.35" y="725.97" width="5.19" height="5.23" fill="#0d080a"/>
<rect x="495.04" y="725.97" width="5.19" height="5.23" fill="#0c0709"/>
<rect x="499.73" y="725.97" width="5.19" height="5.23" fill="#0c0709"/>
<rect x="504.42" y="725.97" width="5.19" height="5.23" fill="#0c0709"/>
<rect x="509.11" y="725.97" width="5.19" height="5.23" fill="#0b0709"/>
<rect x="513.80" y="725.97" width="5.19" height="5.23" fill="#0c0709"/>
<rect x="518.49" y="725.97" width="5.19" height="5.23" fill="#0c0709"/>
<rect x="523.18" y="725.97" width="5.19" height="5.23" fill="#0c0709"/>
<rect x="527.87" y="725.97" width="5.19" height="5.23" fill="#0d080a"/>
<rect x="532.56" y="725.97" width="5.19" height="5.23" fill="#0d080a"/>
<rect x="537.25" y="725.97" width="5.19" height="5.23" fill="#0d080a"/>
<rect x="541.94" y="725.97" width="5.19" height="5.23" fill="#0d080a"/>
<rect x="546.63" y="725.97" width="5.19" height="5.23" fill="#0d080a"/>
<rect x="551.32" y="725.97" width="5.19" height="5.23" fill="#0d0709"/>
<rect x="556.01" y="725.97" width="5.19" height="5.23" fill="#0c0709"/>
<rect x="560.70" y="725.97" width="5.19" height="5.23" fill="#0c0709"/>
<rect x="565.39" y="725.97" width="5.19" height="5.23" fill="#0c0709"/>
<rect x="570.08" y="725.97" width="5.19" height="5.23" fill="#0b0709"/>
<rect x="574.77" y="725.97" width="5.19" height="5.23" fill="#0b0608"/>
<rect x="579.46" y="725.97" width="5.19" height="5.23" fill="#0b0608"/>
<rect x="584.15" y="725.97" width="5.19" height="5.23" fill="#0a0608"/>
<rect x="588.84" y="725.97" width="5.19" height="5.23" fill="#0a0608"/>
<rect x="593.53" y="725.97" width="5.19" height="5.23" fill="#0a0608"/>
<rect x="598.22" y="725.97" width="5.19" height="5.23" fill="#0a0608"/>
<rect x="602.91" y="725.97" width="5.19" height="5.23" fill="#0a0608"/>
</g></g>
<g clip-path="url(#clipB)"><g filter="url(#blur1)">
<rect x="419.3" y="749.1" width="188" height="128.6" fill="#1a0f12"/>
<rect x="419.30" y="749.10" width="5.20" height="5.26" fill="#0a0608"/>
<rect x="424.00" y="749.10" width="5.20" height="5.26" fill="#0a0608"/>
<rect x="428.70" y="749.10" width="5.20" height="5.26" fill="#0b0608"/>
<rect x="433.40" y="749.10" width="5.20" height="5.26" fill="#0b0709"/>
<rect x="438.10" y="749.10" width="5.20" height="5.26" fill="#0c0709"/>
<rect x="442.80" y="749.10" width="5.20" height="5.26" fill="#0c0709"/>
<rect x="447.50" y="749.10" width="5.20" height="5.26" fill="#0d080a"/>
<rect x="452.20" y="749.10" width="5.20" height="5.26" fill="#0e080a"/>
<rect x="456.90" y="749.10" width="5.20" height="5.26" fill="#0f080a"/>
<rect x="461.60" y="749.10" width="5.20" height="5.26" fill="#0f090b"/>
<rect x="466.30" y="749.10" width="5.20" height="5.26" fill="#10090b"/>
<rect x="471.00" y="749.10" width="5.20" height="5.26" fill="#10090b"/>
<rect x="475.70" y="749.10" width="5.20" height="5.26" fill="#10090b"/>
<rect x="480.40" y="749.10" width="5.20" height="5.26" fill="#10090b"/>
<rect x="485.10" y="749.10" width="5.20" height="5.26" fill="#10090b"/>
<rect x="489.80" y="749.10" width="5.20" height="5.26" fill="#0f090b"/>
<rect x="494.50" y="749.10" width="5.20" height="5.26" fill="#0f090b"/>
<rect x="499.20" y="749.10" width="5.20" height="5.26" fill="#0e080a"/>
<rect x="503.90" y="749.10" width="5.20" height="5.26" fill="#0d080a"/>
<rect x="508.60" y="749.10" width="5.20" height="5.26" fill="#0d080a"/>
<rect x="513.30" y="749.10" width="5.20" height="5.26" fill="#0d080a"/>
<rect x="518.00" y="749.10" width="5.20" height="5.26" fill="#0e080a"/>
<rect x="522.70" y="749.10" width="5.20" height="5.26" fill="#0e080a"/>
<rect x="527.40" y="749.10" width="5.20" height="5.26" fill="#0f090b"/>
<rect x="532.10" y="749.10" width="5.20" height="5.26" fill="#0f090b"/>
<rect x="536.80" y="749.10" width="5.20" height="5.26" fill="#10090b"/>
<rect x="541.50" y="749.10" width="5.20" height="5.26" fill="#10090b"/>
<rect x="546.20" y="749.10" width="5.20" height="5.26" fill="#10090b"/>
<rect x="550.90" y="749.10" width="5.20" height="5.26" fill="#10090b"/>
<rect x="555.60" y="749.10" width="5.20" height="5.26" fill="#10090b"/>
<rect x="560.30" y="749.10" width="5.20" height="5.26" fill="#0f090b"/>
<rect x="565.00" y="749.10" width="5.20" height="5.26" fill="#0e080a"/>
<rect x="569.70" y="749.10" width="5.20" height="5.26" fill="#0d080a"/>
<rect x="574.40" y="749.10" width="5.20" height="5.26" fill="#0d0709"/>
<rect x="579.10" y="749.10" width="5.20" height="5.26" fill="#0c0709"/>
<rect x="583.80" y="749.10" width="5.20" height="5.26" fill="#0b0709"/>
<rect x="588.50" y="749.10" width="5.20" height="5.26" fill="#0b0608"/>
<rect x="593.20" y="749.10" width="5.20" height="5.26" fill="#0b0608"/>
<rect x="597.90" y="749.10" width="5.20" height="5.26" fill="#0a0608"/>
<rect x="602.60" y="749.10" width="5.20" height="5.26" fill="#0a0608"/>
<rect x="419.30" y="753.86" width="5.20" height="5.26" fill="#0a0608"/>
<rect x="424.00" y="753.86" width="5.20" height="5.26" fill="#0b0608"/>
<rect x="428.70" y="753.86" width="5.20" height="5.26" fill="#0b0709"/>
<rect x="433.40" y="753.86" width="5.20" height="5.26" fill="#0c0709"/>
<rect x="438.10" y="753.86" width="5.20" height="5.26" fill="#0d080a"/>
<rect x="442.80" y="753.86" width="5.20" height="5.26" fill="#0e080a"/>
<rect x="447.50" y="753.86" width="5.20" height="5.26" fill="#0f090b"/>
<rect x="452.20" y="753.86" width="5.20" height="5.26" fill="#10090b"/>
<rect x="456.90" y="753.86" width="5.20" height="5.26" fill="#120a0c"/>
<rect x="461.60" y="753.86" width="5.20" height="5.26" fill="#130b0d"/>
<rect x="466.30" y="753.86" width="5.20" height="5.26" fill="#130b0d"/>
<rect x="471.00" y="753.86" width="5.20" height="5.26" fill="#140b0d"/>
<rect x="475.70" y="753.86" width="5.20" height="5.26" fill="#140b0d"/>
<rect x="480.40" y="753.86" width="5.20" height="5.26" fill="#140b0d"/>
<rect x="485.10" y="753.86" width="5.20" height="5.26" fill="#140b0d"/>
<rect x="489.80" y="753.86" width="5.20" height="5.26" fill="#130b0d"/>
<rect x="494.50" y="753.86" width="5.20" height="5.26" fill="#130b0d"/>
<rect x="499.20" y="753.86" width="5.20" height="5.26" fill="#120b0d"/>
<rect x="503.90" y="753.86" width="5.20" height="5.26" fill="#110b0d"/>
<rect x="508.60" y="753.86" width="5.20" height="5.26" fill="#100a0c"/>
<rect x="513.30" y="753.86" width="5.20" height="5.26" fill="#100a0c"/>
<rect x="518.00" y="753.86" width="5.20" height="5.26" fill="#110b0d"/>
<rect x="522.70" y="753.86" width="5.20" height="5.26" fill="#120b0d"/>
<rect x="527.40" y="753.86" width="5.20" height="5.26" fill="#130b0d"/>
<rect x="532.10" y="753.86" width="5.20" height="5.26" fill="#130b0d"/>
<rect x="536.80" y="753.86" width="5.20" height="5.26" fill="#140b0d"/>
<rect x="541.50" y="753.86" width="5.20" height="5.26" fill="#140b0d"/>
<rect x="546.20" y="753.86" width="5.20" height="5.26" fill="#140b0d"/>
<rect x="550.90" y="753.86" width="5.20" height="5.26" fill="#140b0d"/>
<rect x="555.60" y="753.86" width="5.20" height="5.26" fill="#130b0d"/>
<rect x="560.30" y="753.86" width="5.20" height="5.26" fill="#120a0c"/>
<rect x="565.00" y="753.86" width="5.20" height="5.26" fill="#110a0c"/>
<rect x="569.70" y="753.86" width="5.20" height="5.26" fill="#10090b"/>
<rect x="574.40" y="753.86" width="5.20" height="5.26" fill="#0f080a"/>
<rect x="579.10" y="753.86" width="5.20" height="5.26" fill="#0e080a"/>
<rect x="583.80" y="753.86" width="5.20" height="5.26" fill="#0d0709"/>
<rect x="588.50" y="753.86" width="5.20" height="5.26" fill="#0c0709"/>
<rect x="593.20" y="753.86" width="5.20" height="5.26" fill="#0b0709"/>
<rect x="597.90" y="753.86" width="5.20" height="5.26" fill="#0b0608"/>
<rect x="602.60" y="753.86" width="5.20" height="5.26" fill="#0a0608"/>
<rect x="419.30" y="758.63" width="5.20" height="5.26" fill="#0b0608"/>
<rect x="424.00" y="758.63" width="5.20" height="5.26" fill="#0b0709"/>
<rect x="428.70" y="758.63" width="5.20" height="5.26" fill="#0c0709"/>
<rect x="433.40" y="758.63" width="5.20" height="5.26" fill="#0d080a"/>
<rect x="438.10" y="758.63" width="5.20" height="5.26" fill="#0f090b"/>
<rect x="442.80" y="758.63" width="5.20" height="5.26" fill="#10090b"/>
<rect x="447.50" y="758.63" width="5.20" height="5.26" fill="#120a0d"/>
<rect x="452.20" y="758.63" width="5.20" height="5.26" fill="#140c0e"/>
<rect x="456.90" y="758.63" width="5.20" height="5.26" fill="#160d0f"/>
<rect x="461.60" y="758.63" width="5.20" height="5.26" fill="#180e10"/>
<rect x="466.30" y="758.63" width="5.20" height="5.26" fill="#1a0f11"/>
<rect x="471.00" y="758.63" width="5.20" height="5.26" fill="#1b1012"/>
<rect x="475.70" y="758.63" width="5.20" height="5.26" fill="#1b1012"/>
<rect x="480.40" y="758.63" width="5.20" height="5.26" fill="#1b1012"/>
<rect x="485.10" y="758.63" width="5.20" height="5.26" fill="#1a1012"/>
<rect x="489.80" y="758.63" width="5.20" height="5.26" fill="#1a1012"/>
<rect x="494.50" y="758.63" width="5.20" height="5.26" fill="#1a1112"/>
<rect x="499.20" y="758.63" width="5.20" height="5.26" fill="#191113"/>
<rect x="503.90" y="758.63" width="5.20" height="5.26" fill="#191113"/>
<rect x="508.60" y="758.63" width="5.20" height="5.26" fill="#181112"/>
<rect x="513.30" y="758.63" width="5.20" height="5.26" fill="#181112"/>
<rect x="518.00" y="758.63" width="5.20" height="5.26" fill="#191113"/>
<rect x="522.70" y="758.63" width="5.20" height="5.26" fill="#1a1112"/>
<rect x="527.40" y="758.63" width="5.20" height="5.26" fill="#1a1012"/>
<rect x="532.10" y="758.63" width="5.20" height="5.26" fill="#1a1012"/>
<rect x="536.80" y="758.63" width="5.20" height="5.26" fill="#1b1012"/>
<rect x="541.50" y="758.63" width="5.20" height="5.26" fill="#1b1012"/>
<rect x="546.20" y="758.63" width="5.20" height="5.26" fill="#1b1012"/>
<rect x="550.90" y="758.63" width="5.20" height="5.26" fill="#1b1011"/>
<rect x="555.60" y="758.63" width="5.20" height="5.26" fill="#190f11"/>
<rect x="560.30" y="758.63" width="5.20" height="5.26" fill="#180e0f"/>
<rect x="565.00" y="758.63" width="5.20" height="5.26" fill="#150c0e"/>
<rect x="569.70" y="758.63" width="5.20" height="5.26" fill="#130b0d"/>
<rect x="574.40" y="758.63" width="5.20" height="5.26" fill="#110a0c"/>
<rect x="579.10" y="758.63" width="5.20" height="5.26" fill="#10090b"/>
<rect x="583.80" y="758.63" width="5.20" height="5.26" fill="#0e080a"/>
<rect x="588.50" y="758.63" width="5.20" height="5.26" fill="#0d080a"/>
<rect x="593.20" y="758.63" width="5.20" height="5.26" fill="#0c0709"/>
<rect x="597.90" y="758.63" width="5.20" height="5.26" fill="#0b0709"/>
<rect x="602.60" y="758.63" width="5.20" height="5.26" fill="#0b0608"/>
<rect x="419.30" y="763.39" width="5.20" height="5.26" fill="#0b0709"/>
<rect x="424.00" y="763.39" width="5.20" height="5.26" fill="#0c0709"/>
<rect x="428.70" y="763.39" width="5.20" height="5.26" fill="#0e080a"/>
<rect x="433.40" y="763.39" width="5.20" height="5.26" fill="#0f090b"/>
<rect x="438.10" y="763.39" width="5.20" height="5.26" fill="#110a0c"/>
<rect x="442.80" y="763.39" width="5.20" height="5.26" fill="#140b0e"/>
<rect x="447.50" y="763.39" width="5.20" height="5.26" fill="#170e10"/>
<rect x="452.20" y="763.39" width="5.20" height="5.26" fill="#1b1114"/>
<rect x="456.90" y="763.39" width="5.20" height="5.26" fill="#1f1518"/>
<rect x="461.60" y="763.39" width="5.20" height="5.26" fill="#25191c"/>
<rect x="466.30" y="763.39" width="5.20" height="5.26" fill="#2a1e20"/>
<rect x="471.00" y="763.39" width="5.20" height="5.26" fill="#2d2122"/>
<rect x="475.70" y="763.39" width="5.20" height="5.26" fill="#2e2122"/>
<rect x="480.40" y="763.39" width="5.20" height="5.26" fill="#2d2021"/>
<rect x="485.10" y="763.39" width="5.20" height="5.26" fill="#2b1e20"/>
<rect x="489.80" y="763.39" width="5.20" height="5.26" fill="#291d1e"/>
<rect x="494.50" y="763.39" width="5.20" height="5.26" fill="#271c1d"/>
<rect x="499.20" y="763.39" width="5.20" height="5.26" fill="#271c1d"/>
<rect x="503.90" y="763.39" width="5.20" height="5.26" fill="#261d1e"/>
<rect x="508.60" y="763.39" width="5.20" height="5.26" fill="#251d1e"/>
<rect x="513.30" y="763.39" width="5.20" height="5.26" fill="#261d1e"/>
<rect x="518.00" y="763.39" width="5.20" height="5.26" fill="#271d1e"/>
<rect x="522.70" y="763.39" width="5.20" height="5.26" fill="#271c1d"/>
<rect x="527.40" y="763.39" width="5.20" height="5.26" fill="#281c1d"/>
<rect x="532.10" y="763.39" width="5.20" height="5.26" fill="#2a1d1e"/>
<rect x="536.80" y="763.39" width="5.20" height="5.26" fill="#2c1f20"/>
<rect x="541.50" y="763.39" width="5.20" height="5.26" fill="#2e2122"/>
<rect x="546.20" y="763.39" width="5.20" height="5.26" fill="#2f2122"/>
<rect x="550.90" y="763.39" width="5.20" height="5.26" fill="#2e2020"/>
<rect x="555.60" y="763.39" width="5.20" height="5.26" fill="#2a1d1c"/>
<rect x="560.30" y="763.39" width="5.20" height="5.26" fill="#251818"/>
<rect x="565.00" y="763.39" width="5.20" height="5.26" fill="#1f1313"/>
<rect x="569.70" y="763.39" width="5.20" height="5.26" fill="#1a0f10"/>
<rect x="574.40" y="763.39" width="5.20" height="5.26" fill="#160c0e"/>
<rect x="579.10" y="763.39" width="5.20" height="5.26" fill="#130b0d"/>
<rect x="583.80" y="763.39" width="5.20" height="5.26" fill="#10090b"/>
<rect x="588.50" y="763.39" width="5.20" height="5.26" fill="#0f080a"/>
<rect x="593.20" y="763.39" width="5.20" height="5.26" fill="#0d080a"/>
<rect x="597.90" y="763.39" width="5.20" height="5.26" fill="#0c0709"/>
<rect x="602.60" y="763.39" width="5.20" height="5.26" fill="#0b0709"/>
<rect x="419.30" y="768.15" width="5.20" height="5.26" fill="#0c0709"/>
<rect x="424.00" y="768.15" width="5.20" height="5.26" fill="#0d080a"/>
<rect x="428.70" y="768.15" width="5.20" height="5.26" fill="#0f090b"/>
<rect x="433.40" y="768.15" width="5.20" height="5.26" fill="#120a0c"/>
<rect x="438.10" y="768.15" width="5.20" height="5.26" fill="#150c0f"/>
<rect x="442.80" y="768.15" width="5.20" height="5.26" fill="#191013"/>
<rect x="447.50" y="768.15" width="5.20" height="5.26" fill="#20161a"/>
<rect x="452.20" y="768.15" width="5.20" height="5.26" fill="#2a2025"/>
<rect x="456.90" y="768.15" width="5.20" height="5.26" fill="#382d32"/>
<rect x="461.60" y="768.15" width="5.20" height="5.26" fill="#473b40"/>
<rect x="466.30" y="768.15" width="5.20" height="5.26" fill="#55484a"/>
<rect x="471.00" y="768.15" width="5.20" height="5.26" fill="#5f5151"/>
<rect x="475.70" y="768.15" width="5.20" height="5.26" fill="#625452"/>
<rect x="480.40" y="768.15" width="5.20" height="5.26" fill="#5e504f"/>
<rect x="485.10" y="768.15" width="5.20" height="5.26" fill="#564847"/>
<rect x="489.80" y="768.15" width="5.20" height="5.26" fill="#4c3e3e"/>
<rect x="494.50" y="768.15" width="5.20" height="5.26" fill="#433636"/>
<rect x="499.20" y="768.15" width="5.20" height="5.26" fill="#3d3131"/>
<rect x="503.90" y="768.15" width="5.20" height="5.26" fill="#3b3030"/>
<rect x="508.60" y="768.15" width="5.20" height="5.26" fill="#392f2f"/>
<rect x="513.30" y="768.15" width="5.20" height="5.26" fill="#3a2f2f"/>
<rect x="518.00" y="768.15" width="5.20" height="5.26" fill="#3c3030"/>
<rect x="522.70" y="768.15" width="5.20" height="5.26" fill="#3f3232"/>
<rect x="527.40" y="768.15" width="5.20" height="5.26" fill="#463838"/>
<rect x="532.10" y="768.15" width="5.20" height="5.26" fill="#504241"/>
<rect x="536.80" y="768.15" width="5.20" height="5.26" fill="#5a4c4b"/>
<rect x="541.50" y="768.15" width="5.20" height="5.26" fill="#605251"/>
<rect x="546.20" y="768.15" width="5.20" height="5.26" fill="#625452"/>
<rect x="550.90" y="768.15" width="5.20" height="5.26" fill="#60514c"/>
<rect x="555.60" y="768.15" width="5.20" height="5.26" fill="#584840"/>
<rect x="560.30" y="768.15" width="5.20" height="5.26" fill="#4b3b32"/>
<rect x="565.00" y="768.15" width="5.20" height="5.26" fill="#3b2c24"/>
<rect x="569.70" y="768.15" width="5.20" height="5.26" fill="#2b1d1a"/>
<rect x="574.40" y="768.15" width="5.20" height="5.26" fill="#1f1313"/>
<rect x="579.10" y="768.15" width="5.20" height="5.26" fill="#180e0f"/>
<rect x="583.80" y="768.15" width="5.20" height="5.26" fill="#130b0d"/>
<rect x="588.50" y="768.15" width="5.20" height="5.26" fill="#110a0c"/>
<rect x="593.20" y="768.15" width="5.20" height="5.26" fill="#0e080a"/>
<rect x="597.90" y="768.15" width="5.20" height="5.26" fill="#0d080a"/>
<rect x="602.60" y="768.15" width="5.20" height="5.26" fill="#0c0709"/>
<rect x="419.30" y="772.91" width="5.20" height="5.26" fill="#0d080a"/>
<rect x="424.00" y="772.91" width="5.20" height="5.26" fill="#0f090b"/>
<rect x="428.70" y="772.91" width="5.20" height="5.26" fill="#110a0c"/>
<rect x="433.40" y="772.91" width="5.20" height="5.26" fill="#150c0f"/>
<rect x="438.10" y="772.91" width="5.20" height="5.26" fill="#1a1115"/>
<rect x="442.80" y="772.91" width="5.20" height="5.26" fill="#241a20"/>
<rect x="447.50" y="772.91" width="5.20" height="5.26" fill="#342b34"/>
<rect x="452.20" y="772.91" width="5.20" height="5.26" fill="#4b424c"/>
<rect x="456.90" y="772.91" width="5.20" height="5.26" fill="#645c65"/>
<rect x="461.60" y="772.91" width="5.20" height="5.26" fill="#7e7479"/>
<rect x="466.30" y="772.91" width="5.20" height="5.26" fill="#928888"/>
<rect x="471.00" y="772.91" width="5.20" height="5.26" fill="#9f9390"/>
<rect x="475.70" y="772.91" width="5.20" height="5.26" fill="#a49792"/>
<rect x="480.40" y="772.91" width="5.20" height="5.26" fill="#a0938e"/>
<rect x="485.10" y="772.91" width="5.20" height="5.26" fill="#968985"/>
<rect x="489.80" y="772.91" width="5.20" height="5.26" fill="#867975"/>
<rect x="494.50" y="772.91" width="5.20" height="5.26" fill="#736563"/>
<rect x="499.20" y="772.91" width="5.20" height="5.26" fill="#625553"/>
<rect x="503.90" y="772.91" width="5.20" height="5.26" fill="#584b4a"/>
<rect x="508.60" y="772.91" width="5.20" height="5.26" fill="#534746"/>
<rect x="513.30" y="772.91" width="5.20" height="5.26" fill="#544847"/>
<rect x="518.00" y="772.91" width="5.20" height="5.26" fill="#5b4e4d"/>
<rect x="522.70" y="772.91" width="5.20" height="5.26" fill="#685a58"/>
<rect x="527.40" y="772.91" width="5.20" height="5.26" fill="#7a6d6a"/>
<rect x="532.10" y="772.91" width="5.20" height="5.26" fill="#8d807c"/>
<rect x="536.80" y="772.91" width="5.20" height="5.26" fill="#9b8e89"/>
<rect x="541.50" y="772.91" width="5.20" height="5.26" fill="#a29690"/>
<rect x="546.20" y="772.91" width="5.20" height="5.26" fill="#a49791"/>
<rect x="550.90" y="772.91" width="5.20" height="5.26" fill="#a29388"/>
<rect x="555.60" y="772.91" width="5.20" height="5.26" fill="#9a8976"/>
<rect x="560.30" y="772.91" width="5.20" height="5.26" fill="#8c7860"/>
<rect x="565.00" y="772.91" width="5.20" height="5.26" fill="#756148"/>
<rect x="569.70" y="772.91" width="5.20" height="5.26" fill="#564432"/>
<rect x="574.40" y="772.91" width="5.20" height="5.26" fill="#382820"/>
<rect x="579.10" y="772.91" width="5.20" height="5.26" fill="#231615"/>
<rect x="583.80" y="772.91" width="5.20" height="5.26" fill="#180e0f"/>
<rect x="588.50" y="772.91" width="5.20" height="5.26" fill="#130b0d"/>
<rect x="593.20" y="772.91" width="5.20" height="5.26" fill="#10090b"/>
<rect x="597.90" y="772.91" width="5.20" height="5.26" fill="#0e080a"/>
<rect x="602.60" y="772.91" width="5.20" height="5.26" fill="#0c0709"/>
<rect x="419.30" y="777.68" width="5.20" height="5.26" fill="#0e080a"/>
<rect x="424.00" y="777.68" width="5.20" height="5.26" fill="#110a0c"/>
<rect x="428.70" y="777.68" width="5.20" height="5.26" fill="#140c0e"/>
<rect x="433.40" y="777.68" width="5.20" height="5.26" fill="#1a1014"/>
<rect x="438.10" y="777.68" width="5.20" height="5.26" fill="#251b22"/>
<rect x="442.80" y="777.68" width="5.20" height="5.26" fill="#39313d"/>
<rect x="447.50" y="777.68" width="5.20" height="5.26" fill="#554f5f"/>
<rect x="452.20" y="777.68" width="5.20" height="5.26" fill="#736f7d"/>
<rect x="456.90" y="777.68" width="5.20" height="5.26" fill="#908a94"/>
<rect x="461.60" y="777.68" width="5.20" height="5.26" fill="#a39b9f"/>
<rect x="466.30" y="777.68" width="5.20" height="5.26" fill="#aba19f"/>
<rect x="471.00" y="777.68" width="5.20" height="5.26" fill="#b0a49f"/>
<rect x="475.70" y="777.68" width="5.20" height="5.26" fill="#b2a6a0"/>
<rect x="480.40" y="777.68" width="5.20" height="5.26" fill="#b2a6a0"/>
<rect x="485.10" y="777.68" width="5.20" height="5.26" fill="#b2a6a0"/>
<rect x="489.80" y="777.68" width="5.20" height="5.26" fill="#b0a49e"/>
<rect x="494.50" y="777.68" width="5.20" height="5.26" fill="#a39791"/>
<rect x="499.20" y="777.68" width="5.20" height="5.26" fill="#8e817d"/>
<rect x="503.90" y="777.68" width="5.20" height="5.26" fill="#7b6e6b"/>
<rect x="508.60" y="777.68" width="5.20" height="5.26" fill="#706461"/>
<rect x="513.30" y="777.68" width="5.20" height="5.26" fill="#736664"/>
<rect x="518.00" y="777.68" width="5.20" height="5.26" fill="#827471"/>
<rect x="522.70" y="777.68" width="5.20" height="5.26" fill="#978a85"/>
<rect x="527.40" y="777.68" width="5.20" height="5.26" fill="#a99d97"/>
<rect x="532.10" y="777.68" width="5.20" height="5.26" fill="#b2a6a0"/>
<rect x="536.80" y="777.68" width="5.20" height="5.26" fill="#b2a6a0"/>
<rect x="541.50" y="777.68" width="5.20" height="5.26" fill="#b2a6a0"/>
<rect x="546.20" y="777.68" width="5.20" height="5.26" fill="#b2a69f"/>
<rect x="550.90" y="777.68" width="5.20" height="5.26" fill="#b4a69a"/>
<rect x="555.60" y="777.68" width="5.20" height="5.26" fill="#b7a691"/>
<rect x="560.30" y="777.68" width="5.20" height="5.26" fill="#b8a482"/>
<rect x="565.00" y="777.68" width="5.20" height="5.26" fill="#ad966b"/>
<rect x="569.70" y="777.68" width="5.20" height="5.26" fill="#947b51"/>
<rect x="574.40" y="777.68" width="5.20" height="5.26" fill="#6a5538"/>
<rect x="579.10" y="777.68" width="5.20" height="5.26" fill="#3e2e22"/>
<rect x="583.80" y="777.68" width="5.20" height="5.26" fill="#231614"/>
<rect x="588.50" y="777.68" width="5.20" height="5.26" fill="#170e0f"/>
<rect x="593.20" y="777.68" width="5.20" height="5.26" fill="#130b0d"/>
<rect x="597.90" y="777.68" width="5.20" height="5.26" fill="#10090b"/>
<rect x="602.60" y="777.68" width="5.20" height="5.26" fill="#0d080a"/>
<rect x="419.30" y="782.44" width="5.20" height="5.26" fill="#0f090b"/>
<rect x="424.00" y="782.44" width="5.20" height="5.26" fill="#130b0d"/>
<rect x="428.70" y="782.44" width="5.20" height="5.26" fill="#180e12"/>
<rect x="433.40" y="782.44" width="5.20" height="5.26" fill="#22181f"/>
<rect x="438.10" y="782.44" width="5.20" height="5.26" fill="#362f3c"/>
<rect x="442.80" y="782.44" width="5.20" height="5.26" fill="#545064"/>
<rect x="447.50" y="782.44" width="5.20" height="5.26" fill="#737287"/>
<rect x="452.20" y="782.44" width="5.20" height="5.26" fill="#8f8c9c"/>
<rect x="456.90" y="782.44" width="5.20" height="5.26" fill="#9e989f"/>
<rect x="461.60" y="782.44" width="5.20" height="5.26" fill="#a89f9e"/>
<rect x="466.30" y="782.44" width="5.20" height="5.26" fill="#aea29b"/>
<rect x="471.00" y="782.44" width="5.20" height="5.26" fill="#b1a39a"/>
<rect x="475.70" y="782.44" width="5.20" height="5.26" fill="#b2a49a"/>
<rect x="480.40" y="782.44" width="5.20" height="5.26" fill="#b2a59c"/>
<rect x="485.10" y="782.44" width="5.20" height="5.26" fill="#b2a59e"/>
<rect x="489.80" y="782.44" width="5.20" height="5.26" fill="#b2a69f"/>
<rect x="494.50" y="782.44" width="5.20" height="5.26" fill="#b2a6a0"/>
<rect x="499.20" y="782.44" width="5.20" height="5.26" fill="#ada09b"/>
<rect x="503.90" y="782.44" width="5.20" height="5.26" fill="#9b8f8a"/>
<rect x="508.60" y="782.44" width="5.20" height="5.26" fill="#8e817d"/>
<rect x="513.30" y="782.44" width="5.20" height="5.26" fill="#918580"/>
<rect x="518.00" y="782.44" width="5.20" height="5.26" fill="#a29691"/>
<rect x="522.70" y="782.44" width="5.20" height="5.26" fill="#b1a59f"/>
<rect x="527.40" y="782.44" width="5.20" height="5.26" fill="#b2a69f"/>
<rect x="532.10" y="782.44" width="5.20" height="5.26" fill="#b2a59e"/>
<rect x="536.80" y="782.44" width="5.20" height="5.26" fill="#b2a49b"/>
<rect x="541.50" y="782.44" width="5.20" height="5.26" fill="#b2a499"/>
<rect x="546.20" y="782.44" width="5.20" height="5.26" fill="#b2a49a"/>
<rect x="550.90" y="782.44" width="5.20" height="5.26" fill="#b3a59a"/>
<rect x="555.60" y="782.44" width="5.20" height="5.26" fill="#b5a696"/>
<rect x="560.30" y="782.44" width="5.20" height="5.26" fill="#b9a78b"/>
<rect x="565.00" y="782.44" width="5.20" height="5.26" fill="#bea77a"/>
<rect x="569.70" y="782.44" width="5.20" height="5.26" fill="#bca064"/>
<rect x="574.40" y="782.44" width="5.20" height="5.26" fill="#a2864e"/>
<rect x="579.10" y="782.44" width="5.20" height="5.26" fill="#6d5736"/>
<rect x="583.80" y="782.44" width="5.20" height="5.26" fill="#39291f"/>
<rect x="588.50" y="782.44" width="5.20" height="5.26" fill="#1f1312"/>
<rect x="593.20" y="782.44" width="5.20" height="5.26" fill="#150c0e"/>
<rect x="597.90" y="782.44" width="5.20" height="5.26" fill="#110a0c"/>
<rect x="602.60" y="782.44" width="5.20" height="5.26" fill="#0e080a"/>
<rect x="419.30" y="787.20" width="5.20" height="5.26" fill="#110a0c"/>
<rect x="424.00" y="787.20" width="5.20" height="5.26" fill="#150c0f"/>
<rect x="428.70" y="787.20" width="5.20" height="5.26" fill="#1c1318"/>
<rect x="433.40" y="787.20" width="5.20" height="5.26" fill="#2d2530"/>
<rect x="438.10" y="787.20" width="5.20" height="5.26" fill="#4b475c"/>
<rect x="442.80" y="787.20" width="5.20" height="5.26" fill="#696a85"/>
<rect x="447.50" y="787.20" width="5.20" height="5.26" fill="#85859c"/>
<rect x="452.20" y="787.20" width="5.20" height="5.26" fill="#97939e"/>
<rect x="456.90" y="787.20" width="5.20" height="5.26" fill="#a69c9b"/>
<rect x="461.60" y="787.20" width="5.20" height="5.26" fill="#ae9e91"/>
<rect x="466.30" y="787.20" width="5.20" height="5.26" fill="#af9a84"/>
<rect x="471.00" y="787.20" width="5.20" height="5.26" fill="#a28a72"/>
<rect x="475.70" y="787.20" width="5.20" height="5.26" fill="#9a846f"/>
<rect x="480.40" y="787.20" width="5.20" height="5.26" fill="#a49080"/>
<rect x="485.10" y="787.20" width="5.20" height="5.26" fill="#b2a296"/>
<rect x="489.80" y="787.20" width="5.20" height="5.26" fill="#b2a59c"/>
<rect x="494.50" y="787.20" width="5.20" height="5.26" fill="#b2a69f"/>
<rect x="499.20" y="787.20" width="5.20" height="5.26" fill="#b2a6a0"/>
<rect x="503.90" y="787.20" width="5.20" height="5.26" fill="#aea29c"/>
<rect x="508.60" y="787.20" width="5.20" height="5.26" fill="#a49792"/>
<rect x="513.30" y="787.20" width="5.20" height="5.26" fill="#a79a95"/>
<rect x="518.00" y="787.20" width="5.20" height="5.26" fill="#b1a59f"/>
<rect x="522.70" y="787.20" width="5.20" height="5.26" fill="#b2a69f"/>
<rect x="527.40" y="787.20" width="5.20" height="5.26" fill="#b2a49a"/>
<rect x="532.10" y="787.20" width="5.20" height="5.26" fill="#b2a08f"/>
<rect x="536.80" y="787.20" width="5.20" height="5.26" fill="#af9982"/>
<rect x="541.50" y="787.20" width="5.20" height="5.26" fill="#a08971"/>
<rect x="546.20" y="787.20" width="5.20" height="5.26" fill="#9b8570"/>
<rect x="550.90" y="787.20" width="5.20" height="5.26" fill="#a69382"/>
<rect x="555.60" y="787.20" width="5.20" height="5.26" fill="#b3a395"/>
<rect x="560.30" y="787.20" width="5.20" height="5.26" fill="#b5a594"/>
<rect x="565.00" y="787.20" width="5.20" height="5.26" fill="#bba785"/>
<rect x="569.70" y="787.20" width="5.20" height="5.26" fill="#c3a86c"/>
<rect x="574.40" y="787.20" width="5.20" height="5.26" fill="#c1a156"/>
<rect x="579.10" y="787.20" width="5.20" height="5.26" fill="#9f8246"/>
<rect x="583.80" y="787.20" width="5.20" height="5.26" fill="#5e492e"/>
<rect x="588.50" y="787.20" width="5.20" height="5.26" fill="#2c1e18"/>
<rect x="593.20" y="787.20" width="5.20" height="5.26" fill="#190f10"/>
<rect x="597.90" y="787.20" width="5.20" height="5.26" fill="#130b0d"/>
<rect x="602.60" y="787.20" width="5.20" height="5.26" fill="#10090b"/>
<rect x="419.30" y="791.97" width="5.20" height="5.26" fill="#120a0d"/>
<rect x="424.00" y="791.97" width="5.20" height="5.26" fill="#170e11"/>
<rect x="428.70" y="791.97" width="5.20" height="5.26" fill="#221920"/>
<rect x="433.40" y="791.97" width="5.20" height="5.26" fill="#3b3646"/>
<rect x="438.10" y="791.97" width="5.20" height="5.26" fill="#5b5c77"/>
<rect x="442.80" y="791.97" width="5.20" height="5.26" fill="#757997"/>
<rect x="447.50" y="791.97" width="5.20" height="5.26" fill="#8c8b9e"/>
<rect x="452.20" y="791.97" width="5.20" height="5.26" fill="#a1989a"/>
<rect x="456.90" y="791.97" width="5.20" height="5.26" fill="#ad9a89"/>
<rect x="461.60" y="791.97" width="5.20" height="5.26" fill="#9e815f"/>
<rect x="466.30" y="791.97" width="5.20" height="5.26" fill="#805f3c"/>
<rect x="471.00" y="791.97" width="5.20" height="5.26" fill="#68492f"/>
<rect x="475.70" y="791.97" width="5.20" height="5.26" fill="#593d2b"/>
<rect x="480.40" y="791.97" width="5.20" height="5.26" fill="#594132"/>
<rect x="485.10" y="791.97" width="5.20" height="5.26" fill="#735e51"/>
<rect x="489.80" y="791.97" width="5.20" height="5.26" fill="#a5958a"/>
<rect x="494.50" y="791.97" width="5.20" height="5.26" fill="#b2a59d"/>
<rect x="499.20" y="791.97" width="5.20" height="5.26" fill="#b2a6a0"/>
<rect x="503.90" y="791.97" width="5.20" height="5.26" fill="#b2a6a0"/>
<rect x="508.60" y="791.97" width="5.20" height="5.26" fill="#aea29c"/>
<rect x="513.30" y="791.97" width="5.20" height="5.26" fill="#b0a49e"/>
<rect x="518.00" y="791.97" width="5.20" height="5.26" fill="#b2a69f"/>
<rect x="522.70" y="791.97" width="5.20" height="5.26" fill="#b2a499"/>
<rect x="527.40" y="791.97" width="5.20" height="5.26" fill="#b29c85"/>
<rect x="532.10" y="791.97" width="5.20" height="5.26" fill="#9e805c"/>
<rect x="536.80" y="791.97" width="5.20" height="5.26" fill="#815f3d"/>
<rect x="541.50" y="791.97" width="5.20" height="5.26" fill="#66482f"/>
<rect x="546.20" y="791.97" width="5.20" height="5.26" fill="#583d2b"/>
<rect x="550.90" y="791.97" width="5.20" height="5.26" fill="#573f31"/>
<rect x="555.60" y="791.97" width="5.20" height="5.26" fill="#715d50"/>
<rect x="560.30" y="791.97" width="5.20" height="5.26" fill="#a9998b"/>
<rect x="565.00" y="791.97" width="5.20" height="5.26" fill="#b6a690"/>
<rect x="569.70" y="791.97" width="5.20" height="5.26" fill="#bfa779"/>
<rect x="574.40" y="791.97" width="5.20" height="5.26" fill="#c9a85a"/>
<rect x="579.10" y="791.97" width="5.20" height="5.26" fill="#be9c4a"/>
<rect x="583.80" y="791.97" width="5.20" height="5.26" fill="#866c3b"/>
<rect x="588.50" y="791.97" width="5.20" height="5.26" fill="#402f21"/>
<rect x="593.20" y="791.97" width="5.20" height="5.26" fill="#1f1312"/>
<rect x="597.90" y="791.97" width="5.20" height="5.26" fill="#150c0e"/>
<rect x="602.60" y="791.97" width="5.20" height="5.26" fill="#110a0c"/>
<rect x="419.30" y="796.73" width="5.20" height="5.26" fill="#130b0d"/>
<rect x="424.00" y="796.73" width="5.20" height="5.26" fill="#1a1014"/>
<rect x="428.70" y="796.73" width="5.20" height="5.26" fill="#29212b"/>
<rect x="433.40" y="796.73" width="5.20" height="5.26" fill="#47455a"/>
<rect x="438.10" y="796.73" width="5.20" height="5.26" fill="#646889"/>
<rect x="442.80" y="796.73" width="5.20" height="5.26" fill="#7c809d"/>
<rect x="447.50" y="796.73" width="5.20" height="5.26" fill="#94909c"/>
<rect x="452.20" y="796.73" width="5.20" height="5.26" fill="#a9998e"/>
<rect x="456.90" y="796.73" width="5.20" height="5.26" fill="#a2825d"/>
<rect x="461.60" y="796.73" width="5.20" height="5.26" fill="#855f35"/>
<rect x="466.30" y="796.73" width="5.20" height="5.26" fill="#61412b"/>
<rect x="471.00" y="796.73" width="5.20" height="5.26" fill="#4d302b"/>
<rect x="475.70" y="796.73" width="5.20" height="5.26" fill="#472b2b"/>
<rect x="480.40" y="796.73" width="5.20" height="5.26" fill="#442b2b"/>
<rect x="485.10" y="796.73" width="5.20" height="5.26" fill="#4c3531"/>
<rect x="489.80" y="796.73" width="5.20" height="5.26" fill="#6f5c54"/>
<rect x="494.50" y="796.73" width="5.20" height="5.26" fill="#ab9d93"/>
<rect x="499.20" y="796.73" width="5.20" height="5.26" fill="#b2a59e"/>
<rect x="503.90" y="796.73" width="5.20" height="5.26" fill="#b2a6a0"/>
<rect x="508.60" y="796.73" width="5.20" height="5.26" fill="#b1a59f"/>
<rect x="513.30" y="796.73" width="5.20" height="5.26" fill="#b2a6a0"/>
<rect x="518.00" y="796.73" width="5.20" height="5.26" fill="#b2a59d"/>
<rect x="522.70" y="796.73" width="5.20" height="5.26" fill="#b29e8a"/>
<rect x="527.40" y="796.73" width="5.20" height="5.26" fill="#a58359"/>
<rect x="532.10" y="796.73" width="5.20" height="5.26" fill="#89643b"/>
<rect x="536.80" y="796.73" width="5.20" height="5.26" fill="#634331"/>
<rect x="541.50" y="796.73" width="5.20" height="5.26" fill="#4d302c"/>
<rect x="546.20" y="796.73" width="5.20" height="5.26" fill="#462a2b"/>
<rect x="550.90" y="796.73" width="5.20" height="5.26" fill="#402726"/>
<rect x="555.60" y="796.73" width="5.20" height="5.26" fill="#3f2925"/>
<rect x="560.30" y="796.73" width="5.20" height="5.26" fill="#635048"/>
<rect x="565.00" y="796.73" width="5.20" height="5.26" fill="#b0a092"/>
<rect x="569.70" y="796.73" width="5.20" height="5.26" fill="#baa686"/>
<rect x="574.40" y="796.73" width="5.20" height="5.26" fill="#c6a861"/>
<rect x="579.10" y="796.73" width="5.20" height="5.26" fill="#cba648"/>
<rect x="583.80" y="796.73" width="5.20" height="5.26" fill="#a58642"/>
<rect x="588.50" y="796.73" width="5.20" height="5.26" fill="#57432a"/>
<rect x="593.20" y="796.73" width="5.20" height="5.26" fill="#261915"/>
<rect x="597.90" y="796.73" width="5.20" height="5.26" fill="#170d0f"/>
<rect x="602.60" y="796.73" width="5.20" height="5.26" fill="#120a0c"/>
<rect x="419.30" y="801.49" width="5.20" height="5.26" fill="#140c0e"/>
<rect x="424.00" y="801.49" width="5.20" height="5.26" fill="#1c1217"/>
<rect x="428.70" y="801.49" width="5.20" height="5.26" fill="#2f2734"/>
<rect x="433.40" y="801.49" width="5.20" height="5.26" fill="#4f4f69"/>
<rect x="438.10" y="801.49" width="5.20" height="5.26" fill="#686e92"/>
<rect x="442.80" y="801.49" width="5.20" height="5.26" fill="#7f829e"/>
<rect x="447.50" y="801.49" width="5.20" height="5.26" fill="#9a9399"/>
<rect x="452.20" y="801.49" width="5.20" height="5.26" fill="#ad967c"/>
<rect x="456.90" y="801.49" width="5.20" height="5.26" fill="#966e3c"/>
<rect x="461.60" y="801.49" width="5.20" height="5.26" fill="#714d2e"/>
<rect x="466.30" y="801.49" width="5.20" height="5.26" fill="#50312f"/>
<rect x="471.00" y="801.49" width="5.20" height="5.26" fill="#513037"/>
<rect x="475.70" y="801.49" width="5.20" height="5.26" fill="#54313a"/>
<rect x="480.40" y="801.49" width="5.20" height="5.26" fill="#4f3037"/>
<rect x="485.10" y="801.49" width="5.20" height="5.26" fill="#4a3134"/>
<rect x="489.80" y="801.49" width="5.20" height="5.26" fill="#584340"/>
<rect x="494.50" y="801.49" width="5.20" height="5.26" fill="#908077"/>
<rect x="499.20" y="801.49" width="5.20" height="5.26" fill="#b2a59d"/>
<rect x="503.90" y="801.49" width="5.20" height="5.26" fill="#b2a6a0"/>
<rect x="508.60" y="801.49" width="5.20" height="5.26" fill="#b2a6a0"/>
<rect x="513.30" y="801.49" width="5.20" height="5.26" fill="#b2a69f"/>
<rect x="518.00" y="801.49" width="5.20" height="5.26" fill="#b2a398"/>
<rect x="522.70" y="801.49" width="5.20" height="5.26" fill="#b19574"/>
<rect x="527.40" y="801.49" width="5.20" height="5.26" fill="#9e7542"/>
<rect x="532.10" y="801.49" width="5.20" height="5.26" fill="#765339"/>
<rect x="536.80" y="801.49" width="5.20" height="5.26" fill="#553636"/>
<rect x="541.50" y="801.49" width="5.20" height="5.26" fill="#533139"/>
<rect x="546.20" y="801.49" width="5.20" height="5.26" fill="#54313a"/>
<rect x="550.90" y="801.49" width="5.20" height="5.26" fill="#4b2c33"/>
<rect x="555.60" y="801.49" width="5.20" height="5.26" fill="#3c2427"/>
<rect x="560.30" y="801.49" width="5.20" height="5.26" fill="#3e2a27"/>
<rect x="565.00" y="801.49" width="5.20" height="5.26" fill="#8a796f"/>
<rect x="569.70" y="801.49" width="5.20" height="5.26" fill="#b7a68d"/>
<rect x="574.40" y="801.49" width="5.20" height="5.26" fill="#c3a86a"/>
<rect x="579.10" y="801.49" width="5.20" height="5.26" fill="#cea847"/>
<rect x="583.80" y="801.49" width="5.20" height="5.26" fill="#b79543"/>
<rect x="588.50" y="801.49" width="5.20" height="5.26" fill="#6a5330"/>
<rect x="593.20" y="801.49" width="5.20" height="5.26" fill="#2d1e18"/>
<rect x="597.90" y="801.49" width="5.20" height="5.26" fill="#180e0f"/>
<rect x="602.60" y="801.49" width="5.20" height="5.26" fill="#120a0c"/>
<rect x="419.30" y="806.26" width="5.20" height="5.26" fill="#140c0e"/>
<rect x="424.00" y="806.26" width="5.20" height="5.26" fill="#1d1419"/>
<rect x="428.70" y="806.26" width="5.20" height="5.26" fill="#322b39"/>
<rect x="433.40" y="806.26" width="5.20" height="5.26" fill="#525470"/>
<rect x="438.10" y="806.26" width="5.20" height="5.26" fill="#6a7195"/>
<rect x="442.80" y="806.26" width="5.20" height="5.26" fill="#81849e"/>
<rect x="447.50" y="806.26" width="5.20" height="5.26" fill="#9e9596"/>
<rect x="452.20" y="806.26" width="5.20" height="5.26" fill="#ab8e6b"/>
<rect x="456.90" y="806.26" width="5.20" height="5.26" fill="#966b36"/>
<rect x="461.60" y="806.26" width="5.20" height="5.26" fill="#64412e"/>
<rect x="466.30" y="806.26" width="5.20" height="5.26" fill="#513035"/>
<rect x="471.00" y="806.26" width="5.20" height="5.26" fill="#5a353f"/>
<rect x="475.70" y="806.26" width="5.20" height="5.26" fill="#5c3640"/>
<rect x="480.40" y="806.26" width="5.20" height="5.26" fill="#5a353f"/>
<rect x="485.10" y="806.26" width="5.20" height="5.26" fill="#503339"/>
<rect x="489.80" y="806.26" width="5.20" height="5.26" fill="#543f3e"/>
<rect x="494.50" y="806.26" width="5.20" height="5.26" fill="#816f67"/>
<rect x="499.20" y="806.26" width="5.20" height="5.26" fill="#b2a49c"/>
<rect x="503.90" y="806.26" width="5.20" height="5.26" fill="#b2a69f"/>
<rect x="508.60" y="806.26" width="5.20" height="5.26" fill="#b2a6a0"/>
<rect x="513.30" y="806.26" width="5.20" height="5.26" fill="#b2a69f"/>
<rect x="518.00" y="806.26" width="5.20" height="5.26" fill="#b2a193"/>
<rect x="522.70" y="806.26" width="5.20" height="5.26" fill="#ae8d63"/>
<rect x="527.40" y="806.26" width="5.20" height="5.26" fill="#9b713d"/>
<rect x="532.10" y="806.26" width="5.20" height="5.26" fill="#6a493b"/>
<rect x="536.80" y="806.26" width="5.20" height="5.26" fill="#57353c"/>
<rect x="541.50" y="806.26" width="5.20" height="5.26" fill="#5c3640"/>
<rect x="546.20" y="806.26" width="5.20" height="5.26" fill="#5c3640"/>
<rect x="550.90" y="806.26" width="5.20" height="5.26" fill="#56333c"/>
<rect x="555.60" y="806.26" width="5.20" height="5.26" fill="#44282e"/>
<rect x="560.30" y="806.26" width="5.20" height="5.26" fill="#392423"/>
<rect x="565.00" y="806.26" width="5.20" height="5.26" fill="#705e55"/>
<rect x="569.70" y="806.26" width="5.20" height="5.26" fill="#b6a590"/>
<rect x="574.40" y="806.26" width="5.20" height="5.26" fill="#c2a770"/>
<rect x="579.10" y="806.26" width="5.20" height="5.26" fill="#cfa948"/>
<rect x="583.80" y="806.26" width="5.20" height="5.26" fill="#bf9b42"/>
<rect x="588.50" y="806.26" width="5.20" height="5.26" fill="#745c33"/>
<rect x="593.20" y="806.26" width="5.20" height="5.26" fill="#31221a"/>
<rect x="597.90" y="806.26" width="5.20" height="5.26" fill="#190f10"/>
<rect x="602.60" y="806.26" width="5.20" height="5.26" fill="#130b0d"/>
<rect x="419.30" y="811.02" width="5.20" height="5.26" fill="#140c0e"/>
<rect x="424.00" y="811.02" width="5.20" height="5.26" fill="#1d1419"/>
<rect x="428.70" y="811.02" width="5.20" height="5.26" fill="#322b39"/>
<rect x="433.40" y="811.02" width="5.20" height="5.26" fill="#525470"/>
<rect x="438.10" y="811.02" width="5.20" height="5.26" fill="#6a7195"/>
<rect x="442.80" y="811.02" width="5.20" height="5.26" fill="#81849e"/>
<rect x="447.50" y="811.02" width="5.20" height="5.26" fill="#9e9596"/>
<rect x="452.20" y="811.02" width="5.20" height="5.26" fill="#ab8e6a"/>
<rect x="456.90" y="811.02" width="5.20" height="5.26" fill="#996d36"/>
<rect x="461.60" y="811.02" width="5.20" height="5.26" fill="#66432f"/>
<rect x="466.30" y="811.02" width="5.20" height="5.26" fill="#513135"/>
<rect x="471.00" y="811.02" width="5.20" height="5.26" fill="#5a353f"/>
<rect x="475.70" y="811.02" width="5.20" height="5.26" fill="#5c3640"/>
<rect x="480.40" y="811.02" width="5.20" height="5.26" fill="#5a353f"/>
<rect x="485.10" y="811.02" width="5.20" height="5.26" fill="#513339"/>
<rect x="489.80" y="811.02" width="5.20" height="5.26" fill="#57403d"/>
<rect x="494.50" y="811.02" width="5.20" height="5.26" fill="#827066"/>
<rect x="499.20" y="811.02" width="5.20" height="5.26" fill="#b2a49b"/>
<rect x="503.90" y="811.02" width="5.20" height="5.26" fill="#b2a69f"/>
<rect x="508.60" y="811.02" width="5.20" height="5.26" fill="#b2a6a0"/>
<rect x="513.30" y="811.02" width="5.20" height="5.26" fill="#b2a69f"/>
<rect x="518.00" y="811.02" width="5.20" height="5.26" fill="#b2a193"/>
<rect x="522.70" y="811.02" width="5.20" height="5.26" fill="#ae8d62"/>
<rect x="527.40" y="811.02" width="5.20" height="5.26" fill="#9e723d"/>
<rect x="532.10" y="811.02" width="5.20" height="5.26" fill="#6c4a3b"/>
<rect x="536.80" y="811.02" width="5.20" height="5.26" fill="#57363c"/>
<rect x="541.50" y="811.02" width="5.20" height="5.26" fill="#5c3640"/>
<rect x="546.20" y="811.02" width="5.20" height="5.26" fill="#5c3640"/>
<rect x="550.90" y="811.02" width="5.20" height="5.26" fill="#56333c"/>
<rect x="555.60" y="811.02" width="5.20" height="5.26" fill="#45292e"/>
<rect x="560.30" y="811.02" width="5.20" height="5.26" fill="#3c2623"/>
<rect x="565.00" y="811.02" width="5.20" height="5.26" fill="#725f54"/>
<rect x="569.70" y="811.02" width="5.20" height="5.26" fill="#b6a58f"/>
<rect x="574.40" y="811.02" width="5.20" height="5.26" fill="#c2a770"/>
<rect x="579.10" y="811.02" width="5.20" height="5.26" fill="#cfa948"/>
<rect x="583.80" y="811.02" width="5.20" height="5.26" fill="#bf9b42"/>
<rect x="588.50" y="811.02" width="5.20" height="5.26" fill="#745c33"/>
<rect x="593.20" y="811.02" width="5.20" height="5.26" fill="#31221a"/>
<rect x="597.90" y="811.02" width="5.20" height="5.26" fill="#190f10"/>
<rect x="602.60" y="811.02" width="5.20" height="5.26" fill="#130b0d"/>
<rect x="419.30" y="815.78" width="5.20" height="5.26" fill="#140c0e"/>
<rect x="424.00" y="815.78" width="5.20" height="5.26" fill="#1c1217"/>
<rect x="428.70" y="815.78" width="5.20" height="5.26" fill="#2f2733"/>
<rect x="433.40" y="815.78" width="5.20" height="5.26" fill="#4f4f69"/>
<rect x="438.10" y="815.78" width="5.20" height="5.26" fill="#686e92"/>
<rect x="442.80" y="815.78" width="5.20" height="5.26" fill="#7f829e"/>
<rect x="447.50" y="815.78" width="5.20" height="5.26" fill="#9a9399"/>
<rect x="452.20" y="815.78" width="5.20" height="5.26" fill="#ae9579"/>
<rect x="456.90" y="815.78" width="5.20" height="5.26" fill="#9d723b"/>
<rect x="461.60" y="815.78" width="5.20" height="5.26" fill="#7b5430"/>
<rect x="466.30" y="815.78" width="5.20" height="5.26" fill="#533430"/>
<rect x="471.00" y="815.78" width="5.20" height="5.26" fill="#523137"/>
<rect x="475.70" y="815.78" width="5.20" height="5.26" fill="#54323a"/>
<rect x="480.40" y="815.78" width="5.20" height="5.26" fill="#513037"/>
<rect x="485.10" y="815.78" width="5.20" height="5.26" fill="#4f3435"/>
<rect x="489.80" y="815.78" width="5.20" height="5.26" fill="#60493f"/>
<rect x="494.50" y="815.78" width="5.20" height="5.26" fill="#938072"/>
<rect x="499.20" y="815.78" width="5.20" height="5.26" fill="#b2a49b"/>
<rect x="503.90" y="815.78" width="5.20" height="5.26" fill="#b2a69f"/>
<rect x="508.60" y="815.78" width="5.20" height="5.26" fill="#b2a6a0"/>
<rect x="513.30" y="815.78" width="5.20" height="5.26" fill="#b2a69f"/>
<rect x="518.00" y="815.78" width="5.20" height="5.26" fill="#b2a397"/>
<rect x="522.70" y="815.78" width="5.20" height="5.26" fill="#b19471"/>
<rect x="527.40" y="815.78" width="5.20" height="5.26" fill="#a3773e"/>
<rect x="532.10" y="815.78" width="5.20" height="5.26" fill="#7d5839"/>
<rect x="536.80" y="815.78" width="5.20" height="5.26" fill="#573836"/>
<rect x="541.50" y="815.78" width="5.20" height="5.26" fill="#543239"/>
<rect x="546.20" y="815.78" width="5.20" height="5.26" fill="#54323a"/>
<rect x="550.90" y="815.78" width="5.20" height="5.26" fill="#4d2d34"/>
<rect x="555.60" y="815.78" width="5.20" height="5.26" fill="#422828"/>
<rect x="560.30" y="815.78" width="5.20" height="5.26" fill="#493229"/>
<rect x="565.00" y="815.78" width="5.20" height="5.26" fill="#8d7a6b"/>
<rect x="569.70" y="815.78" width="5.20" height="5.26" fill="#b7a58c"/>
<rect x="574.40" y="815.78" width="5.20" height="5.26" fill="#c3a86a"/>
<rect x="579.10" y="815.78" width="5.20" height="5.26" fill="#cea847"/>
<rect x="583.80" y="815.78" width="5.20" height="5.26" fill="#b79543"/>
<rect x="588.50" y="815.78" width="5.20" height="5.26" fill="#6a5330"/>
<rect x="593.20" y="815.78" width="5.20" height="5.26" fill="#2c1e18"/>
<rect x="597.90" y="815.78" width="5.20" height="5.26" fill="#180e0f"/>
<rect x="602.60" y="815.78" width="5.20" height="5.26" fill="#120a0c"/>
<rect x="419.30" y="820.54" width="5.20" height="5.26" fill="#130b0d"/>
<rect x="424.00" y="820.54" width="5.20" height="5.26" fill="#1a1014"/>
<rect x="428.70" y="820.54" width="5.20" height="5.26" fill="#29212b"/>
<rect x="433.40" y="820.54" width="5.20" height="5.26" fill="#48455a"/>
<rect x="438.10" y="820.54" width="5.20" height="5.26" fill="#646888"/>
<rect x="442.80" y="820.54" width="5.20" height="5.26" fill="#7b7f9b"/>
<rect x="447.50" y="820.54" width="5.20" height="5.26" fill="#938e99"/>
<rect x="452.20" y="820.54" width="5.20" height="5.26" fill="#a89787"/>
<rect x="456.90" y="820.54" width="5.20" height="5.26" fill="#a58255"/>
<rect x="461.60" y="820.54" width="5.20" height="5.26" fill="#966a35"/>
<rect x="466.30" y="820.54" width="5.20" height="5.26" fill="#714c2f"/>
<rect x="471.00" y="820.54" width="5.20" height="5.26" fill="#56372d"/>
<rect x="475.70" y="820.54" width="5.20" height="5.26" fill="#4e312d"/>
<rect x="480.40" y="820.54" width="5.20" height="5.26" fill="#4f332d"/>
<rect x="485.10" y="820.54" width="5.20" height="5.26" fill="#5b4032"/>
<rect x="489.80" y="820.54" width="5.20" height="5.26" fill="#7b624f"/>
<rect x="494.50" y="820.54" width="5.20" height="5.26" fill="#ac9988"/>
<rect x="499.20" y="820.54" width="5.20" height="5.26" fill="#b1a398"/>
<rect x="503.90" y="820.54" width="5.20" height="5.26" fill="#b1a49a"/>
<rect x="508.60" y="820.54" width="5.20" height="5.26" fill="#b1a39a"/>
<rect x="513.30" y="820.54" width="5.20" height="5.26" fill="#b1a49b"/>
<rect x="518.00" y="820.54" width="5.20" height="5.26" fill="#b1a397"/>
<rect x="522.70" y="820.54" width="5.20" height="5.26" fill="#b29b82"/>
<rect x="527.40" y="820.54" width="5.20" height="5.26" fill="#a88251"/>
<rect x="532.10" y="820.54" width="5.20" height="5.26" fill="#986d39"/>
<rect x="536.80" y="820.54" width="5.20" height="5.26" fill="#714d33"/>
<rect x="541.50" y="820.54" width="5.20" height="5.26" fill="#56372e"/>
<rect x="546.20" y="820.54" width="5.20" height="5.26" fill="#4e302d"/>
<rect x="550.90" y="820.54" width="5.20" height="5.26" fill="#4c3029"/>
<rect x="555.60" y="820.54" width="5.20" height="5.26" fill="#513628"/>
<rect x="560.30" y="820.54" width="5.20" height="5.26" fill="#705845"/>
<rect x="565.00" y="820.54" width="5.20" height="5.26" fill="#b09d88"/>
<rect x="569.70" y="820.54" width="5.20" height="5.26" fill="#b9a481"/>
<rect x="574.40" y="820.54" width="5.20" height="5.26" fill="#c6a75f"/>
<rect x="579.10" y="820.54" width="5.20" height="5.26" fill="#caa547"/>
<rect x="583.80" y="820.54" width="5.20" height="5.26" fill="#a68641"/>
<rect x="588.50" y="820.54" width="5.20" height="5.26" fill="#58432a"/>
<rect x="593.20" y="820.54" width="5.20" height="5.26" fill="#261915"/>
<rect x="597.90" y="820.54" width="5.20" height="5.26" fill="#170d0f"/>
<rect x="602.60" y="820.54" width="5.20" height="5.26" fill="#120a0c"/>
<rect x="419.30" y="825.31" width="5.20" height="5.26" fill="#120a0d"/>
<rect x="424.00" y="825.31" width="5.20" height="5.26" fill="#170e11"/>
<rect x="428.70" y="825.31" width="5.20" height="5.26" fill="#231a20"/>
<rect x="433.40" y="825.31" width="5.20" height="5.26" fill="#3c3746"/>
<rect x="438.10" y="825.31" width="5.20" height="5.26" fill="#5c5d76"/>
<rect x="442.80" y="825.31" width="5.20" height="5.26" fill="#757892"/>
<rect x="447.50" y="825.31" width="5.20" height="5.26" fill="#8b8897"/>
<rect x="452.20" y="825.31" width="5.20" height="5.26" fill="#9f9490"/>
<rect x="456.90" y="825.31" width="5.20" height="5.26" fill="#ac957b"/>
<rect x="461.60" y="825.31" width="5.20" height="5.26" fill="#a48053"/>
<rect x="466.30" y="825.31" width="5.20" height="5.26" fill="#946b39"/>
<rect x="471.00" y="825.31" width="5.20" height="5.26" fill="#815b32"/>
<rect x="475.70" y="825.31" width="5.20" height="5.26" fill="#73502f"/>
<rect x="480.40" y="825.31" width="5.20" height="5.26" fill="#725234"/>
<rect x="485.10" y="825.31" width="5.20" height="5.26" fill="#83674b"/>
<rect x="489.80" y="825.31" width="5.20" height="5.26" fill="#a79078"/>
<rect x="494.50" y="825.31" width="5.20" height="5.26" fill="#b09f8e"/>
<rect x="499.20" y="825.31" width="5.20" height="5.26" fill="#b0a193"/>
<rect x="503.90" y="825.31" width="5.20" height="5.26" fill="#b0a194"/>
<rect x="508.60" y="825.31" width="5.20" height="5.26" fill="#ad9e91"/>
<rect x="513.30" y="825.31" width="5.20" height="5.26" fill="#ae9f93"/>
<rect x="518.00" y="825.31" width="5.20" height="5.26" fill="#b0a194"/>
<rect x="522.70" y="825.31" width="5.20" height="5.26" fill="#b09f8d"/>
<rect x="527.40" y="825.31" width="5.20" height="5.26" fill="#b19777"/>
<rect x="532.10" y="825.31" width="5.20" height="5.26" fill="#a57f50"/>
<rect x="536.80" y="825.31" width="5.20" height="5.26" fill="#946c3a"/>
<rect x="541.50" y="825.31" width="5.20" height="5.26" fill="#7f5a32"/>
<rect x="546.20" y="825.31" width="5.20" height="5.26" fill="#724f2f"/>
<rect x="550.90" y="825.31" width="5.20" height="5.26" fill="#705033"/>
<rect x="555.60" y="825.31" width="5.20" height="5.26" fill="#81654a"/>
<rect x="560.30" y="825.31" width="5.20" height="5.26" fill="#aa947a"/>
<rect x="565.00" y="825.31" width="5.20" height="5.26" fill="#b4a084"/>
<rect x="569.70" y="825.31" width="5.20" height="5.26" fill="#bda471"/>
<rect x="574.40" y="825.31" width="5.20" height="5.26" fill="#c8a655"/>
<rect x="579.10" y="825.31" width="5.20" height="5.26" fill="#be9b48"/>
<rect x="583.80" y="825.31" width="5.20" height="5.26" fill="#886d3b"/>
<rect x="588.50" y="825.31" width="5.20" height="5.26" fill="#413021"/>
<rect x="593.20" y="825.31" width="5.20" height="5.26" fill="#1f1312"/>
<rect x="597.90" y="825.31" width="5.20" height="5.26" fill="#150c0e"/>
<rect x="602.60" y="825.31" width="5.20" height="5.26" fill="#110a0c"/>
<rect x="419.30" y="830.07" width="5.20" height="5.26" fill="#110a0c"/>
<rect x="424.00" y="830.07" width="5.20" height="5.26" fill="#150c0f"/>
<rect x="428.70" y="830.07" width="5.20" height="5.26" fill="#1d1318"/>
<rect x="433.40" y="830.07" width="5.20" height="5.26" fill="#2f2630"/>
<rect x="438.10" y="830.07" width="5.20" height="5.26" fill="#4d495b"/>
<rect x="442.80" y="830.07" width="5.20" height="5.26" fill="#6b6b81"/>
<rect x="447.50" y="830.07" width="5.20" height="5.26" fill="#838192"/>
<rect x="452.20" y="830.07" width="5.20" height="5.26" fill="#958d91"/>
<rect x="456.90" y="830.07" width="5.20" height="5.26" fill="#a4958a"/>
<rect x="461.60" y="830.07" width="5.20" height="5.26" fill="#ac967e"/>
<rect x="466.30" y="830.07" width="5.20" height="5.26" fill="#ae926e"/>
<rect x="471.00" y="830.07" width="5.20" height="5.26" fill="#a6875f"/>
<rect x="475.70" y="830.07" width="5.20" height="5.26" fill="#a1835d"/>
<rect x="480.40" y="830.07" width="5.20" height="5.26" fill="#a78b6a"/>
<rect x="485.10" y="830.07" width="5.20" height="5.26" fill="#af997e"/>
<rect x="489.80" y="830.07" width="5.20" height="5.26" fill="#af9c88"/>
<rect x="494.50" y="830.07" width="5.20" height="5.26" fill="#af9e8d"/>
<rect x="499.20" y="830.07" width="5.20" height="5.26" fill="#af9e8e"/>
<rect x="503.90" y="830.07" width="5.20" height="5.26" fill="#ab9b8b"/>
<rect x="508.60" y="830.07" width="5.20" height="5.26" fill="#a39384"/>
<rect x="513.30" y="830.07" width="5.20" height="5.26" fill="#a69586"/>
<rect x="518.00" y="830.07" width="5.20" height="5.26" fill="#ae9e8d"/>
<rect x="522.70" y="830.07" width="5.20" height="5.26" fill="#af9e8d"/>
<rect x="527.40" y="830.07" width="5.20" height="5.26" fill="#af9c88"/>
<rect x="532.10" y="830.07" width="5.20" height="5.26" fill="#b0987b"/>
<rect x="536.80" y="830.07" width="5.20" height="5.26" fill="#ae916c"/>
<rect x="541.50" y="830.07" width="5.20" height="5.26" fill="#a5865e"/>
<rect x="546.20" y="830.07" width="5.20" height="5.26" fill="#a1835e"/>
<rect x="550.90" y="830.07" width="5.20" height="5.26" fill="#a88d6d"/>
<rect x="555.60" y="830.07" width="5.20" height="5.26" fill="#b09a7d"/>
<rect x="560.30" y="830.07" width="5.20" height="5.26" fill="#b29e81"/>
<rect x="565.00" y="830.07" width="5.20" height="5.26" fill="#b8a177"/>
<rect x="569.70" y="830.07" width="5.20" height="5.26" fill="#c1a462"/>
<rect x="574.40" y="830.07" width="5.20" height="5.26" fill="#c19f50"/>
<rect x="579.10" y="830.07" width="5.20" height="5.26" fill="#a18344"/>
<rect x="583.80" y="830.07" width="5.20" height="5.26" fill="#604b2e"/>
<rect x="588.50" y="830.07" width="5.20" height="5.26" fill="#2d1f19"/>
<rect x="593.20" y="830.07" width="5.20" height="5.26" fill="#190f10"/>
<rect x="597.90" y="830.07" width="5.20" height="5.26" fill="#130b0d"/>
<rect x="602.60" y="830.07" width="5.20" height="5.26" fill="#10090b"/>
<rect x="419.30" y="834.83" width="5.20" height="5.26" fill="#0f090b"/>
<rect x="424.00" y="834.83" width="5.20" height="5.26" fill="#130b0d"/>
<rect x="428.70" y="834.83" width="5.20" height="5.26" fill="#180f12"/>
<rect x="433.40" y="834.83" width="5.20" height="5.26" fill="#22191f"/>
<rect x="438.10" y="834.83" width="5.20" height="5.26" fill="#39313c"/>
<rect x="442.80" y="834.83" width="5.20" height="5.26" fill="#585363"/>
<rect x="447.50" y="834.83" width="5.20" height="5.26" fill="#75717f"/>
<rect x="452.20" y="834.83" width="5.20" height="5.26" fill="#8c868c"/>
<rect x="456.90" y="834.83" width="5.20" height="5.26" fill="#9b908b"/>
<rect x="461.60" y="834.83" width="5.20" height="5.26" fill="#a59588"/>
<rect x="466.30" y="834.83" width="5.20" height="5.26" fill="#aa9883"/>
<rect x="471.00" y="834.83" width="5.20" height="5.26" fill="#ad9980"/>
<rect x="475.70" y="834.83" width="5.20" height="5.26" fill="#ae9980"/>
<rect x="480.40" y="834.83" width="5.20" height="5.26" fill="#ae9a82"/>
<rect x="485.10" y="834.83" width="5.20" height="5.26" fill="#ae9b85"/>
<rect x="489.80" y="834.83" width="5.20" height="5.26" fill="#ae9c87"/>
<rect x="494.50" y="834.83" width="5.20" height="5.26" fill="#ae9c88"/>
<rect x="499.20" y="834.83" width="5.20" height="5.26" fill="#aa9885"/>
<rect x="503.90" y="834.83" width="5.20" height="5.26" fill="#9c8b7a"/>
<rect x="508.60" y="834.83" width="5.20" height="5.26" fill="#918071"/>
<rect x="513.30" y="834.83" width="5.20" height="5.26" fill="#948373"/>
<rect x="518.00" y="834.83" width="5.20" height="5.26" fill="#a2907e"/>
<rect x="522.70" y="834.83" width="5.20" height="5.26" fill="#ad9b87"/>
<rect x="527.40" y="834.83" width="5.20" height="5.26" fill="#ae9c87"/>
<rect x="532.10" y="834.83" width="5.20" height="5.26" fill="#ae9b85"/>
<rect x="536.80" y="834.83" width="5.20" height="5.26" fill="#ae9a82"/>
<rect x="541.50" y="834.83" width="5.20" height="5.26" fill="#ae9980"/>
<rect x="546.20" y="834.83" width="5.20" height="5.26" fill="#ae9980"/>
<rect x="550.90" y="834.83" width="5.20" height="5.26" fill="#af9a81"/>
<rect x="555.60" y="834.83" width="5.20" height="5.26" fill="#b19c7f"/>
<rect x="560.30" y="834.83" width="5.20" height="5.26" fill="#b59e77"/>
<rect x="565.00" y="834.83" width="5.20" height="5.26" fill="#bca069"/>
<rect x="569.70" y="834.83" width="5.20" height="5.26" fill="#bb9c59"/>
<rect x="574.40" y="834.83" width="5.20" height="5.26" fill="#a5874a"/>
<rect x="579.10" y="834.83" width="5.20" height="5.26" fill="#715a36"/>
<rect x="583.80" y="834.83" width="5.20" height="5.26" fill="#3b2b1f"/>
<rect x="588.50" y="834.83" width="5.20" height="5.26" fill="#1f1313"/>
<rect x="593.20" y="834.83" width="5.20" height="5.26" fill="#150c0e"/>
<rect x="597.90" y="834.83" width="5.20" height="5.26" fill="#110a0c"/>
<rect x="602.60" y="834.83" width="5.20" height="5.26" fill="#0e080a"/>
<rect x="419.30" y="839.60" width="5.20" height="5.26" fill="#0e080a"/>
<rect x="424.00" y="839.60" width="5.20" height="5.26" fill="#110a0c"/>
<rect x="428.70" y="839.60" width="5.20" height="5.26" fill="#140c0e"/>
<rect x="433.40" y="839.60" width="5.20" height="5.26" fill="#1a1114"/>
<rect x="438.10" y="839.60" width="5.20" height="5.26" fill="#261d23"/>
<rect x="442.80" y="839.60" width="5.20" height="5.26" fill="#3d343d"/>
<rect x="447.50" y="839.60" width="5.20" height="5.26" fill="#5a535d"/>
<rect x="452.20" y="839.60" width="5.20" height="5.26" fill="#776f75"/>
<rect x="456.90" y="839.60" width="5.20" height="5.26" fill="#8f8481"/>
<rect x="461.60" y="839.60" width="5.20" height="5.26" fill="#9e9084"/>
<rect x="466.30" y="839.60" width="5.20" height="5.26" fill="#a69583"/>
<rect x="471.00" y="839.60" width="5.20" height="5.26" fill="#ab9881"/>
<rect x="475.70" y="839.60" width="5.20" height="5.26" fill="#ad9981"/>
<rect x="480.40" y="839.60" width="5.20" height="5.26" fill="#ad9981"/>
<rect x="485.10" y="839.60" width="5.20" height="5.26" fill="#ac9981"/>
<rect x="489.80" y="839.60" width="5.20" height="5.26" fill="#ab9880"/>
<rect x="494.50" y="839.60" width="5.20" height="5.26" fill="#a28f7a"/>
<rect x="499.20" y="839.60" width="5.20" height="5.26" fill="#92806e"/>
<rect x="503.90" y="839.60" width="5.20" height="5.26" fill="#827062"/>
<rect x="508.60" y="839.60" width="5.20" height="5.26" fill="#78685b"/>
<rect x="513.30" y="839.60" width="5.20" height="5.26" fill="#7b6a5d"/>
<rect x="518.00" y="839.60" width="5.20" height="5.26" fill="#877666"/>
<rect x="522.70" y="839.60" width="5.20" height="5.26" fill="#998673"/>
<rect x="527.40" y="839.60" width="5.20" height="5.26" fill="#a7937d"/>
<rect x="532.10" y="839.60" width="5.20" height="5.26" fill="#ac9981"/>
<rect x="536.80" y="839.60" width="5.20" height="5.26" fill="#ad9981"/>
<rect x="541.50" y="839.60" width="5.20" height="5.26" fill="#ad9981"/>
<rect x="546.20" y="839.60" width="5.20" height="5.26" fill="#ad9980"/>
<rect x="550.90" y="839.60" width="5.20" height="5.26" fill="#af9a7d"/>
<rect x="555.60" y="839.60" width="5.20" height="5.26" fill="#b29b77"/>
<rect x="560.30" y="839.60" width="5.20" height="5.26" fill="#b49b6c"/>
<rect x="565.00" y="839.60" width="5.20" height="5.26" fill="#ae935d"/>
<rect x="569.70" y="839.60" width="5.20" height="5.26" fill="#987e4d"/>
<rect x="574.40" y="839.60" width="5.20" height="5.26" fill="#6f5938"/>
<rect x="579.10" y="839.60" width="5.20" height="5.26" fill="#413022"/>
<rect x="583.80" y="839.60" width="5.20" height="5.26" fill="#241715"/>
<rect x="588.50" y="839.60" width="5.20" height="5.26" fill="#180e0f"/>
<rect x="593.20" y="839.60" width="5.20" height="5.26" fill="#130b0d"/>
<rect x="597.90" y="839.60" width="5.20" height="5.26" fill="#10090b"/>
<rect x="602.60" y="839.60" width="5.20" height="5.26" fill="#0d080a"/>
<rect x="419.30" y="844.36" width="5.20" height="5.26" fill="#0d080a"/>
<rect x="424.00" y="844.36" width="5.20" height="5.26" fill="#0f090b"/>
<rect x="428.70" y="844.36" width="5.20" height="5.26" fill="#110a0c"/>
<rect x="433.40" y="844.36" width="5.20" height="5.26" fill="#150c0f"/>
<rect x="438.10" y="844.36" width="5.20" height="5.26" fill="#1b1115"/>
<rect x="442.80" y="844.36" width="5.20" height="5.26" fill="#261c21"/>
<rect x="447.50" y="844.36" width="5.20" height="5.26" fill="#392f35"/>
<rect x="452.20" y="844.36" width="5.20" height="5.26" fill="#52474c"/>
<rect x="456.90" y="844.36" width="5.20" height="5.26" fill="#6c6060"/>
<rect x="461.60" y="844.36" width="5.20" height="5.26" fill="#83756d"/>
<rect x="466.30" y="844.36" width="5.20" height="5.26" fill="#948373"/>
<rect x="471.00" y="844.36" width="5.20" height="5.26" fill="#9f8b75"/>
<rect x="475.70" y="844.36" width="5.20" height="5.26" fill="#a28e75"/>
<rect x="480.40" y="844.36" width="5.20" height="5.26" fill="#a08c74"/>
<rect x="485.10" y="844.36" width="5.20" height="5.26" fill="#99856f"/>
<rect x="489.80" y="844.36" width="5.20" height="5.26" fill="#8c7966"/>
<rect x="494.50" y="844.36" width="5.20" height="5.26" fill="#7c695a"/>
<rect x="499.20" y="844.36" width="5.20" height="5.26" fill="#6c5b4f"/>
<rect x="503.90" y="844.36" width="5.20" height="5.26" fill="#625248"/>
<rect x="508.60" y="844.36" width="5.20" height="5.26" fill="#5d4e45"/>
<rect x="513.30" y="844.36" width="5.20" height="5.26" fill="#5f4f45"/>
<rect x="518.00" y="844.36" width="5.20" height="5.26" fill="#65554a"/>
<rect x="522.70" y="844.36" width="5.20" height="5.26" fill="#716053"/>
<rect x="527.40" y="844.36" width="5.20" height="5.26" fill="#82705f"/>
<rect x="532.10" y="844.36" width="5.20" height="5.26" fill="#927e6a"/>
<rect x="536.80" y="844.36" width="5.20" height="5.26" fill="#9c8871"/>
<rect x="541.50" y="844.36" width="5.20" height="5.26" fill="#a18d75"/>
<rect x="546.20" y="844.36" width="5.20" height="5.26" fill="#a28e75"/>
<rect x="550.90" y="844.36" width="5.20" height="5.26" fill="#a28c6f"/>
<rect x="555.60" y="844.36" width="5.20" height="5.26" fill="#9d8765"/>
<rect x="560.30" y="844.36" width="5.20" height="5.26" fill="#927b57"/>
<rect x="565.00" y="844.36" width="5.20" height="5.26" fill="#7c6646"/>
<rect x="569.70" y="844.36" width="5.20" height="5.26" fill="#5c4832"/>
<rect x="574.40" y="844.36" width="5.20" height="5.26" fill="#3b2b20"/>
<rect x="579.10" y="844.36" width="5.20" height="5.26" fill="#241715"/>
<rect x="583.80" y="844.36" width="5.20" height="5.26" fill="#190e10"/>
<rect x="588.50" y="844.36" width="5.20" height="5.26" fill="#130b0d"/>
<rect x="593.20" y="844.36" width="5.20" height="5.26" fill="#10090b"/>
<rect x="597.90" y="844.36" width="5.20" height="5.26" fill="#0e080a"/>
<rect x="602.60" y="844.36" width="5.20" height="5.26" fill="#0c0709"/>
<rect x="419.30" y="849.12" width="5.20" height="5.26" fill="#0c0709"/>
<rect x="424.00" y="849.12" width="5.20" height="5.26" fill="#0d080a"/>
<rect x="428.70" y="849.12" width="5.20" height="5.26" fill="#0f090b"/>
<rect x="433.40" y="849.12" width="5.20" height="5.26" fill="#120a0c"/>
<rect x="438.10" y="849.12" width="5.20" height="5.26" fill="#150c0f"/>
<rect x="442.80" y="849.12" width="5.20" height="5.26" fill="#1a1013"/>
<rect x="447.50" y="849.12" width="5.20" height="5.26" fill="#21171b"/>
<rect x="452.20" y="849.12" width="5.20" height="5.26" fill="#2d2226"/>
<rect x="456.90" y="849.12" width="5.20" height="5.26" fill="#3d3133"/>
<rect x="461.60" y="849.12" width="5.20" height="5.26" fill="#4f4140"/>
<rect x="466.30" y="849.12" width="5.20" height="5.26" fill="#5e4f49"/>
<rect x="471.00" y="849.12" width="5.20" height="5.26" fill="#69584d"/>
<rect x="475.70" y="849.12" width="5.20" height="5.26" fill="#6c5a4e"/>
<rect x="480.40" y="849.12" width="5.20" height="5.26" fill="#69574b"/>
<rect x="485.10" y="849.12" width="5.20" height="5.26" fill="#604f45"/>
<rect x="489.80" y="849.12" width="5.20" height="5.26" fill="#55453d"/>
<rect x="494.50" y="849.12" width="5.20" height="5.26" fill="#4c3c36"/>
<rect x="499.20" y="849.12" width="5.20" height="5.26" fill="#463732"/>
<rect x="503.90" y="849.12" width="5.20" height="5.26" fill="#443631"/>
<rect x="508.60" y="849.12" width="5.20" height="5.26" fill="#423630"/>
<rect x="513.30" y="849.12" width="5.20" height="5.26" fill="#433630"/>
<rect x="518.00" y="849.12" width="5.20" height="5.26" fill="#443631"/>
<rect x="522.70" y="849.12" width="5.20" height="5.26" fill="#483933"/>
<rect x="527.40" y="849.12" width="5.20" height="5.26" fill="#4f3f38"/>
<rect x="532.10" y="849.12" width="5.20" height="5.26" fill="#5a4940"/>
<rect x="536.80" y="849.12" width="5.20" height="5.26" fill="#645348"/>
<rect x="541.50" y="849.12" width="5.20" height="5.26" fill="#6b594d"/>
<rect x="546.20" y="849.12" width="5.20" height="5.26" fill="#6c5a4e"/>
<rect x="550.90" y="849.12" width="5.20" height="5.26" fill="#6a5749"/>
<rect x="555.60" y="849.12" width="5.20" height="5.26" fill="#614f3f"/>
<rect x="560.30" y="849.12" width="5.20" height="5.26" fill="#534132"/>
<rect x="565.00" y="849.12" width="5.20" height="5.26" fill="#402f25"/>
<rect x="569.70" y="849.12" width="5.20" height="5.26" fill="#2d1f1a"/>
<rect x="574.40" y="849.12" width="5.20" height="5.26" fill="#201413"/>
<rect x="579.10" y="849.12" width="5.20" height="5.26" fill="#180e0f"/>
<rect x="583.80" y="849.12" width="5.20" height="5.26" fill="#130b0d"/>
<rect x="588.50" y="849.12" width="5.20" height="5.26" fill="#110a0c"/>
<rect x="593.20" y="849.12" width="5.20" height="5.26" fill="#0e080a"/>
<rect x="597.90" y="849.12" width="5.20" height="5.26" fill="#0d080a"/>
<rect x="602.60" y="849.12" width="5.20" height="5.26" fill="#0c0709"/>
<rect x="419.30" y="853.89" width="5.20" height="5.26" fill="#0b0709"/>
<rect x="424.00" y="853.89" width="5.20" height="5.26" fill="#0c0709"/>
<rect x="428.70" y="853.89" width="5.20" height="5.26" fill="#0d080a"/>
<rect x="433.40" y="853.89" width="5.20" height="5.26" fill="#0f090b"/>
<rect x="438.10" y="853.89" width="5.20" height="5.26" fill="#110a0c"/>
<rect x="442.80" y="853.89" width="5.20" height="5.26" fill="#140b0e"/>
<rect x="447.50" y="853.89" width="5.20" height="5.26" fill="#170e10"/>
<rect x="452.20" y="853.89" width="5.20" height="5.26" fill="#1b1114"/>
<rect x="456.90" y="853.89" width="5.20" height="5.26" fill="#211618"/>
<rect x="461.60" y="853.89" width="5.20" height="5.26" fill="#271b1d"/>
<rect x="466.30" y="853.89" width="5.20" height="5.26" fill="#2d2021"/>
<rect x="471.00" y="853.89" width="5.20" height="5.26" fill="#322423"/>
<rect x="475.70" y="853.89" width="5.20" height="5.26" fill="#332523"/>
<rect x="480.40" y="853.89" width="5.20" height="5.26" fill="#322422"/>
<rect x="485.10" y="853.89" width="5.20" height="5.26" fill="#2f2220"/>
<rect x="489.80" y="853.89" width="5.20" height="5.26" fill="#2d201f"/>
<rect x="494.50" y="853.89" width="5.20" height="5.26" fill="#2b1f1e"/>
<rect x="499.20" y="853.89" width="5.20" height="5.26" fill="#2b201e"/>
<rect x="503.90" y="853.89" width="5.20" height="5.26" fill="#2b211f"/>
<rect x="508.60" y="853.89" width="5.20" height="5.26" fill="#2b211f"/>
<rect x="513.30" y="853.89" width="5.20" height="5.26" fill="#2b211f"/>
<rect x="518.00" y="853.89" width="5.20" height="5.26" fill="#2b201f"/>
<rect x="522.70" y="853.89" width="5.20" height="5.26" fill="#2b1f1e"/>
<rect x="527.40" y="853.89" width="5.20" height="5.26" fill="#2c1f1e"/>
<rect x="532.10" y="853.89" width="5.20" height="5.26" fill="#2e201f"/>
<rect x="536.80" y="853.89" width="5.20" height="5.26" fill="#302321"/>
<rect x="541.50" y="853.89" width="5.20" height="5.26" fill="#332423"/>
<rect x="546.20" y="853.89" width="5.20" height="5.26" fill="#332523"/>
<rect x="550.90" y="853.89" width="5.20" height="5.26" fill="#322321"/>
<rect x="555.60" y="853.89" width="5.20" height="5.26" fill="#2d1f1d"/>
<rect x="560.30" y="853.89" width="5.20" height="5.26" fill="#271a18"/>
<rect x="565.00" y="853.89" width="5.20" height="5.26" fill="#201414"/>
<rect x="569.70" y="853.89" width="5.20" height="5.26" fill="#1a0f10"/>
<rect x="574.40" y="853.89" width="5.20" height="5.26" fill="#160d0e"/>
<rect x="579.10" y="853.89" width="5.20" height="5.26" fill="#130b0d"/>
<rect x="583.80" y="853.89" width="5.20" height="5.26" fill="#10090b"/>
<rect x="588.50" y="853.89" width="5.20" height="5.26" fill="#0e080a"/>
<rect x="593.20" y="853.89" width="5.20" height="5.26" fill="#0d080a"/>
<rect x="597.90" y="853.89" width="5.20" height="5.26" fill="#0c0709"/>
<rect x="602.60" y="853.89" width="5.20" height="5.26" fill="#0b0709"/>
<rect x="419.30" y="858.65" width="5.20" height="5.26" fill="#0b0608"/>
<rect x="424.00" y="858.65" width="5.20" height="5.26" fill="#0b0709"/>
<rect x="428.70" y="858.65" width="5.20" height="5.26" fill="#0c0709"/>
<rect x="433.40" y="858.65" width="5.20" height="5.26" fill="#0d080a"/>
<rect x="438.10" y="858.65" width="5.20" height="5.26" fill="#0f090b"/>
<rect x="442.80" y="858.65" width="5.20" height="5.26" fill="#10090b"/>
<rect x="447.50" y="858.65" width="5.20" height="5.26" fill="#120a0d"/>
<rect x="452.20" y="858.65" width="5.20" height="5.26" fill="#140c0e"/>
<rect x="456.90" y="858.65" width="5.20" height="5.26" fill="#160d0f"/>
<rect x="461.60" y="858.65" width="5.20" height="5.26" fill="#180e11"/>
<rect x="466.30" y="858.65" width="5.20" height="5.26" fill="#1a1012"/>
<rect x="471.00" y="858.65" width="5.20" height="5.26" fill="#1b1012"/>
<rect x="475.70" y="858.65" width="5.20" height="5.26" fill="#1c1112"/>
<rect x="480.40" y="858.65" width="5.20" height="5.26" fill="#1c1112"/>
<rect x="485.10" y="858.65" width="5.20" height="5.26" fill="#1b1112"/>
<rect x="489.80" y="858.65" width="5.20" height="5.26" fill="#1b1112"/>
<rect x="494.50" y="858.65" width="5.20" height="5.26" fill="#1b1213"/>
<rect x="499.20" y="858.65" width="5.20" height="5.26" fill="#1b1213"/>
<rect x="503.90" y="858.65" width="5.20" height="5.26" fill="#1b1313"/>
<rect x="508.60" y="858.65" width="5.20" height="5.26" fill="#1a1213"/>
<rect x="513.30" y="858.65" width="5.20" height="5.26" fill="#1a1313"/>
<rect x="518.00" y="858.65" width="5.20" height="5.26" fill="#1b1313"/>
<rect x="522.70" y="858.65" width="5.20" height="5.26" fill="#1b1213"/>
<rect x="527.40" y="858.65" width="5.20" height="5.26" fill="#1b1113"/>
<rect x="532.10" y="858.65" width="5.20" height="5.26" fill="#1b1112"/>
<rect x="536.80" y="858.65" width="5.20" height="5.26" fill="#1b1112"/>
<rect x="541.50" y="858.65" width="5.20" height="5.26" fill="#1c1112"/>
<rect x="546.20" y="858.65" width="5.20" height="5.26" fill="#1c1112"/>
<rect x="550.90" y="858.65" width="5.20" height="5.26" fill="#1b1012"/>
<rect x="555.60" y="858.65" width="5.20" height="5.26" fill="#1a0f11"/>
<rect x="560.30" y="858.65" width="5.20" height="5.26" fill="#180e0f"/>
<rect x="565.00" y="858.65" width="5.20" height="5.26" fill="#160c0e"/>
<rect x="569.70" y="858.65" width="5.20" height="5.26" fill="#130b0d"/>
<rect x="574.40" y="858.65" width="5.20" height="5.26" fill="#110a0c"/>
<rect x="579.10" y="858.65" width="5.20" height="5.26" fill="#10090b"/>
<rect x="583.80" y="858.65" width="5.20" height="5.26" fill="#0e080a"/>
<rect x="588.50" y="858.65" width="5.20" height="5.26" fill="#0d080a"/>
<rect x="593.20" y="858.65" width="5.20" height="5.26" fill="#0c0709"/>
<rect x="597.90" y="858.65" width="5.20" height="5.26" fill="#0b0709"/>
<rect x="602.60" y="858.65" width="5.20" height="5.26" fill="#0b0608"/>
<rect x="419.30" y="863.41" width="5.20" height="5.26" fill="#0a0608"/>
<rect x="424.00" y="863.41" width="5.20" height="5.26" fill="#0b0608"/>
<rect x="428.70" y="863.41" width="5.20" height="5.26" fill="#0b0709"/>
<rect x="433.40" y="863.41" width="5.20" height="5.26" fill="#0c0709"/>
<rect x="438.10" y="863.41" width="5.20" height="5.26" fill="#0d080a"/>
<rect x="442.80" y="863.41" width="5.20" height="5.26" fill="#0e080a"/>
<rect x="447.50" y="863.41" width="5.20" height="5.26" fill="#0f090b"/>
<rect x="452.20" y="863.41" width="5.20" height="5.26" fill="#10090b"/>
<rect x="456.90" y="863.41" width="5.20" height="5.26" fill="#120a0c"/>
<rect x="461.60" y="863.41" width="5.20" height="5.26" fill="#130b0d"/>
<rect x="466.30" y="863.41" width="5.20" height="5.26" fill="#130b0d"/>
<rect x="471.00" y="863.41" width="5.20" height="5.26" fill="#140b0d"/>
<rect x="475.70" y="863.41" width="5.20" height="5.26" fill="#140b0d"/>
<rect x="480.40" y="863.41" width="5.20" height="5.26" fill="#140b0d"/>
<rect x="485.10" y="863.41" width="5.20" height="5.26" fill="#140c0d"/>
<rect x="489.80" y="863.41" width="5.20" height="5.26" fill="#140c0d"/>
<rect x="494.50" y="863.41" width="5.20" height="5.26" fill="#130c0d"/>
<rect x="499.20" y="863.41" width="5.20" height="5.26" fill="#120b0d"/>
<rect x="503.90" y="863.41" width="5.20" height="5.26" fill="#120b0d"/>
<rect x="508.60" y="863.41" width="5.20" height="5.26" fill="#110b0c"/>
<rect x="513.30" y="863.41" width="5.20" height="5.26" fill="#110b0d"/>
<rect x="518.00" y="863.41" width="5.20" height="5.26" fill="#120b0d"/>
<rect x="522.70" y="863.41" width="5.20" height="5.26" fill="#130c0d"/>
<rect x="527.40" y="863.41" width="5.20" height="5.26" fill="#130c0d"/>
<rect x="532.10" y="863.41" width="5.20" height="5.26" fill="#140c0d"/>
<rect x="536.80" y="863.41" width="5.20" height="5.26" fill="#140c0d"/>
<rect x="541.50" y="863.41" width="5.20" height="5.26" fill="#140b0d"/>
<rect x="546.20" y="863.41" width="5.20" height="5.26" fill="#140b0d"/>
<rect x="550.90" y="863.41" width="5.20" height="5.26" fill="#140b0d"/>
<rect x="555.60" y="863.41" width="5.20" height="5.26" fill="#130b0d"/>
<rect x="560.30" y="863.41" width="5.20" height="5.26" fill="#120a0c"/>
<rect x="565.00" y="863.41" width="5.20" height="5.26" fill="#110a0c"/>
<rect x="569.70" y="863.41" width="5.20" height="5.26" fill="#10090b"/>
<rect x="574.40" y="863.41" width="5.20" height="5.26" fill="#0f080a"/>
<rect x="579.10" y="863.41" width="5.20" height="5.26" fill="#0d080a"/>
<rect x="583.80" y="863.41" width="5.20" height="5.26" fill="#0c0709"/>
<rect x="588.50" y="863.41" width="5.20" height="5.26" fill="#0c0709"/>
<rect x="593.20" y="863.41" width="5.20" height="5.26" fill="#0b0709"/>
<rect x="597.90" y="863.41" width="5.20" height="5.26" fill="#0b0608"/>
<rect x="602.60" y="863.41" width="5.20" height="5.26" fill="#0a0608"/>
<rect x="419.30" y="868.17" width="5.20" height="5.26" fill="#0a0608"/>
<rect x="424.00" y="868.17" width="5.20" height="5.26" fill="#0a0608"/>
<rect x="428.70" y="868.17" width="5.20" height="5.26" fill="#0b0608"/>
<rect x="433.40" y="868.17" width="5.20" height="5.26" fill="#0b0709"/>
<rect x="438.10" y="868.17" width="5.20" height="5.26" fill="#0c0709"/>
<rect x="442.80" y="868.17" width="5.20" height="5.26" fill="#0c0709"/>
<rect x="447.50" y="868.17" width="5.20" height="5.26" fill="#0d080a"/>
<rect x="452.20" y="868.17" width="5.20" height="5.26" fill="#0e080a"/>
<rect x="456.90" y="868.17" width="5.20" height="5.26" fill="#0e080a"/>
<rect x="461.60" y="868.17" width="5.20" height="5.26" fill="#0f090b"/>
<rect x="466.30" y="868.17" width="5.20" height="5.26" fill="#10090b"/>
<rect x="471.00" y="868.17" width="5.20" height="5.26" fill="#10090b"/>
<rect x="475.70" y="868.17" width="5.20" height="5.26" fill="#10090b"/>
<rect x="480.40" y="868.17" width="5.20" height="5.26" fill="#10090b"/>
<rect x="485.10" y="868.17" width="5.20" height="5.26" fill="#10090b"/>
<rect x="489.80" y="868.17" width="5.20" height="5.26" fill="#0f090b"/>
<rect x="494.50" y="868.17" width="5.20" height="5.26" fill="#0f090b"/>
<rect x="499.20" y="868.17" width="5.20" height="5.26" fill="#0e080a"/>
<rect x="503.90" y="868.17" width="5.20" height="5.26" fill="#0d080a"/>
<rect x="508.60" y="868.17" width="5.20" height="5.26" fill="#0d080a"/>
<rect x="513.30" y="868.17" width="5.20" height="5.26" fill="#0d080a"/>
<rect x="518.00" y="868.17" width="5.20" height="5.26" fill="#0e080a"/>
<rect x="522.70" y="868.17" width="5.20" height="5.26" fill="#0e080a"/>
<rect x="527.40" y="868.17" width="5.20" height="5.26" fill="#0f090b"/>
<rect x="532.10" y="868.17" width="5.20" height="5.26" fill="#0f090b"/>
<rect x="536.80" y="868.17" width="5.20" height="5.26" fill="#10090b"/>
<rect x="541.50" y="868.17" width="5.20" height="5.26" fill="#10090b"/>
<rect x="546.20" y="868.17" width="5.20" height="5.26" fill="#10090b"/>
<rect x="550.90" y="868.17" width="5.20" height="5.26" fill="#10090b"/>
<rect x="555.60" y="868.17" width="5.20" height="5.26" fill="#10090b"/>
<rect x="560.30" y="868.17" width="5.20" height="5.26" fill="#0f090b"/>
<rect x="565.00" y="868.17" width="5.20" height="5.26" fill="#0e080a"/>
<rect x="569.70" y="868.17" width="5.20" height="5.26" fill="#0d080a"/>
<rect x="574.40" y="868.17" width="5.20" height="5.26" fill="#0d0709"/>
<rect x="579.10" y="868.17" width="5.20" height="5.26" fill="#0c0709"/>
<rect x="583.80" y="868.17" width="5.20" height="5.26" fill="#0b0709"/>
<rect x="588.50" y="868.17" width="5.20" height="5.26" fill="#0b0608"/>
<rect x="593.20" y="868.17" width="5.20" height="5.26" fill="#0b0608"/>
<rect x="597.90" y="868.17" width="5.20" height="5.26" fill="#0a0608"/>
<rect x="602.60" y="868.17" width="5.20" height="5.26" fill="#0a0608"/>
<rect x="419.30" y="872.94" width="5.20" height="5.26" fill="#0a0608"/>
<rect x="424.00" y="872.94" width="5.20" height="5.26" fill="#0a0608"/>
<rect x="428.70" y="872.94" width="5.20" height="5.26" fill="#0a0608"/>
<rect x="433.40" y="872.94" width="5.20" height="5.26" fill="#0b0608"/>
<rect x="438.10" y="872.94" width="5.20" height="5.26" fill="#0b0608"/>
<rect x="442.80" y="872.94" width="5.20" height="5.26" fill="#0b0709"/>
<rect x="447.50" y="872.94" width="5.20" height="5.26" fill="#0c0709"/>
<rect x="452.20" y="872.94" width="5.20" height="5.26" fill="#0c0709"/>
<rect x="456.90" y="872.94" width="5.20" height="5.26" fill="#0c0709"/>
<rect x="461.60" y="872.94" width="5.20" height="5.26" fill="#0d080a"/>
<rect x="466.30" y="872.94" width="5.20" height="5.26" fill="#0d080a"/>
<rect x="471.00" y="872.94" width="5.20" height="5.26" fill="#0d080a"/>
<rect x="475.70" y="872.94" width="5.20" height="5.26" fill="#0d080a"/>
<rect x="480.40" y="872.94" width="5.20" height="5.26" fill="#0d080a"/>
<rect x="485.10" y="872.94" width="5.20" height="5.26" fill="#0d080a"/>
<rect x="489.80" y="872.94" width="5.20" height="5.26" fill="#0d080a"/>
<rect x="494.50" y="872.94" width="5.20" height="5.26" fill="#0c0709"/>
<rect x="499.20" y="872.94" width="5.20" height="5.26" fill="#0c0709"/>
<rect x="503.90" y="872.94" width="5.20" height="5.26" fill="#0c0709"/>
<rect x="508.60" y="872.94" width="5.20" height="5.26" fill="#0b0709"/>
<rect x="513.30" y="872.94" width="5.20" height="5.26" fill="#0b0709"/>
<rect x="518.00" y="872.94" width="5.20" height="5.26" fill="#0c0709"/>
<rect x="522.70" y="872.94" width="5.20" height="5.26" fill="#0c0709"/>
<rect x="527.40" y="872.94" width="5.20" height="5.26" fill="#0d0709"/>
<rect x="532.10" y="872.94" width="5.20" height="5.26" fill="#0d080a"/>
<rect x="536.80" y="872.94" width="5.20" height="5.26" fill="#0d080a"/>
<rect x="541.50" y="872.94" width="5.20" height="5.26" fill="#0d080a"/>
<rect x="546.20" y="872.94" width="5.20" height="5.26" fill="#0d080a"/>
<rect x="550.90" y="872.94" width="5.20" height="5.26" fill="#0d080a"/>
<rect x="555.60" y="872.94" width="5.20" height="5.26" fill="#0d080a"/>
<rect x="560.30" y="872.94" width="5.20" height="5.26" fill="#0d0709"/>
<rect x="565.00" y="872.94" width="5.20" height="5.26" fill="#0c0709"/>
<rect x="569.70" y="872.94" width="5.20" height="5.26" fill="#0c0709"/>
<rect x="574.40" y="872.94" width="5.20" height="5.26" fill="#0b0709"/>
<rect x="579.10" y="872.94" width="5.20" height="5.26" fill="#0b0709"/>
<rect x="583.80" y="872.94" width="5.20" height="5.26" fill="#0b0608"/>
<rect x="588.50" y="872.94" width="5.20" height="5.26" fill="#0a0608"/>
<rect x="593.20" y="872.94" width="5.20" height="5.26" fill="#0a0608"/>
<rect x="597.90" y="872.94" width="5.20" height="5.26" fill="#0a0608"/>
<rect x="602.60" y="872.94" width="5.20" height="5.26" fill="#0a0608"/>
</g></g>
<line x1="412" y1="668.6" x2="607.6" y2="668.6" stroke="#44246e" stroke-width="3.2" stroke-dasharray="5.1 3.6"/>
<polygon points="378.7,668.4 411.2,650.2 411.2,687.6" fill="#44246e"/>
<line x1="419.8" y1="811.9" x2="612" y2="811.9" stroke="#e33423" stroke-width="3.2" stroke-dasharray="5.1 3.6"/>
<polygon points="644.5,812.6 612.1,793.9 612.1,831.5" fill="#e33423"/>
<text x="-1" y="1008" font-size="42" text-anchor="start" font-weight="bold" fill="#000" >c</text>
<path d="M161.3 1328.2 L205.2 1318.3 L249.1 1321.4 L293.1 1322.8 L337 1329.5 L380.9 1311.6 L424.8 1314.7 L468.8 1321.4 L512.7 1320 L556.6 1320 L600.5 1317 L644.4 1331 L688.4 1325 L732.3 1330 L776.2 1334 L820.1 1352.2 L864.1 1333.4 L908 1339.3 L951.9 1331.6" fill="none" stroke="#44246e" stroke-width="6" stroke-linejoin="round" stroke-linecap="round" />
<circle cx="161.3" cy="1328.2" r="14" fill="#44246e"/>
<circle cx="205.2" cy="1318.3" r="14" fill="#44246e"/>
<circle cx="249.1" cy="1321.4" r="14" fill="#44246e"/>
<circle cx="293.1" cy="1322.8" r="14" fill="#44246e"/>
<circle cx="337" cy="1329.5" r="14" fill="#44246e"/>
<circle cx="380.9" cy="1311.6" r="14" fill="#44246e"/>
<circle cx="424.8" cy="1314.7" r="14" fill="#44246e"/>
<circle cx="468.8" cy="1321.4" r="14" fill="#44246e"/>
<circle cx="512.7" cy="1320" r="14" fill="#44246e"/>
<circle cx="556.6" cy="1320" r="14" fill="#44246e"/>
<circle cx="600.5" cy="1317" r="14" fill="#44246e"/>
<circle cx="644.4" cy="1331" r="14" fill="#44246e"/>
<circle cx="688.4" cy="1325" r="14" fill="#44246e"/>
<circle cx="732.3" cy="1330" r="14" fill="#44246e"/>
<circle cx="776.2" cy="1334" r="14" fill="#44246e"/>
<circle cx="820.1" cy="1352.2" r="14" fill="#44246e"/>
<circle cx="864.1" cy="1333.4" r="14" fill="#44246e"/>
<circle cx="908" cy="1339.3" r="14" fill="#44246e"/>
<circle cx="951.9" cy="1331.6" r="14" fill="#44246e"/>
<path d="M161.3 1117.2 L205.2 1084.8 L249.1 1104.8 L293.1 1128.7 L337 1160.6 L380.9 1196.8 L424.8 1189.6 L468.8 1186.1 L512.7 1157.1 L556.6 1114.7 L600.5 1090.9 L644.4 1087.3 L688.4 1122.6 L732.3 1169.4 L776.2 1203.4 L820.1 1215.3 L864.1 1202 L908 1163.7 L951.9 1130.6" fill="none" stroke="#e33423" stroke-width="6" stroke-linejoin="round" stroke-linecap="round" />
<circle cx="161.3" cy="1117.2" r="14" fill="#e33423"/>
<circle cx="205.2" cy="1084.8" r="14" fill="#e33423"/>
<circle cx="249.1" cy="1104.8" r="14" fill="#e33423"/>
<circle cx="293.1" cy="1128.7" r="14" fill="#e33423"/>
<circle cx="337" cy="1160.6" r="14" fill="#e33423"/>
<circle cx="380.9" cy="1196.8" r="14" fill="#e33423"/>
<circle cx="424.8" cy="1189.6" r="14" fill="#e33423"/>
<circle cx="468.8" cy="1186.1" r="14" fill="#e33423"/>
<circle cx="512.7" cy="1157.1" r="14" fill="#e33423"/>
<circle cx="556.6" cy="1114.7" r="14" fill="#e33423"/>
<circle cx="600.5" cy="1090.9" r="14" fill="#e33423"/>
<circle cx="644.4" cy="1087.3" r="14" fill="#e33423"/>
<circle cx="688.4" cy="1122.6" r="14" fill="#e33423"/>
<circle cx="732.3" cy="1169.4" r="14" fill="#e33423"/>
<circle cx="776.2" cy="1203.4" r="14" fill="#e33423"/>
<circle cx="820.1" cy="1215.3" r="14" fill="#e33423"/>
<circle cx="864.1" cy="1202" r="14" fill="#e33423"/>
<circle cx="908" cy="1163.7" r="14" fill="#e33423"/>
<circle cx="951.9" cy="1130.6" r="14" fill="#e33423"/>
<circle cx="610.7" cy="1215.7" r="17.6" fill="#e33423"/><circle cx="647.3" cy="1215.7" r="17.6" fill="#e33423"/>
<circle cx="803.9" cy="1092.2" r="17.2" fill="#e33423"/><circle cx="840.1" cy="1092.2" r="17.2" fill="#e33423"/>
<line x1="630" y1="1186.6" x2="630" y2="1145.5" stroke="#e33423" stroke-width="3.4" stroke-dasharray="3.3 3"/>
<path d="M629.8 1124.2 L638.2 1146.8 Q630 1142.4 621.3 1146.8 Z" fill="#e33423"/>
<line x1="821.1" y1="1116.6" x2="821.1" y2="1154" stroke="#e33423" stroke-width="3.4" stroke-dasharray="3.3 3"/>
<path d="M821.1 1175.7 L829.5 1153.2 Q821.1 1157.5 813 1153.2 Z" fill="#e33423"/>
<line x1="612" y1="1246.5" x2="648" y2="1246.5" stroke="#c9261c" stroke-width="2.4"/>
<path d="M598.8 1246.5 L616 1240 L613.5 1246.5 L616 1253.2 Z" fill="#d42a1e" stroke="#c9261c" stroke-width="0.6" stroke-linejoin="round"/>
<path d="M661.9 1246.5 L641.9 1241.2 L645 1246.5 L641.9 1252.2 Z" fill="#d42a1e" stroke="#c9261c" stroke-width="0.6" stroke-linejoin="round"/>
<line x1="870.7" y1="1076" x2="870.7" y2="1111" stroke="#c9261c" stroke-width="2.7"/>
<path d="M870.7 1062.2 L876.3 1081.9 L870.7 1077.5 L865 1081.9 Z" fill="#d42a1e" stroke="#c9261c" stroke-width="0.6" stroke-linejoin="round"/>
<path d="M870.7 1125.4 L877.5 1108 L870.7 1109.8 L864.1 1108 Z" fill="#d42a1e" stroke="#c9261c" stroke-width="0.6" stroke-linejoin="round"/>
<text x="619.3" y="1276.6" font-size="29" text-anchor="start" font-weight="normal" fill="#d0241a" >E</text>
<text x="878.6" y="1107.1" font-size="29" text-anchor="start" font-weight="normal" fill="#d0241a" >E</text>
<rect x="138.3" y="1016" width="450.3" height="56.4" rx="6" fill="#fff" fill-opacity="0.8" stroke="#d4d4d4" stroke-width="3.8"/>
<line x1="147.5" y1="1043.1" x2="218.6" y2="1043.1" stroke="#44246e" stroke-width="6.4"/>
<circle cx="183" cy="1043.2" r="14" fill="#44246e"/>
<text x="230.8" y="1052" font-size="25" text-anchor="start" font-weight="normal" fill="#000" >No gap</text>
<line x1="420" y1="1043.1" x2="491.2" y2="1043.1" stroke="#e33423" stroke-width="6.4"/>
<circle cx="455.9" cy="1043.2" r="14" fill="#e33423"/>
<text x="503.8" y="1052" font-size="25" text-anchor="start" font-weight="normal" fill="#000" >Gap</text>
<rect x="121.7" y="999.7" width="869.5999999999999" height="385.79999999999995" fill="none" stroke="#000" stroke-width="2.9"/>
<line x1="161.3" y1="999.7" x2="161.3" y2="1013.7" stroke="#000" stroke-width="2.9"/>
<line x1="161.3" y1="1385.5" x2="161.3" y2="1371.5" stroke="#000" stroke-width="2.9"/>
<line x1="358.9" y1="999.7" x2="358.9" y2="1013.7" stroke="#000" stroke-width="2.9"/>
<line x1="358.9" y1="1385.5" x2="358.9" y2="1371.5" stroke="#000" stroke-width="2.9"/>
<line x1="556.6" y1="999.7" x2="556.6" y2="1013.7" stroke="#000" stroke-width="2.9"/>
<line x1="556.6" y1="1385.5" x2="556.6" y2="1371.5" stroke="#000" stroke-width="2.9"/>
<line x1="754.2" y1="999.7" x2="754.2" y2="1013.7" stroke="#000" stroke-width="2.9"/>
<line x1="754.2" y1="1385.5" x2="754.2" y2="1371.5" stroke="#000" stroke-width="2.9"/>
<line x1="951.9" y1="999.7" x2="951.9" y2="1013.7" stroke="#000" stroke-width="2.9"/>
<line x1="951.9" y1="1385.5" x2="951.9" y2="1371.5" stroke="#000" stroke-width="2.9"/>
<line x1="121.7" y1="1385.1" x2="135.7" y2="1385.1" stroke="#000" stroke-width="2.9"/>
<line x1="991.3" y1="1385.1" x2="977.3" y2="1385.1" stroke="#000" stroke-width="2.9"/>
<line x1="121.7" y1="1231.2" x2="135.7" y2="1231.2" stroke="#000" stroke-width="2.9"/>
<line x1="991.3" y1="1231.2" x2="977.3" y2="1231.2" stroke="#000" stroke-width="2.9"/>
<line x1="121.7" y1="1077.4" x2="135.7" y2="1077.4" stroke="#000" stroke-width="2.9"/>
<line x1="991.3" y1="1077.4" x2="977.3" y2="1077.4" stroke="#000" stroke-width="2.9"/>
<text x="160.7" y="1421.6" font-size="30" text-anchor="middle" font-weight="normal" fill="#000" >0</text>
<text x="358.3" y="1421.6" font-size="30" text-anchor="middle" font-weight="normal" fill="#000" >90</text>
<text x="556" y="1421.6" font-size="30" text-anchor="middle" font-weight="normal" fill="#000" >180</text>
<text x="753.6" y="1421.6" font-size="30" text-anchor="middle" font-weight="normal" fill="#000" >270</text>
<text x="951.3" y="1421.6" font-size="30" text-anchor="middle" font-weight="normal" fill="#000" >360</text>
<text x="108.8" y="1395.1" font-size="30" text-anchor="end" font-weight="normal" fill="#000" >2</text>
<text x="108.8" y="1241.2" font-size="30" text-anchor="end" font-weight="normal" fill="#000" >3</text>
<text x="108.8" y="1087.4" font-size="30" text-anchor="end" font-weight="normal" fill="#000" >4</text>
<path d="M123 980.8 L136 993.8 M136 980.8 L123 993.8" stroke="#000" stroke-width="1.9"/>
<text x="138.6" y="994.6" font-size="30" text-anchor="start">10</text>
<text x="169.8" y="982.5" font-size="21" text-anchor="start" font-weight="normal" fill="#000" >5</text>
<text x="556.4" y="1465" font-size="29" text-anchor="middle" font-weight="normal" fill="#000" >Linear polarization angle (degree)</text>
<text x="0" y="0" font-size="29" text-anchor="middle" transform="translate(25,1192.2) rotate(-90)">Integrated PL Intensity</text>
<text x="0" y="0" font-size="29" text-anchor="middle" transform="translate(59.8,1192.2) rotate(-90)">(Counts)</text>
</svg></body></html>
